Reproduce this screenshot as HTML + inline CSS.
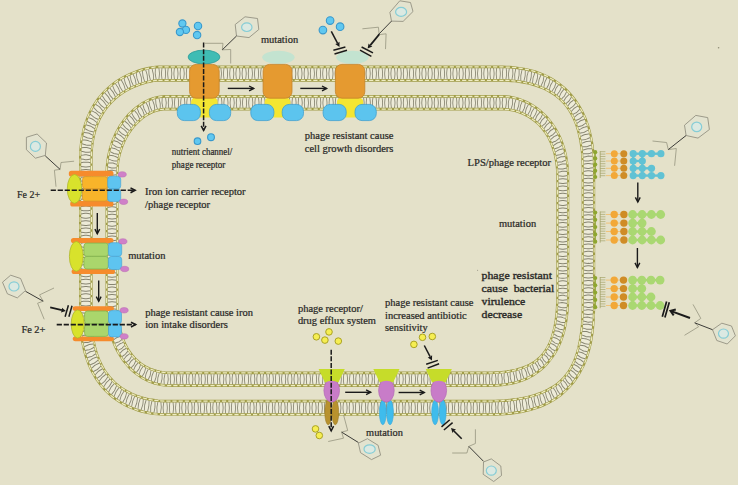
<!DOCTYPE html>
<html lang="en"><head><meta charset="utf-8"><title>Phage resistance mechanisms</title>
<style>
html,body{margin:0;padding:0;background:#e4e1c9;}
body{width:738px;height:485px;overflow:hidden;font-family:"Liberation Serif",serif;}
svg{display:block;}
</style></head><body>
<svg width="738" height="485" viewBox="0 0 738 485" font-family="'Liberation Serif', serif">
<rect width="738" height="485" fill="#e4e1c9"/>
<g transform="scale(1,1.18)" fill="none">
<path d="M158.9 62.4L162 62.4L165.1 62.4L168.2 62.4L171.3 62.4L174.4 62.4L177.5 62.4L180.6 62.4L183.7 62.4L186.8 62.4L189.9 62.4L193 62.4L196.1 62.4L199.2 62.4L202.3 62.4L205.4 62.4L208.5 62.4L211.6 62.4L214.7 62.4L217.8 62.4L220.9 62.4L224 62.4L227.1 62.4L230.2 62.4L233.3 62.4L236.4 62.4L239.5 62.4L242.6 62.4L245.7 62.4L248.8 62.4L251.9 62.4L255 62.4L258.1 62.4L261.2 62.4L264.3 62.4L267.4 62.4L270.5 62.4L273.6 62.4L276.7 62.4L279.8 62.4L282.9 62.4L286 62.4L289.1 62.4L292.2 62.4L295.3 62.4L298.4 62.4L301.5 62.4L304.6 62.4L307.7 62.4L310.8 62.4L313.9 62.4L317 62.4L320.1 62.4L323.2 62.4L326.3 62.4L329.4 62.4L332.5 62.4L335.6 62.4L338.7 62.4L341.8 62.4L344.9 62.4L348 62.4L351.1 62.4L354.2 62.4L357.3 62.4L360.4 62.4L363.5 62.4L366.6 62.4L369.7 62.4L372.8 62.4L375.9 62.4L379 62.4L382.1 62.4L385.2 62.4L388.3 62.4L391.4 62.4L394.5 62.4L397.6 62.4L400.7 62.4L403.8 62.4L406.9 62.4L410 62.4L413.1 62.4L416.2 62.4L419.3 62.4L422.4 62.4L425.5 62.4L428.6 62.4L431.7 62.4L434.8 62.4L437.9 62.4L441 62.4L444.1 62.4L447.2 62.4L450.3 62.4L453.4 62.4L456.5 62.4L459.6 62.4L462.7 62.4L465.8 62.4L468.8 62.4L471.9 62.4L475 62.4L478.1 62.4L481.2 62.4L484.3 62.4L487.4 62.4L490.5 62.4L493.6 62.4L496.7 62.4L499.8 62.4L502.9 62.4L506 62.5L509.1 62.6L512.2 62.8L515.3 63.1L518.4 63.4L521.5 63.8L524.5 64.2L527.6 64.8L530.6 65.4L533.6 66.1L536.6 66.9L539.6 67.8L542.5 68.8L545.4 69.9L548.3 71.1L551.1 72.4L553.8 73.9L556.5 75.4L559.1 77.1L561.6 78.9L564.1 80.8L566.4 82.9L568.6 85L570.7 87.3L572.7 89.7L574.6 92.2L576.3 94.7L577.9 97.4L579.4 100.1L580.8 102.9L582 105.7L583.1 108.6L584.1 111.6L584.9 114.6L585.7 117.6L586.3 120.6L586.9 123.6L587.3 126.7L587.7 129.8L588 132.9L588.2 136L588.3 139.1L588.4 142.2L588.4 145.3L588.4 148.4L588.4 151.5L588.4 154.6L588.4 157.7L588.4 160.8L588.4 163.9L588.4 167L588.4 170.1L588.4 173.2L588.4 176.3L588.4 179.4L588.4 182.5L588.4 185.6L588.4 188.7L588.4 191.8L588.4 194.9L588.4 198L588.4 201.1L588.4 204.2L588.4 207.3L588.4 210.4L588.4 213.5L588.4 216.6L588.4 219.7L588.4 222.7L588.4 225.8L588.4 228.9L588.4 232L588.4 235.1L588.4 238.2L588.4 241.3L588.4 244.4L588.4 247.5L588.4 250.6L588.4 253.7L588.4 256.8L588.4 259.9L588.3 263L588.2 266.1L588.1 269.2L587.9 272.3L587.6 275.4L587.3 278.5L586.8 281.6L586.3 284.6L585.7 287.7L585.1 290.7L584.3 293.7L583.4 296.7L582.4 299.6L581.3 302.5L580 305.3L578.7 308.1L577.2 310.8L575.5 313.4L573.7 316L571.8 318.4L569.8 320.8L567.6 323L565.4 325.1L563 327.1L560.5 328.9L557.9 330.6L555.3 332.2L552.5 333.7L549.8 335.1L546.9 336.4L544.1 337.5L541.1 338.6L538.2 339.5L535.2 340.4L532.2 341.2L529.2 341.9L526.2 342.5L523.1 343L520 343.5L517 344L513.9 344.3L510.8 344.6L507.7 344.9L504.6 345.1L501.5 345.3L498.4 345.4L495.3 345.5L492.2 345.6L489.1 345.6L486 345.6L483 345.6L479.9 345.6L476.8 345.6L473.7 345.6L470.6 345.6L467.5 345.6L464.4 345.6L461.3 345.6L458.2 345.6L455.1 345.6L452 345.6L448.9 345.6L445.8 345.6L442.7 345.6L439.6 345.6L436.5 345.6L433.4 345.6L430.3 345.6L427.2 345.6L424.1 345.6L421 345.6L417.9 345.6L414.8 345.6L411.7 345.6L408.6 345.6L405.5 345.6L402.4 345.6L399.3 345.6L396.2 345.6L393.1 345.6L390 345.6L386.9 345.6L383.8 345.6L380.7 345.6L377.6 345.6L374.5 345.6L371.4 345.6L368.3 345.6L365.2 345.6L362.1 345.6L359 345.6L355.9 345.6L352.8 345.6L349.7 345.6L346.6 345.6L343.5 345.6L340.4 345.6L337.3 345.6L334.2 345.6L331.1 345.6L328 345.6L324.9 345.6L321.8 345.6L318.7 345.6L315.6 345.6L312.5 345.6L309.4 345.6L306.3 345.6L303.2 345.6L300.1 345.6L297 345.6L293.9 345.6L290.8 345.6L287.7 345.6L284.6 345.6L281.5 345.6L278.4 345.6L275.3 345.6L272.2 345.6L269.1 345.6L266 345.6L262.9 345.6L259.8 345.6L256.7 345.6L253.6 345.6L250.5 345.6L247.4 345.6L244.3 345.6L241.2 345.6L238.1 345.6L235 345.6L231.9 345.6L228.8 345.6L225.7 345.6L222.6 345.6L219.5 345.6L216.4 345.6L213.3 345.6L210.2 345.6L207.1 345.6L204 345.6L200.9 345.6L197.8 345.6L194.7 345.6L191.6 345.6L188.5 345.6L185.4 345.6L182.3 345.6L179.2 345.6L176.1 345.6L173 345.6L169.9 345.6L166.8 345.6L163.7 345.6L160.6 345.4L157.5 345.2L154.4 344.9L151.4 344.6L148.3 344.1L145.2 343.5L142.2 342.9L139.2 342.1L136.2 341.3L133.3 340.3L130.4 339.3L127.5 338.1L124.7 336.8L121.9 335.4L119.2 333.9L116.6 332.3L114 330.5L111.5 328.7L109.1 326.7L106.8 324.6L104.7 322.4L102.6 320.1L100.6 317.7L98.8 315.2L97.1 312.6L95.5 309.9L94.1 307.2L92.8 304.4L91.6 301.5L90.5 298.6L89.6 295.6L88.8 292.7L88.1 289.6L87.4 286.6L86.9 283.5L86.5 280.5L86.2 277.4L86 274.3L85.9 271.2L85.8 268.1L85.8 265L85.8 261.9L85.8 258.8L85.8 255.7L85.8 252.6L85.8 249.5L85.8 246.4L85.8 243.3L85.8 240.2L85.8 237.1L85.8 234L85.8 230.9L85.8 227.8L85.8 224.7L85.8 221.6L85.8 218.5L85.8 215.4L85.8 212.3L85.8 209.2L85.8 206.1L85.8 203L85.8 199.9L85.8 196.8L85.8 193.7L85.8 190.6L85.8 187.5L85.8 184.4L85.8 181.3L85.8 178.2L85.8 175.1L85.8 172L85.8 168.9L85.8 165.8L85.8 162.7L85.8 159.6L85.8 156.5L85.8 153.4L85.8 150.3L85.8 147.2L85.8 144.1L85.8 141L85.8 137.9L85.8 134.8L85.8 131.7L86 128.6L86.3 125.5L86.6 122.5L87.1 119.4L87.7 116.4L88.5 113.4L89.4 110.4L90.4 107.4L91.5 104.6L92.8 101.7L94.2 99L95.8 96.3L97.5 93.7L99.3 91.2L101.3 88.8L103.3 86.5L105.5 84.3L107.8 82.2L110.2 80.2L112.6 78.3L115.2 76.6L117.8 74.9L120.5 73.4L123.2 71.9L126 70.6L128.9 69.3L131.7 68.2L134.7 67.2L137.6 66.2L140.6 65.4L143.6 64.6L146.6 63.9L149.7 63.4L152.7 62.9L155.8 62.5Z" stroke="#edebd8" stroke-width="9.9"/>
<path d="M158.9 67.2l.3-2.4l.2-1.8l0-1.2l-.2-1.8l-.3-2.4M162 67.2l-.3-2.4l-.2-1.8l0-1.2l.2-1.8l.3-2.4M165.1 67.2l.3-2.4l.2-1.8l0-1.2l-.2-1.8l-.3-2.4M168.2 67.2l-.3-2.4l-.2-1.8l0-1.2l.2-1.8l.3-2.4M171.3 67.2l.3-2.4l.2-1.8l0-1.2l-.2-1.8l-.3-2.4M174.4 67.2l-.3-2.4l-.2-1.8l0-1.2l.2-1.8l.3-2.4M177.5 67.2l.3-2.4l.2-1.8l0-1.2l-.2-1.8l-.3-2.4M180.6 67.2l-.3-2.4l-.2-1.8l0-1.2l.2-1.8l.3-2.4M183.7 67.2l.3-2.4l.2-1.8l0-1.2l-.2-1.8l-.3-2.4M186.8 67.2l-.3-2.4l-.2-1.8l0-1.2l.2-1.8l.3-2.4M189.9 67.2l.3-2.4l.2-1.8l0-1.2l-.2-1.8l-.3-2.4M193 67.2l-.3-2.4l-.2-1.8l0-1.2l.2-1.8l.3-2.4M196.1 67.2l.3-2.4l.2-1.8l0-1.2l-.2-1.8l-.3-2.4M199.2 67.2l-.3-2.4l-.2-1.8l0-1.2l.2-1.8l.3-2.4M202.3 67.2l.3-2.4l.2-1.8l0-1.2l-.2-1.8l-.3-2.4M205.4 67.2l-.3-2.4l-.2-1.8l0-1.2l.2-1.8l.3-2.4M208.5 67.2l.3-2.4l.2-1.8l0-1.2l-.2-1.8l-.3-2.4M211.6 67.2l-.3-2.4l-.2-1.8l0-1.2l.2-1.8l.3-2.4M214.7 67.2l.3-2.4l.2-1.8l0-1.2l-.2-1.8l-.3-2.4M217.8 67.2l-.3-2.4l-.2-1.8l0-1.2l.2-1.8l.3-2.4M220.9 67.2l.3-2.4l.2-1.8l0-1.2l-.2-1.8l-.3-2.4M224 67.2l-.3-2.4l-.2-1.8l0-1.2l.2-1.8l.3-2.4M227.1 67.2l.3-2.4l.2-1.8l0-1.2l-.2-1.8l-.3-2.4M230.2 67.2l-.3-2.4l-.2-1.8l0-1.2l.2-1.8l.3-2.4M233.3 67.2l.3-2.4l.2-1.8l0-1.2l-.2-1.8l-.3-2.4M236.4 67.2l-.3-2.4l-.2-1.8l0-1.2l.2-1.8l.3-2.4M239.5 67.2l.3-2.4l.2-1.8l0-1.2l-.2-1.8l-.3-2.4M242.6 67.2l-.3-2.4l-.2-1.8l0-1.2l.2-1.8l.3-2.4M245.7 67.2l.3-2.4l.2-1.8l0-1.2l-.2-1.8l-.3-2.4M248.8 67.2l-.3-2.4l-.2-1.8l0-1.2l.2-1.8l.3-2.4M251.9 67.2l.3-2.4l.2-1.8l0-1.2l-.2-1.8l-.3-2.4M255 67.2l-.3-2.4l-.2-1.8l0-1.2l.2-1.8l.3-2.4M258.1 67.2l.3-2.4l.2-1.8l0-1.2l-.2-1.8l-.3-2.4M261.2 67.2l-.3-2.4l-.2-1.8l0-1.2l.2-1.8l.3-2.4M264.3 67.2l.3-2.4l.2-1.8l0-1.2l-.2-1.8l-.3-2.4M267.4 67.2l-.3-2.4l-.2-1.8l0-1.2l.2-1.8l.3-2.4M270.5 67.2l.3-2.4l.2-1.8l0-1.2l-.2-1.8l-.3-2.4M273.6 67.2l-.3-2.4l-.2-1.8l0-1.2l.2-1.8l.3-2.4M276.7 67.2l.3-2.4l.2-1.8l0-1.2l-.2-1.8l-.3-2.4M279.8 67.2l-.3-2.4l-.2-1.8l0-1.2l.2-1.8l.3-2.4M282.9 67.2l.3-2.4l.2-1.8l0-1.2l-.2-1.8l-.3-2.4M286 67.2l-.3-2.4l-.2-1.8l0-1.2l.2-1.8l.3-2.4M289.1 67.2l.3-2.4l.2-1.8l0-1.2l-.2-1.8l-.3-2.4M292.2 67.2l-.3-2.4l-.2-1.8l0-1.2l.2-1.8l.3-2.4M295.3 67.2l.3-2.4l.2-1.8l0-1.2l-.2-1.8l-.3-2.4M298.4 67.2l-.3-2.4l-.2-1.8l0-1.2l.2-1.8l.3-2.4M301.5 67.2l.3-2.4l.2-1.8l0-1.2l-.2-1.8l-.3-2.4M304.6 67.2l-.3-2.4l-.2-1.8l0-1.2l.2-1.8l.3-2.4M307.7 67.2l.3-2.4l.2-1.8l0-1.2l-.2-1.8l-.3-2.4M310.8 67.2l-.3-2.4l-.2-1.8l0-1.2l.2-1.8l.3-2.4M313.9 67.2l.3-2.4l.2-1.8l0-1.2l-.2-1.8l-.3-2.4M317 67.2l-.3-2.4l-.2-1.8l0-1.2l.2-1.8l.3-2.4M320.1 67.2l.3-2.4l.2-1.8l0-1.2l-.2-1.8l-.3-2.4M323.2 67.2l-.3-2.4l-.2-1.8l0-1.2l.2-1.8l.3-2.4M326.3 67.2l.3-2.4l.2-1.8l0-1.2l-.2-1.8l-.3-2.4M329.4 67.2l-.3-2.4l-.2-1.8l0-1.2l.2-1.8l.3-2.4M332.5 67.2l.3-2.4l.2-1.8l0-1.2l-.2-1.8l-.3-2.4M335.6 67.2l-.3-2.4l-.2-1.8l0-1.2l.2-1.8l.3-2.4M338.7 67.2l.3-2.4l.2-1.8l0-1.2l-.2-1.8l-.3-2.4M341.8 67.2l-.3-2.4l-.2-1.8l0-1.2l.2-1.8l.3-2.4M344.9 67.2l.3-2.4l.2-1.8l0-1.2l-.2-1.8l-.3-2.4M348 67.2l-.3-2.4l-.2-1.8l0-1.2l.2-1.8l.3-2.4M351.1 67.2l.3-2.4l.2-1.8l0-1.2l-.2-1.8l-.3-2.4M354.2 67.2l-.3-2.4l-.2-1.8l0-1.2l.2-1.8l.3-2.4M357.3 67.2l.3-2.4l.2-1.8l0-1.2l-.2-1.8l-.3-2.4M360.4 67.2l-.3-2.4l-.2-1.8l0-1.2l.2-1.8l.3-2.4M363.5 67.2l.3-2.4l.2-1.8l0-1.2l-.2-1.8l-.3-2.4M366.6 67.2l-.3-2.4l-.2-1.8l0-1.2l.2-1.8l.3-2.4M369.7 67.2l.3-2.4l.2-1.8l0-1.2l-.2-1.8l-.3-2.4M372.8 67.2l-.3-2.4l-.2-1.8l0-1.2l.2-1.8l.3-2.4M375.9 67.2l.3-2.4l.2-1.8l0-1.2l-.2-1.8l-.3-2.4M379 67.2l-.3-2.4l-.2-1.8l0-1.2l.2-1.8l.3-2.4M382.1 67.2l.3-2.4l.2-1.8l0-1.2l-.2-1.8l-.3-2.4M385.2 67.2l-.3-2.4l-.2-1.8l0-1.2l.2-1.8l.3-2.4M388.3 67.2l.3-2.4l.2-1.8l0-1.2l-.2-1.8l-.3-2.4M391.4 67.2l-.3-2.4l-.2-1.8l0-1.2l.2-1.8l.3-2.4M394.5 67.2l.3-2.4l.2-1.8l0-1.2l-.2-1.8l-.3-2.4M397.6 67.2l-.3-2.4l-.2-1.8l0-1.2l.2-1.8l.3-2.4M400.7 67.2l.3-2.4l.2-1.8l0-1.2l-.2-1.8l-.3-2.4M403.8 67.2l-.3-2.4l-.2-1.8l0-1.2l.2-1.8l.3-2.4M406.9 67.2l.3-2.4l.2-1.8l0-1.2l-.2-1.8l-.3-2.4M410 67.2l-.3-2.4l-.2-1.8l0-1.2l.2-1.8l.3-2.4M413.1 67.2l.3-2.4l.2-1.8l0-1.2l-.2-1.8l-.3-2.4M416.2 67.2l-.3-2.4l-.2-1.8l0-1.2l.2-1.8l.3-2.4M419.3 67.2l.3-2.4l.2-1.8l0-1.2l-.2-1.8l-.3-2.4M422.4 67.2l-.3-2.4l-.2-1.8l0-1.2l.2-1.8l.3-2.4M425.5 67.2l.3-2.4l.2-1.8l0-1.2l-.2-1.8l-.3-2.4M428.6 67.2l-.3-2.4l-.2-1.8l0-1.2l.2-1.8l.3-2.4M431.7 67.2l.3-2.4l.2-1.8l0-1.2l-.2-1.8l-.3-2.4M434.8 67.2l-.3-2.4l-.2-1.8l0-1.2l.2-1.8l.3-2.4M437.9 67.2l.3-2.4l.2-1.8l0-1.2l-.2-1.8l-.3-2.4M441 67.2l-.3-2.4l-.2-1.8l0-1.2l.2-1.8l.3-2.4M444.1 67.2l.3-2.4l.2-1.8l0-1.2l-.2-1.8l-.3-2.4M447.2 67.2l-.3-2.4l-.2-1.8l0-1.2l.2-1.8l.3-2.4M450.3 67.2l.3-2.4l.2-1.8l0-1.2l-.2-1.8l-.3-2.4M453.4 67.2l-.3-2.4l-.2-1.8l0-1.2l.2-1.8l.3-2.4M456.5 67.2l.3-2.4l.2-1.8l0-1.2l-.2-1.8l-.3-2.4M459.6 67.2l-.3-2.4l-.2-1.8l0-1.2l.2-1.8l.3-2.4M462.7 67.2l.3-2.4l.2-1.8l0-1.2l-.2-1.8l-.3-2.4M465.8 67.2l-.3-2.4l-.2-1.8l0-1.2l.2-1.8l.3-2.4M468.8 67.2l.3-2.4l.2-1.8l0-1.2l-.2-1.8l-.3-2.4M471.9 67.2l-.3-2.4l-.2-1.8l0-1.2l.2-1.8l.3-2.4M475 67.2l.3-2.4l.2-1.8l0-1.2l-.2-1.8l-.3-2.4M478.1 67.2l-.3-2.4l-.2-1.8l0-1.2l.2-1.8l.3-2.4M481.2 67.2l.3-2.4l.2-1.8l0-1.2l-.2-1.8l-.3-2.4M484.3 67.2l-.3-2.4l-.2-1.8l0-1.2l.2-1.8l.3-2.4M487.4 67.2l.3-2.4l.2-1.8l0-1.2l-.2-1.8l-.3-2.4M490.5 67.2l-.3-2.4l-.2-1.8l0-1.2l.2-1.8l.3-2.4M493.6 67.2l.3-2.4l.2-1.8l0-1.2l-.2-1.8l-.3-2.4M496.7 67.2l-.3-2.4l-.2-1.8l0-1.2l.2-1.8l.3-2.4M499.8 67.2l.3-2.4l.2-1.8l0-1.2l-.2-1.8l-.3-2.4M502.9 67.2l-.3-2.4l-.2-1.8l0-1.2l.3-1.8l.3-2.4M505.9 67.3l.4-2.4l.3-1.8l0-1.2l-.2-1.8l-.2-2.4M508.9 67.4l-.2-2.4l-.2-1.8l.1-1.1l.3-1.8l.4-2.4M511.9 67.6l.5-2.4l.4-1.8l.1-1.1l-.1-1.8l-.1-2.4M514.9 67.8l-.1-2.4l-.1-1.8l.1-1.1l.4-1.8l.5-2.3M517.9 68.1l.6-2.3l.5-1.8l.1-1.1l0-1.8l0-2.4M520.8 68.5l0-2.4l0-1.8l.2-1.1l.5-1.8l.6-2.3M523.8 68.9l.7-2.3l.5-1.7l.2-1.1l0-1.8l.1-2.4M526.7 69.4l.1-2.4l.1-1.8l.2-1.1l.6-1.7l.7-2.3M529.6 70l.8-2.2l.6-1.7l.2-1.1l.1-1.8l.2-2.3M532.5 70.6l.3-2.3l.2-1.8l.3-1.1l.7-1.6l.9-2.2M535.4 71.3l.9-2.1l.7-1.6l.3-1.1l.2-1.7l.3-2.3M538.2 72.1l.4-2.3l.3-1.7l.3-1l.8-1.6l1-2.1M541 73l1-2l.8-1.5l.4-1l.3-1.7l.5-2.2M543.8 74l.5-2.2l.4-1.7l.4-1l.9-1.5l1.1-1.9M546.5 75.1l1.2-1.9l.9-1.4l.4-1l.5-1.6l.6-2.1M549.2 76.3l.7-2.1l.5-1.6l.5-.9l1-1.4l1.2-1.8M551.8 77.6l1.3-1.7l1-1.3l.5-.9l.6-1.5l.8-2M554.3 79l.8-2l.6-1.5l.5-.9l1-1.2l1.4-1.6M556.8 80.6l1.4-1.6l1.1-1.2l.6-.8l.7-1.4l.9-1.9M559.2 82.2l1-1.8l.7-1.4l.6-.8l1.1-1.1l1.5-1.5M561.5 84l1.5-1.4l1.2-1l.6-.8l.8-1.4l1.1-1.8M563.6 85.9l1.2-1.7l.9-1.3l.7-.7l1.2-1l1.6-1.3M565.7 87.9l1.7-1.2l1.3-.9l.7-.7l.9-1.3l1.2-1.6M567.7 90l1.3-1.6l1-1.2l.7-.6l1.3-.8l1.7-1.1M569.5 92.2l1.8-1l1.4-.8l.8-.6l1.1-1.2l1.4-1.5M571.2 94.6l1.5-1.4l1.1-1.1l.8-.6l1.4-.7l1.9-1M572.8 97l1.9-.9l1.5-.6l.8-.5l1.2-1.1l1.6-1.4M574.2 99.5l1.7-1.3l1.3-1l.9-.5l1.5-.6l2-.8M575.6 102.1l2.1-.7l1.6-.5l.9-.5l1.3-1l1.8-1.3M576.8 104.7l1.9-1.2l1.4-.9l1-.4l1.6-.5l2.1-.6M577.9 107.4l2.2-.5l1.7-.4l1-.4l1.5-.9l1.9-1.1M578.8 110.2l2-1l1.5-.8l1-.4l1.7-.3l2.2-.5M579.7 112.9l2.3-.4l1.7-.3l1-.3l1.6-.8l2.1-1M580.5 115.8l2.1-.9l1.6-.7l1.1-.3l1.8-.2l2.3-.3M581.2 118.6l2.3-.2l1.8-.2l1.1-.3l1.7-.6l2.2-.8M581.7 121.5l2.2-.8l1.7-.6l1.1-.2l1.8-.1l2.4-.2M582.2 124.4l2.4-.1l1.8 0l1.1-.2l1.7-.5l2.3-.7M582.6 127.3l2.3-.6l1.8-.5l1.1-.2l1.8 0l2.4 0M583 130.3l2.4 0l1.8 .1l1.1-.1l1.8-.4l2.3-.6M583.2 133.3l2.4-.5l1.8-.4l1.1-.1l1.8 .1l2.4 .1M583.4 136.2l2.4 .2l1.8 .1l1.1-.1l1.8-.3l2.4-.4M583.5 139.2l2.4-.4l1.8-.3l1.2 0l1.8 .2l2.4 .2M583.6 142.2l2.4 .3l1.8 .2l1.2 0l1.8-.3l2.4-.3M583.6 145.3l2.4-.3l1.8-.2l1.2 0l1.8 .2l2.4 .3M583.6 148.4l2.4 .3l1.8 .2l1.2 0l1.8-.2l2.4-.3M583.6 151.5l2.4-.3l1.8-.2l1.2 0l1.8 .2l2.4 .3M583.6 154.6l2.4 .3l1.8 .2l1.2 0l1.8-.2l2.4-.3M583.6 157.7l2.4-.3l1.8-.2l1.2 0l1.8 .2l2.4 .3M583.6 160.8l2.4 .3l1.8 .2l1.2 0l1.8-.2l2.4-.3M583.6 163.9l2.4-.3l1.8-.2l1.2 0l1.8 .2l2.4 .3M583.6 167l2.4 .3l1.8 .2l1.2 0l1.8-.2l2.4-.3M583.6 170.1l2.4-.3l1.8-.2l1.2 0l1.8 .2l2.4 .3M583.6 173.2l2.4 .3l1.8 .2l1.2 0l1.8-.2l2.4-.3M583.6 176.3l2.4-.3l1.8-.2l1.2 0l1.8 .2l2.4 .3M583.6 179.4l2.4 .3l1.8 .2l1.2 0l1.8-.2l2.4-.3M583.6 182.5l2.4-.3l1.8-.2l1.2 0l1.8 .2l2.4 .3M583.6 185.6l2.4 .3l1.8 .2l1.2 0l1.8-.2l2.4-.3M583.6 188.7l2.4-.3l1.8-.2l1.2 0l1.8 .2l2.4 .3M583.6 191.8l2.4 .3l1.8 .2l1.2 0l1.8-.2l2.4-.3M583.6 194.9l2.4-.3l1.8-.2l1.2 0l1.8 .2l2.4 .3M583.6 198l2.4 .3l1.8 .2l1.2 0l1.8-.2l2.4-.3M583.6 201.1l2.4-.3l1.8-.2l1.2 0l1.8 .2l2.4 .3M583.6 204.2l2.4 .3l1.8 .2l1.2 0l1.8-.2l2.4-.3M583.6 207.3l2.4-.3l1.8-.2l1.2 0l1.8 .2l2.4 .3M583.6 210.4l2.4 .3l1.8 .2l1.2 0l1.8-.2l2.4-.3M583.6 213.5l2.4-.3l1.8-.2l1.2 0l1.8 .2l2.4 .3M583.6 216.6l2.4 .3l1.8 .2l1.2 0l1.8-.2l2.4-.3M583.6 219.7l2.4-.3l1.8-.2l1.2 0l1.8 .2l2.4 .3M583.6 222.7l2.4 .3l1.8 .2l1.2 0l1.8-.2l2.4-.3M583.6 225.8l2.4-.3l1.8-.2l1.2 0l1.8 .2l2.4 .3M583.6 228.9l2.4 .3l1.8 .2l1.2 0l1.8-.2l2.4-.3M583.6 232l2.4-.3l1.8-.2l1.2 0l1.8 .2l2.4 .3M583.6 235.1l2.4 .3l1.8 .2l1.2 0l1.8-.2l2.4-.3M583.6 238.2l2.4-.3l1.8-.2l1.2 0l1.8 .2l2.4 .3M583.6 241.3l2.4 .3l1.8 .2l1.2 0l1.8-.2l2.4-.3M583.6 244.4l2.4-.3l1.8-.2l1.2 0l1.8 .2l2.4 .3M583.6 247.5l2.4 .3l1.8 .2l1.2 0l1.8-.2l2.4-.3M583.6 250.6l2.4-.3l1.8-.2l1.2 0l1.8 .2l2.4 .3M583.6 253.7l2.4 .3l1.8 .2l1.2 0l1.8-.2l2.4-.3M583.6 256.8l2.4-.3l1.8-.2l1.2 0l1.8 .2l2.4 .3M583.6 259.9l2.4 .3l1.8 .3l1.2 0l1.8-.2l2.4-.3M583.5 262.9l2.4-.2l1.8-.2l1.2 0l1.8 .3l2.4 .4M583.5 265.9l2.4 .4l1.8 .3l1.1 0l1.8-.2l2.4-.2M583.3 269l2.4-.2l1.8-.1l1.1 .1l1.8 .4l2.4 .4M583.1 272l2.4 .5l1.8 .4l1.1 .1l1.8-.1l2.4-.1M582.9 274.9l2.4-.1l1.8-.1l1.1 .1l1.8 .4l2.3 .5M582.6 277.9l2.3 .6l1.8 .5l1.1 .1l1.8 0l2.4 0M582.2 280.9l2.4 .1l1.8 0l1.1 .2l1.7 .5l2.3 .6M581.7 283.8l2.3 .7l1.7 .6l1.1 .2l1.8 .1l2.4 .1M581.2 286.7l2.3 .2l1.8 .1l1.1 .2l1.7 .6l2.2 .8M580.6 289.6l2.2 .8l1.6 .7l1.1 .3l1.8 .2l2.3 .2M579.9 292.5l2.3 .3l1.7 .2l1 .3l1.6 .7l2.1 .9M579.1 295.3l2 1l1.5 .8l1 .3l1.7 .3l2.2 .4M578.3 298.1l2.2 .5l1.7 .3l1 .4l1.5 .8l2 1M577.3 300.8l1.9 1.1l1.4 .9l1 .4l1.6 .4l2.1 .5M576.2 303.5l2 .6l1.6 .5l.9 .4l1.4 .9l1.8 1.2M575 306.2l1.7 1.2l1.3 1l.9 .5l1.5 .5l2 .7M573.7 308.7l1.9 .8l1.5 .6l.8 .5l1.2 1l1.6 1.3M572.2 311.2l1.5 1.3l1.1 1l.8 .5l1.4 .6l1.8 .8M570.6 313.7l1.8 .9l1.3 .7l.8 .6l1.1 1.1l1.4 1.4M568.9 316l1.3 1.5l1 1.1l.7 .6l1.3 .7l1.7 1M567 318.2l1.6 1.1l1.2 .8l.7 .6l.9 1.2l1.2 1.5M565 320.2l1.1 1.6l.8 1.2l.6 .7l1.2 .9l1.6 1.2M562.8 322.2l1.5 1.2l1.1 .9l.6 .7l.8 1.3l1 1.6M560.6 324l1 1.7l.7 1.3l.6 .7l1.1 1l1.4 1.3M558.2 325.7l1.4 1.4l1.1 1.1l.5 .8l.7 1.4l.9 1.8M555.8 327.3l.8 1.8l.6 1.4l.5 .8l1 1.1l1.3 1.5M553.2 328.7l1.3 1.6l1 1.2l.5 .8l.6 1.5l.8 1.9M550.6 330l.7 2l.5 1.5l.5 .9l.9 1.3l1.2 1.7M548 331.3l1.2 1.8l.9 1.4l.4 .9l.5 1.6l.6 2M545.3 332.4l.6 2.1l.4 1.6l.4 1l.9 1.4l1.1 1.9M542.5 333.4l1.1 1.9l.8 1.5l.4 1l.4 1.6l.5 2.2M539.7 334.4l.4 2.2l.3 1.7l.3 1l.8 1.5l1 2M536.9 335.2l.9 2.1l.7 1.6l.3 1l.3 1.7l.4 2.2M534 336l.3 2.3l.2 1.7l.3 1.1l.7 1.6l.9 2.1M531.1 336.7l.8 2.2l.7 1.6l.3 1.1l.2 1.8l.3 2.3M528.2 337.3l.2 2.3l.1 1.8l.2 1.1l.6 1.7l.8 2.2M525.3 337.9l.7 2.2l.6 1.7l.2 1.1l.1 1.8l.1 2.3M522.3 338.4l.1 2.4l.1 1.8l.2 1.1l.5 1.7l.7 2.3M519.4 338.9l.6 2.3l.5 1.7l.2 1.1l0 1.8l0 2.4M516.4 339.3l0 2.4l0 1.8l.1 1.1l.5 1.8l.6 2.3M513.4 339.6l.6 2.3l.4 1.8l.1 1.1l0 1.8l0 2.4M510.4 339.9l-.1 2.4l-.1 1.8l.1 1.1l.4 1.8l.5 2.3M507.4 340.1l.5 2.4l.4 1.8l.1 1.1l-.1 1.8l-.1 2.4M504.3 340.4l-.2 2.4l-.1 1.8l.1 1.1l.4 1.8l.5 2.4M501.3 340.5l.4 2.4l.3 1.8l.1 1.1l-.2 1.8l-.2 2.4M498.3 340.6l-.2 2.4l-.2 1.8l0 1.2l.3 1.8l.4 2.4M495.2 340.7l.4 2.4l.3 1.8l0 1.2l-.2 1.8l-.2 2.4M492.2 340.8l-.3 2.4l-.2 1.8l0 1.2l.3 1.8l.3 2.4M489.1 340.8l.3 2.4l.2 1.8l0 1.2l-.2 1.8l-.3 2.4M486 340.8l-.3 2.4l-.2 1.8l0 1.2l.2 1.8l.3 2.4M483 340.8l.3 2.4l.2 1.8l0 1.2l-.2 1.8l-.3 2.4M479.9 340.8l-.3 2.4l-.2 1.8l0 1.2l.2 1.8l.3 2.4M476.8 340.8l.3 2.4l.2 1.8l0 1.2l-.2 1.8l-.3 2.4M473.7 340.8l-.3 2.4l-.2 1.8l0 1.2l.2 1.8l.3 2.4M470.6 340.8l.3 2.4l.2 1.8l0 1.2l-.2 1.8l-.3 2.4M467.5 340.8l-.3 2.4l-.2 1.8l0 1.2l.2 1.8l.3 2.4M464.4 340.8l.3 2.4l.2 1.8l0 1.2l-.2 1.8l-.3 2.4M461.3 340.8l-.3 2.4l-.2 1.8l0 1.2l.2 1.8l.3 2.4M458.2 340.8l.3 2.4l.2 1.8l0 1.2l-.2 1.8l-.3 2.4M455.1 340.8l-.3 2.4l-.2 1.8l0 1.2l.2 1.8l.3 2.4M452 340.8l.3 2.4l.2 1.8l0 1.2l-.2 1.8l-.3 2.4M448.9 340.8l-.3 2.4l-.2 1.8l0 1.2l.2 1.8l.3 2.4M445.8 340.8l.3 2.4l.2 1.8l0 1.2l-.2 1.8l-.3 2.4M442.7 340.8l-.3 2.4l-.2 1.8l0 1.2l.2 1.8l.3 2.4M439.6 340.8l.3 2.4l.2 1.8l0 1.2l-.2 1.8l-.3 2.4M436.5 340.8l-.3 2.4l-.2 1.8l0 1.2l.2 1.8l.3 2.4M433.4 340.8l.3 2.4l.2 1.8l0 1.2l-.2 1.8l-.3 2.4M430.3 340.8l-.3 2.4l-.2 1.8l0 1.2l.2 1.8l.3 2.4M427.2 340.8l.3 2.4l.2 1.8l0 1.2l-.2 1.8l-.3 2.4M424.1 340.8l-.3 2.4l-.2 1.8l0 1.2l.2 1.8l.3 2.4M421 340.8l.3 2.4l.2 1.8l0 1.2l-.2 1.8l-.3 2.4M417.9 340.8l-.3 2.4l-.2 1.8l0 1.2l.2 1.8l.3 2.4M414.8 340.8l.3 2.4l.2 1.8l0 1.2l-.2 1.8l-.3 2.4M411.7 340.8l-.3 2.4l-.2 1.8l0 1.2l.2 1.8l.3 2.4M408.6 340.8l.3 2.4l.2 1.8l0 1.2l-.2 1.8l-.3 2.4M405.5 340.8l-.3 2.4l-.2 1.8l0 1.2l.2 1.8l.3 2.4M402.4 340.8l.3 2.4l.2 1.8l0 1.2l-.2 1.8l-.3 2.4M399.3 340.8l-.3 2.4l-.2 1.8l0 1.2l.2 1.8l.3 2.4M396.2 340.8l.3 2.4l.2 1.8l0 1.2l-.2 1.8l-.3 2.4M393.1 340.8l-.3 2.4l-.2 1.8l0 1.2l.2 1.8l.3 2.4M390 340.8l.3 2.4l.2 1.8l0 1.2l-.2 1.8l-.3 2.4M386.9 340.8l-.3 2.4l-.2 1.8l0 1.2l.2 1.8l.3 2.4M383.8 340.8l.3 2.4l.2 1.8l0 1.2l-.2 1.8l-.3 2.4M380.7 340.8l-.3 2.4l-.2 1.8l0 1.2l.2 1.8l.3 2.4M377.6 340.8l.3 2.4l.2 1.8l0 1.2l-.2 1.8l-.3 2.4M374.5 340.8l-.3 2.4l-.2 1.8l0 1.2l.2 1.8l.3 2.4M371.4 340.8l.3 2.4l.2 1.8l0 1.2l-.2 1.8l-.3 2.4M368.3 340.8l-.3 2.4l-.2 1.8l0 1.2l.2 1.8l.3 2.4M365.2 340.8l.3 2.4l.2 1.8l0 1.2l-.2 1.8l-.3 2.4M362.1 340.8l-.3 2.4l-.2 1.8l0 1.2l.2 1.8l.3 2.4M359 340.8l.3 2.4l.2 1.8l0 1.2l-.2 1.8l-.3 2.4M355.9 340.8l-.3 2.4l-.2 1.8l0 1.2l.2 1.8l.3 2.4M352.8 340.8l.3 2.4l.2 1.8l0 1.2l-.2 1.8l-.3 2.4M349.7 340.8l-.3 2.4l-.2 1.8l0 1.2l.2 1.8l.3 2.4M346.6 340.8l.3 2.4l.2 1.8l0 1.2l-.2 1.8l-.3 2.4M343.5 340.8l-.3 2.4l-.2 1.8l0 1.2l.2 1.8l.3 2.4M340.4 340.8l.3 2.4l.2 1.8l0 1.2l-.2 1.8l-.3 2.4M337.3 340.8l-.3 2.4l-.2 1.8l0 1.2l.2 1.8l.3 2.4M334.2 340.8l.3 2.4l.2 1.8l0 1.2l-.2 1.8l-.3 2.4M331.1 340.8l-.3 2.4l-.2 1.8l0 1.2l.2 1.8l.3 2.4M328 340.8l.3 2.4l.2 1.8l0 1.2l-.2 1.8l-.3 2.4M324.9 340.8l-.3 2.4l-.2 1.8l0 1.2l.2 1.8l.3 2.4M321.8 340.8l.3 2.4l.2 1.8l0 1.2l-.2 1.8l-.3 2.4M318.7 340.8l-.3 2.4l-.2 1.8l0 1.2l.2 1.8l.3 2.4M315.6 340.8l.3 2.4l.2 1.8l0 1.2l-.2 1.8l-.3 2.4M312.5 340.8l-.3 2.4l-.2 1.8l0 1.2l.2 1.8l.3 2.4M309.4 340.8l.3 2.4l.2 1.8l0 1.2l-.2 1.8l-.3 2.4M306.3 340.8l-.3 2.4l-.2 1.8l0 1.2l.2 1.8l.3 2.4M303.2 340.8l.3 2.4l.2 1.8l0 1.2l-.2 1.8l-.3 2.4M300.1 340.8l-.3 2.4l-.2 1.8l0 1.2l.2 1.8l.3 2.4M297 340.8l.3 2.4l.2 1.8l0 1.2l-.2 1.8l-.3 2.4M293.9 340.8l-.3 2.4l-.2 1.8l0 1.2l.2 1.8l.3 2.4M290.8 340.8l.3 2.4l.2 1.8l0 1.2l-.2 1.8l-.3 2.4M287.7 340.8l-.3 2.4l-.2 1.8l0 1.2l.2 1.8l.3 2.4M284.6 340.8l.3 2.4l.2 1.8l0 1.2l-.2 1.8l-.3 2.4M281.5 340.8l-.3 2.4l-.2 1.8l0 1.2l.2 1.8l.3 2.4M278.4 340.8l.3 2.4l.2 1.8l0 1.2l-.2 1.8l-.3 2.4M275.3 340.8l-.3 2.4l-.2 1.8l0 1.2l.2 1.8l.3 2.4M272.2 340.8l.3 2.4l.2 1.8l0 1.2l-.2 1.8l-.3 2.4M269.1 340.8l-.3 2.4l-.2 1.8l0 1.2l.2 1.8l.3 2.4M266 340.8l.3 2.4l.2 1.8l0 1.2l-.2 1.8l-.3 2.4M262.9 340.8l-.3 2.4l-.2 1.8l0 1.2l.2 1.8l.3 2.4M259.8 340.8l.3 2.4l.2 1.8l0 1.2l-.2 1.8l-.3 2.4M256.7 340.8l-.3 2.4l-.2 1.8l0 1.2l.2 1.8l.3 2.4M253.6 340.8l.3 2.4l.2 1.8l0 1.2l-.2 1.8l-.3 2.4M250.5 340.8l-.3 2.4l-.2 1.8l0 1.2l.2 1.8l.3 2.4M247.4 340.8l.3 2.4l.2 1.8l0 1.2l-.2 1.8l-.3 2.4M244.3 340.8l-.3 2.4l-.2 1.8l0 1.2l.2 1.8l.3 2.4M241.2 340.8l.3 2.4l.2 1.8l0 1.2l-.2 1.8l-.3 2.4M238.1 340.8l-.3 2.4l-.2 1.8l0 1.2l.2 1.8l.3 2.4M235 340.8l.3 2.4l.2 1.8l0 1.2l-.2 1.8l-.3 2.4M231.9 340.8l-.3 2.4l-.2 1.8l0 1.2l.2 1.8l.3 2.4M228.8 340.8l.3 2.4l.2 1.8l0 1.2l-.2 1.8l-.3 2.4M225.7 340.8l-.3 2.4l-.2 1.8l0 1.2l.2 1.8l.3 2.4M222.6 340.8l.3 2.4l.2 1.8l0 1.2l-.2 1.8l-.3 2.4M219.5 340.8l-.3 2.4l-.2 1.8l0 1.2l.2 1.8l.3 2.4M216.4 340.8l.3 2.4l.2 1.8l0 1.2l-.2 1.8l-.3 2.4M213.3 340.8l-.3 2.4l-.2 1.8l0 1.2l.2 1.8l.3 2.4M210.2 340.8l.3 2.4l.2 1.8l0 1.2l-.2 1.8l-.3 2.4M207.1 340.8l-.3 2.4l-.2 1.8l0 1.2l.2 1.8l.3 2.4M204 340.8l.3 2.4l.2 1.8l0 1.2l-.2 1.8l-.3 2.4M200.9 340.8l-.3 2.4l-.2 1.8l0 1.2l.2 1.8l.3 2.4M197.8 340.8l.3 2.4l.2 1.8l0 1.2l-.2 1.8l-.3 2.4M194.7 340.8l-.3 2.4l-.2 1.8l0 1.2l.2 1.8l.3 2.4M191.6 340.8l.3 2.4l.2 1.8l0 1.2l-.2 1.8l-.3 2.4M188.5 340.8l-.3 2.4l-.2 1.8l0 1.2l.2 1.8l.3 2.4M185.4 340.8l.3 2.4l.2 1.8l0 1.2l-.2 1.8l-.3 2.4M182.3 340.8l-.3 2.4l-.2 1.8l0 1.2l.2 1.8l.3 2.4M179.2 340.8l.3 2.4l.2 1.8l0 1.2l-.2 1.8l-.3 2.4M176.1 340.8l-.3 2.4l-.2 1.8l0 1.2l.2 1.8l.3 2.4M173 340.8l.3 2.4l.2 1.8l0 1.2l-.2 1.8l-.3 2.4M169.9 340.8l-.3 2.4l-.2 1.8l0 1.2l.2 1.8l.3 2.4M166.8 340.8l.3 2.4l.2 1.8l0 1.2l-.2 1.8l-.3 2.4M163.8 340.8l-.4 2.4l-.3 1.8l0 1.2l.2 1.8l.2 2.4M160.9 340.7l.2 2.4l.2 1.8l-.1 1.1l-.3 1.8l-.4 2.4M157.9 340.5l-.5 2.4l-.4 1.8l-.1 1.1l.1 1.8l.1 2.4M155 340.2l0 2.4l0 1.8l-.1 1.1l-.4 1.8l-.6 2.3M152 339.8l-.6 2.3l-.5 1.8l-.2 1.1l0 1.8l0 2.4M149.1 339.4l-.1 2.4l-.1 1.8l-.2 1.1l-.5 1.8l-.7 2.3M146.2 338.8l-.8 2.3l-.6 1.7l-.2 1.1l-.1 1.8l-.2 2.4M143.3 338.2l-.2 2.4l-.2 1.8l-.3 1.1l-.7 1.7l-.8 2.3M140.4 337.5l-.9 2.2l-.7 1.7l-.3 1.1l-.2 1.8l-.3 2.4M137.6 336.7l-.4 2.4l-.3 1.8l-.3 1.1l-.8 1.7l-1 2.2M134.8 335.8l-1.1 2.1l-.8 1.6l-.4 1.1l-.4 1.8l-.5 2.3M132.1 334.8l-.6 2.3l-.4 1.8l-.4 1.1l-.9 1.6l-1.1 2.1M129.4 333.8l-1.2 2l-.9 1.5l-.4 1l-.5 1.7l-.7 2.3M126.7 332.6l-.7 2.2l-.5 1.7l-.5 1l-1 1.5l-1.3 2M124.1 331.3l-1.4 1.9l-1.1 1.5l-.5 1l-.6 1.7l-.8 2.2M121.6 329.9l-.9 2.2l-.7 1.7l-.6 1l-1.1 1.4l-1.4 1.9M119.1 328.4l-1.5 1.8l-1.2 1.4l-.6 .9l-.8 1.6l-1 2.1M116.7 326.8l-1.1 2.1l-.8 1.6l-.6 .9l-1.2 1.3l-1.6 1.7M114.4 325l-1.7 1.6l-1.3 1.2l-.7 .9l-.9 1.5l-1.2 2M112.2 323.2l-1.3 1.9l-1 1.5l-.7 .8l-1.3 1.2l-1.7 1.6M110 321.3l-1.8 1.5l-1.4 1.1l-.8 .8l-1 1.4l-1.4 1.9M108 319.2l-1.5 1.8l-1.1 1.4l-.8 .8l-1.5 1l-1.9 1.4M106.1 317.1l-2 1.3l-1.5 1l-.8 .7l-1.2 1.3l-1.6 1.7M104.3 314.9l-1.7 1.7l-1.2 1.3l-.9 .7l-1.6 .9l-2 1.2M102.6 312.5l-2.1 1.1l-1.6 .8l-.9 .6l-1.3 1.2l-1.7 1.6M101.1 310.1l-1.8 1.5l-1.4 1.1l-1 .6l-1.6 .7l-2.1 1M99.6 307.6l-2.2 .9l-1.7 .7l-1 .5l-1.4 1.1l-1.9 1.4M98.3 305.1l-2 1.3l-1.5 1l-1 .5l-1.7 .6l-2.2 .8M97.1 302.5l-2.3 .7l-1.7 .5l-1 .5l-1.5 1l-2 1.2M96 299.8l-2.1 1.1l-1.6 .9l-1.1 .4l-1.8 .4l-2.3 .6M95 297.1l-2.3 .5l-1.8 .3l-1.1 .4l-1.6 .8l-2.1 1.1M94.1 294.3l-2.2 1l-1.7 .8l-1.1 .3l-1.8 .3l-2.4 .4M93.4 291.5l-2.4 .3l-1.8 .2l-1.1 .3l-1.7 .7l-2.2 .9M92.7 288.6l-2.3 .8l-1.7 .6l-1.1 .2l-1.8 .1l-2.4 .2M92.1 285.7l-2.4 .1l-1.8 .1l-1.1 .2l-1.7 .6l-2.3 .7M91.7 282.8l-2.3 .7l-1.8 .5l-1.1 .2l-1.8 0l-2.4 .1M91.3 279.9l-2.4 0l-1.8 0l-1.1 .1l-1.8 .5l-2.3 .6M91 277l-2.4 .5l-1.8 .4l-1.1 .1l-1.8-.1l-2.4-.1M90.8 274l-2.4-.2l-1.8-.1l-1.1 .1l-1.8 .4l-2.4 .4M90.7 271l-2.4 .4l-1.8 .3l-1.2 0l-1.8-.2l-2.4-.2M90.6 268.1l-2.4-.3l-1.8-.2l-1.2 0l-1.8 .3l-2.4 .3M90.6 265l-2.4 .3l-1.8 .2l-1.2 0l-1.8-.2l-2.4-.3M90.6 261.9l-2.4-.3l-1.8-.2l-1.2 0l-1.8 .2l-2.4 .3M90.6 258.8l-2.4 .3l-1.8 .2l-1.2 0l-1.8-.2l-2.4-.3M90.6 255.7l-2.4-.3l-1.8-.2l-1.2 0l-1.8 .2l-2.4 .3M90.6 252.6l-2.4 .3l-1.8 .2l-1.2 0l-1.8-.2l-2.4-.3M90.6 249.5l-2.4-.3l-1.8-.2l-1.2 0l-1.8 .2l-2.4 .3M90.6 246.4l-2.4 .3l-1.8 .2l-1.2 0l-1.8-.2l-2.4-.3M90.6 243.3l-2.4-.3l-1.8-.2l-1.2 0l-1.8 .2l-2.4 .3M90.6 240.2l-2.4 .3l-1.8 .2l-1.2 0l-1.8-.2l-2.4-.3M90.6 237.1l-2.4-.3l-1.8-.2l-1.2 0l-1.8 .2l-2.4 .3M90.6 234l-2.4 .3l-1.8 .2l-1.2 0l-1.8-.2l-2.4-.3M90.6 230.9l-2.4-.3l-1.8-.2l-1.2 0l-1.8 .2l-2.4 .3M90.6 227.8l-2.4 .3l-1.8 .2l-1.2 0l-1.8-.2l-2.4-.3M90.6 224.7l-2.4-.3l-1.8-.2l-1.2 0l-1.8 .2l-2.4 .3M90.6 221.6l-2.4 .3l-1.8 .2l-1.2 0l-1.8-.2l-2.4-.3M90.6 218.5l-2.4-.3l-1.8-.2l-1.2 0l-1.8 .2l-2.4 .3M90.6 215.4l-2.4 .3l-1.8 .2l-1.2 0l-1.8-.2l-2.4-.3M90.6 212.3l-2.4-.3l-1.8-.2l-1.2 0l-1.8 .2l-2.4 .3M90.6 209.2l-2.4 .3l-1.8 .2l-1.2 0l-1.8-.2l-2.4-.3M90.6 206.1l-2.4-.3l-1.8-.2l-1.2 0l-1.8 .2l-2.4 .3M90.6 203l-2.4 .3l-1.8 .2l-1.2 0l-1.8-.2l-2.4-.3M90.6 199.9l-2.4-.3l-1.8-.2l-1.2 0l-1.8 .2l-2.4 .3M90.6 196.8l-2.4 .3l-1.8 .2l-1.2 0l-1.8-.2l-2.4-.3M90.6 193.7l-2.4-.3l-1.8-.2l-1.2 0l-1.8 .2l-2.4 .3M90.6 190.6l-2.4 .3l-1.8 .2l-1.2 0l-1.8-.2l-2.4-.3M90.6 187.5l-2.4-.3l-1.8-.2l-1.2 0l-1.8 .2l-2.4 .3M90.6 184.4l-2.4 .3l-1.8 .2l-1.2 0l-1.8-.2l-2.4-.3M90.6 181.3l-2.4-.3l-1.8-.2l-1.2 0l-1.8 .2l-2.4 .3M90.6 178.2l-2.4 .3l-1.8 .2l-1.2 0l-1.8-.2l-2.4-.3M90.6 175.1l-2.4-.3l-1.8-.2l-1.2 0l-1.8 .2l-2.4 .3M90.6 172l-2.4 .3l-1.8 .2l-1.2 0l-1.8-.2l-2.4-.3M90.6 168.9l-2.4-.3l-1.8-.2l-1.2 0l-1.8 .2l-2.4 .3M90.6 165.8l-2.4 .3l-1.8 .2l-1.2 0l-1.8-.2l-2.4-.3M90.6 162.7l-2.4-.3l-1.8-.2l-1.2 0l-1.8 .2l-2.4 .3M90.6 159.6l-2.4 .3l-1.8 .2l-1.2 0l-1.8-.2l-2.4-.3M90.6 156.5l-2.4-.3l-1.8-.2l-1.2 0l-1.8 .2l-2.4 .3M90.6 153.4l-2.4 .3l-1.8 .2l-1.2 0l-1.8-.2l-2.4-.3M90.6 150.3l-2.4-.3l-1.8-.2l-1.2 0l-1.8 .2l-2.4 .3M90.6 147.2l-2.4 .3l-1.8 .2l-1.2 0l-1.8-.2l-2.4-.3M90.6 144.1l-2.4-.3l-1.8-.2l-1.2 0l-1.8 .2l-2.4 .3M90.6 141l-2.4 .3l-1.8 .2l-1.2 0l-1.8-.2l-2.4-.3M90.6 137.9l-2.4-.3l-1.8-.2l-1.2 0l-1.8 .2l-2.4 .3M90.6 134.8l-2.4 .3l-1.8 .2l-1.2 0l-1.8-.3l-2.4-.3M90.6 131.9l-2.4-.4l-1.8-.3l-1.2 0l-1.8 .2l-2.4 .2M90.8 128.9l-2.4 .1l-1.8 .1l-1.1-.1l-1.8-.4l-2.4-.5M91 126l-2.4-.5l-1.8-.4l-1.1-.1l-1.8 .1l-2.4 .1M91.4 123.1l-2.4 0l-1.8 0l-1.1-.2l-1.8-.5l-2.3-.6M91.8 120.3l-2.3-.7l-1.8-.6l-1.1-.2l-1.8-.1l-2.4-.1M92.4 117.4l-2.4-.2l-1.8-.2l-1.1-.3l-1.7-.6l-2.3-.8M93.1 114.6l-2.2-.9l-1.7-.7l-1.1-.3l-1.8-.2l-2.4-.3M93.9 111.8l-2.4-.4l-1.8-.3l-1.1-.4l-1.7-.8l-2.2-1M94.9 109.1l-2.1-1.1l-1.6-.9l-1.1-.4l-1.8-.4l-2.4-.5M95.9 106.4l-2.3-.7l-1.8-.5l-1.1-.5l-1.6-.9l-2.1-1.2M97.1 103.9l-2-1.3l-1.5-1l-1-.5l-1.7-.6l-2.3-.8M98.4 101.3l-2.2-.9l-1.7-.7l-1-.6l-1.5-1.1l-2-1.4M99.9 98.8l-1.9-1.5l-1.4-1.2l-1-.6l-1.7-.7l-2.2-1M101.4 96.5l-2.1-1.1l-1.6-.8l-.9-.7l-1.4-1.2l-1.8-1.6M103.1 94.1l-1.7-1.7l-1.3-1.3l-.9-.7l-1.6-.9l-2.1-1.2M104.9 91.9l-2-1.3l-1.5-1l-.9-.7l-1.2-1.4l-1.6-1.8M106.8 89.8l-1.5-1.9l-1.2-1.4l-.8-.8l-1.5-1.1l-2-1.4M108.8 87.8l-1.9-1.5l-1.4-1.1l-.8-.8l-1.1-1.5l-1.4-1.9M110.9 85.8l-1.4-2l-1-1.5l-.8-.9l-1.4-1.2l-1.8-1.6M113.2 84l-1.7-1.7l-1.3-1.3l-.7-.9l-.9-1.6l-1.3-2.1M115.5 82.2l-1.2-2.1l-.9-1.6l-.7-.9l-1.3-1.3l-1.7-1.8M117.8 80.6l-1.6-1.8l-1.2-1.4l-.6-1l-.8-1.7l-1.1-2.2M120.3 79l-1-2.2l-.7-1.7l-.6-1l-1.2-1.4l-1.5-1.9M122.8 77.6l-1.4-2l-1.1-1.5l-.6-1l-.7-1.7l-.9-2.2M125.4 76.2l-.8-2.3l-.6-1.7l-.5-1l-1-1.5l-1.3-2M128 74.9l-1.3-2.1l-1-1.6l-.5-1l-.5-1.8l-.7-2.3M130.7 73.8l-.6-2.3l-.5-1.8l-.4-1.1l-.9-1.6l-1.2-2.1M133.4 72.7l-1.1-2.1l-.9-1.6l-.4-1.1l-.4-1.8l-.6-2.4M136.2 71.7l-.5-2.4l-.4-1.8l-.4-1.1l-.8-1.6l-1.1-2.2M139 70.8l-1-2.2l-.8-1.7l-.3-1.1l-.3-1.8l-.4-2.4M141.8 70l-.3-2.4l-.2-1.8l-.3-1.1l-.7-1.7l-.9-2.2M144.7 69.3l-.8-2.3l-.7-1.7l-.3-1.1l-.2-1.8l-.3-2.4M147.6 68.6l-.2-2.4l-.1-1.8l-.2-1.1l-.6-1.7l-.8-2.3M150.5 68.1l-.7-2.3l-.6-1.8l-.2-1.1l-.1-1.8l-.1-2.4M153.4 67.7l0-2.4l0-1.8l-.2-1.1l-.5-1.8l-.6-2.3M156.2 67.3l-.5-2.4l-.4-1.8l-.1-1.1l.1-1.8l.1-2.4" stroke="#868470" stroke-width=".85"/>
<path d="M158.9 56.7L162 56.7L165.1 56.7L168.2 56.7L171.3 56.7L174.4 56.7L177.5 56.7L180.6 56.7L183.7 56.7L186.8 56.7L189.9 56.7L193 56.7L196.1 56.7L199.2 56.7L202.3 56.7L205.4 56.7L208.5 56.7L211.6 56.7L214.7 56.7L217.8 56.7L220.9 56.7L224 56.7L227.1 56.7L230.2 56.7L233.3 56.7L236.4 56.7L239.5 56.7L242.6 56.7L245.7 56.7L248.8 56.7L251.9 56.7L255 56.7L258.1 56.7L261.2 56.7L264.3 56.7L267.4 56.7L270.5 56.7L273.6 56.7L276.7 56.7L279.8 56.7L282.9 56.7L286 56.7L289.1 56.7L292.2 56.7L295.3 56.7L298.4 56.7L301.5 56.7L304.6 56.7L307.7 56.7L310.8 56.7L313.9 56.7L317 56.7L320.1 56.7L323.2 56.7L326.3 56.7L329.4 56.7L332.5 56.7L335.6 56.7L338.7 56.7L341.8 56.7L344.9 56.7L348 56.7L351.1 56.7L354.2 56.7L357.3 56.7L360.4 56.7L363.5 56.7L366.6 56.7L369.7 56.7L372.8 56.7L375.9 56.7L379 56.7L382.1 56.7L385.2 56.7L388.3 56.7L391.4 56.7L394.5 56.7L397.6 56.7L400.7 56.7L403.8 56.7L406.9 56.7L410 56.7L413.1 56.7L416.2 56.7L419.3 56.7L422.4 56.7L425.5 56.7L428.6 56.7L431.7 56.7L434.8 56.7L437.9 56.7L441 56.7L444.1 56.7L447.2 56.7L450.3 56.7L453.4 56.7L456.5 56.7L459.6 56.7L462.7 56.7L465.8 56.7L468.8 56.7L471.9 56.7L475 56.7L478.1 56.7L481.2 56.7L484.3 56.7L487.4 56.7L490.5 56.7L493.6 56.7L496.7 56.7L499.9 56.7L503 56.7L506.2 56.8L509.4 56.9L512.6 57.1L515.8 57.4L519 57.8L522.3 58.2L525.5 58.7L528.6 59.3L531.8 60L535 60.7L538.1 61.6L541.3 62.6L544.4 63.7L547.4 64.9L550.5 66.3L553.4 67.7L556.3 69.3L559.2 71.1L562 72.9L564.7 74.9L567.3 77L569.8 79.2L572.2 81.6L574.5 84L576.6 86.6L578.7 89.2L580.6 92L582.4 94.8L584.1 97.7L585.6 100.7L586.9 103.8L588.2 106.8L589.3 110L590.2 113.1L591.1 116.3L591.8 119.5L592.4 122.7L592.9 126L593.4 129.2L593.7 132.4L593.9 135.7L594 138.9L594.1 142.1L594.1 145.3L594.1 148.4L594.1 151.5L594.1 154.6L594.1 157.7L594.1 160.8L594.1 163.9L594.1 167L594.1 170.1L594.1 173.2L594.1 176.3L594.1 179.4L594.1 182.5L594.1 185.6L594.1 188.7L594.1 191.8L594.1 194.9L594.1 198L594.1 201.1L594.1 204.2L594.1 207.3L594.1 210.4L594.1 213.5L594.1 216.6L594.1 219.7L594.1 222.7L594.1 225.8L594.1 228.9L594.1 232L594.1 235.1L594.1 238.2L594.1 241.3L594.1 244.4L594.1 247.5L594.1 250.6L594.1 253.7L594.1 256.8L594.1 260L594 263.2L593.9 266.4L593.8 269.6L593.5 272.8L593.2 276L592.9 279.2L592.4 282.4L591.8 285.6L591.2 288.8L590.4 292L589.5 295.2L588.5 298.3L587.4 301.4L586.1 304.5L584.7 307.5L583.1 310.4L581.4 313.3L579.6 316.1L577.6 318.8L575.5 321.5L573.3 324L570.9 326.4L568.5 328.6L565.9 330.8L563.3 332.9L560.6 334.8L557.7 336.6L554.9 338.2L551.9 339.7L548.9 341.2L545.9 342.4L542.9 343.6L539.8 344.7L536.7 345.6L533.5 346.5L530.4 347.3L527.2 347.9L524.1 348.6L520.9 349.1L517.7 349.5L514.5 349.9L511.3 350.3L508.2 350.6L505 350.8L501.8 351L498.6 351.1L495.5 351.2L492.3 351.3L489.2 351.3L486 351.3L483 351.3L479.9 351.3L476.8 351.3L473.7 351.3L470.6 351.3L467.5 351.3L464.4 351.3L461.3 351.3L458.2 351.3L455.1 351.3L452 351.3L448.9 351.3L445.8 351.3L442.7 351.3L439.6 351.3L436.5 351.3L433.4 351.3L430.3 351.3L427.2 351.3L424.1 351.3L421 351.3L417.9 351.3L414.8 351.3L411.7 351.3L408.6 351.3L405.5 351.3L402.4 351.3L399.3 351.3L396.2 351.3L393.1 351.3L390 351.3L386.9 351.3L383.8 351.3L380.7 351.3L377.6 351.3L374.5 351.3L371.4 351.3L368.3 351.3L365.2 351.3L362.1 351.3L359 351.3L355.9 351.3L352.8 351.3L349.7 351.3L346.6 351.3L343.5 351.3L340.4 351.3L337.3 351.3L334.2 351.3L331.1 351.3L328 351.3L324.9 351.3L321.8 351.3L318.7 351.3L315.6 351.3L312.5 351.3L309.4 351.3L306.3 351.3L303.2 351.3L300.1 351.3L297 351.3L293.9 351.3L290.8 351.3L287.7 351.3L284.6 351.3L281.5 351.3L278.4 351.3L275.3 351.3L272.2 351.3L269.1 351.3L266 351.3L262.9 351.3L259.8 351.3L256.7 351.3L253.6 351.3L250.5 351.3L247.4 351.3L244.3 351.3L241.2 351.3L238.1 351.3L235 351.3L231.9 351.3L228.8 351.3L225.7 351.3L222.6 351.3L219.5 351.3L216.4 351.3L213.3 351.3L210.2 351.3L207.1 351.3L204 351.3L200.9 351.3L197.8 351.3L194.7 351.3L191.6 351.3L188.5 351.3L185.4 351.3L182.3 351.3L179.2 351.3L176.1 351.3L173 351.3L169.9 351.3L166.8 351.3L163.6 351.3L160.3 351.1L157.1 350.9L153.8 350.6L150.6 350.2L147.3 349.7L144.1 349.1L140.9 348.4L137.7 347.6L134.6 346.7L131.4 345.6L128.3 344.5L125.3 343.2L122.3 341.9L119.3 340.3L116.4 338.7L113.5 336.9L110.8 335.1L108.1 333L105.5 330.9L103 328.6L100.6 326.2L98.4 323.7L96.2 321.1L94.3 318.3L92.4 315.5L90.7 312.6L89.1 309.7L87.7 306.6L86.4 303.5L85.2 300.4L84.2 297.3L83.3 294.1L82.5 290.8L81.9 287.6L81.3 284.4L80.9 281.1L80.6 277.9L80.3 274.6L80.2 271.4L80.1 268.1L80.1 265L80.1 261.9L80.1 258.8L80.1 255.7L80.1 252.6L80.1 249.5L80.1 246.4L80.1 243.3L80.1 240.2L80.1 237.1L80.1 234L80.1 230.9L80.1 227.8L80.1 224.7L80.1 221.6L80.1 218.5L80.1 215.4L80.1 212.3L80.1 209.2L80.1 206.1L80.1 203L80.1 199.9L80.1 196.8L80.1 193.7L80.1 190.6L80.1 187.5L80.1 184.4L80.1 181.3L80.1 178.2L80.1 175.1L80.1 172L80.1 168.9L80.1 165.8L80.1 162.7L80.1 159.6L80.1 156.5L80.1 153.4L80.1 150.3L80.1 147.2L80.1 144.1L80.1 141L80.1 137.9L80.1 134.8L80.2 131.5L80.3 128.2L80.6 125L81 121.7L81.5 118.4L82.2 115.1L83 111.9L83.9 108.6L85 105.5L86.3 102.3L87.7 99.2L89.2 96.3L90.9 93.3L92.8 90.5L94.8 87.8L96.9 85.1L99.2 82.6L101.6 80.2L104 77.9L106.6 75.8L109.3 73.7L112 71.8L114.8 70L117.7 68.4L120.7 66.8L123.6 65.4L126.7 64.1L129.7 62.9L132.8 61.8L135.9 60.8L139.1 59.8L142.3 59L145.5 58.3L148.7 57.7L152 57.2L155.3 56.9Z" stroke="#a09c48" stroke-width="2.2"/>
<path d="M158.9 68.1L162 68.1L165.1 68.1L168.2 68.1L171.3 68.1L174.4 68.1L177.5 68.1L180.6 68.1L183.7 68.1L186.8 68.1L189.9 68.1L193 68.1L196.1 68.1L199.2 68.1L202.3 68.1L205.4 68.1L208.5 68.1L211.6 68.1L214.7 68.1L217.8 68.1L220.9 68.1L224 68.1L227.1 68.1L230.2 68.1L233.3 68.1L236.4 68.1L239.5 68.1L242.6 68.1L245.7 68.1L248.8 68.1L251.9 68.1L255 68.1L258.1 68.1L261.2 68.1L264.3 68.1L267.4 68.1L270.5 68.1L273.6 68.1L276.7 68.1L279.8 68.1L282.9 68.1L286 68.1L289.1 68.1L292.2 68.1L295.3 68.1L298.4 68.1L301.5 68.1L304.6 68.1L307.7 68.1L310.8 68.1L313.9 68.1L317 68.1L320.1 68.1L323.2 68.1L326.3 68.1L329.4 68.1L332.5 68.1L335.6 68.1L338.7 68.1L341.8 68.1L344.9 68.1L348 68.1L351.1 68.1L354.2 68.1L357.3 68.1L360.4 68.1L363.5 68.1L366.6 68.1L369.7 68.1L372.8 68.1L375.9 68.1L379 68.1L382.1 68.1L385.2 68.1L388.3 68.1L391.4 68.1L394.5 68.1L397.6 68.1L400.7 68.1L403.8 68.1L406.9 68.1L410 68.1L413.1 68.1L416.2 68.1L419.3 68.1L422.4 68.1L425.5 68.1L428.6 68.1L431.7 68.1L434.8 68.1L437.9 68.1L441 68.1L444.1 68.1L447.2 68.1L450.3 68.1L453.4 68.1L456.5 68.1L459.6 68.1L462.7 68.1L465.8 68.1L468.8 68.1L471.9 68.1L475 68.1L478.1 68.1L481.2 68.1L484.3 68.1L487.4 68.1L490.5 68.1L493.6 68.1L496.7 68.1L499.8 68.1L502.8 68.1L505.8 68.2L508.8 68.3L511.8 68.5L514.8 68.7L517.8 69L520.7 69.4L523.6 69.8L526.5 70.3L529.4 70.8L532.3 71.5L535.1 72.2L537.9 73L540.7 73.9L543.5 74.9L546.1 75.9L548.8 77.1L551.3 78.4L553.8 79.8L556.3 81.3L558.6 82.9L560.9 84.7L563 86.5L565.1 88.5L567 90.6L568.8 92.8L570.5 95.1L572 97.5L573.5 99.9L574.8 102.5L576 105.1L577 107.7L578 110.5L578.8 113.2L579.6 116L580.3 118.8L580.8 121.7L581.3 124.6L581.8 127.5L582.1 130.4L582.3 133.3L582.5 136.3L582.6 139.2L582.7 142.2L582.7 145.3L582.7 148.4L582.7 151.5L582.7 154.6L582.7 157.7L582.7 160.8L582.7 163.9L582.7 167L582.7 170.1L582.7 173.2L582.7 176.3L582.7 179.4L582.7 182.5L582.7 185.6L582.7 188.7L582.7 191.8L582.7 194.9L582.7 198L582.7 201.1L582.7 204.2L582.7 207.3L582.7 210.4L582.7 213.5L582.7 216.6L582.7 219.7L582.7 222.7L582.7 225.8L582.7 228.9L582.7 232L582.7 235.1L582.7 238.2L582.7 241.3L582.7 244.4L582.7 247.5L582.7 250.6L582.7 253.7L582.7 256.8L582.7 259.9L582.6 262.9L582.6 265.9L582.4 268.9L582.2 271.9L582 274.8L581.7 277.8L581.3 280.7L580.8 283.6L580.3 286.5L579.7 289.4L579 292.2L578.3 295L577.4 297.8L576.5 300.5L575.4 303.2L574.2 305.8L572.9 308.3L571.4 310.8L569.9 313.1L568.2 315.4L566.3 317.5L564.3 319.6L562.2 321.5L560 323.3L557.7 325L555.3 326.5L552.8 327.9L550.2 329.2L547.6 330.5L544.9 331.6L542.2 332.6L539.4 333.5L536.6 334.4L533.8 335.1L530.9 335.8L528 336.5L525.1 337L522.2 337.5L519.2 338L516.3 338.4L513.3 338.7L510.3 339L507.3 339.3L504.3 339.5L501.3 339.6L498.2 339.7L495.2 339.8L492.2 339.9L489.1 339.9L486 339.9L483 339.9L479.9 339.9L476.8 339.9L473.7 339.9L470.6 339.9L467.5 339.9L464.4 339.9L461.3 339.9L458.2 339.9L455.1 339.9L452 339.9L448.9 339.9L445.8 339.9L442.7 339.9L439.6 339.9L436.5 339.9L433.4 339.9L430.3 339.9L427.2 339.9L424.1 339.9L421 339.9L417.9 339.9L414.8 339.9L411.7 339.9L408.6 339.9L405.5 339.9L402.4 339.9L399.3 339.9L396.2 339.9L393.1 339.9L390 339.9L386.9 339.9L383.8 339.9L380.7 339.9L377.6 339.9L374.5 339.9L371.4 339.9L368.3 339.9L365.2 339.9L362.1 339.9L359 339.9L355.9 339.9L352.8 339.9L349.7 339.9L346.6 339.9L343.5 339.9L340.4 339.9L337.3 339.9L334.2 339.9L331.1 339.9L328 339.9L324.9 339.9L321.8 339.9L318.7 339.9L315.6 339.9L312.5 339.9L309.4 339.9L306.3 339.9L303.2 339.9L300.1 339.9L297 339.9L293.9 339.9L290.8 339.9L287.7 339.9L284.6 339.9L281.5 339.9L278.4 339.9L275.3 339.9L272.2 339.9L269.1 339.9L266 339.9L262.9 339.9L259.8 339.9L256.7 339.9L253.6 339.9L250.5 339.9L247.4 339.9L244.3 339.9L241.2 339.9L238.1 339.9L235 339.9L231.9 339.9L228.8 339.9L225.7 339.9L222.6 339.9L219.5 339.9L216.4 339.9L213.3 339.9L210.2 339.9L207.1 339.9L204 339.9L200.9 339.9L197.8 339.9L194.7 339.9L191.6 339.9L188.5 339.9L185.4 339.9L182.3 339.9L179.2 339.9L176.1 339.9L173 339.9L169.9 339.9L166.8 339.9L163.8 339.9L160.9 339.8L158 339.6L155.1 339.3L152.1 338.9L149.2 338.5L146.4 338L143.5 337.4L140.7 336.7L137.9 335.9L135.1 335L132.4 334L129.7 332.9L127.1 331.8L124.5 330.5L122 329.1L119.6 327.6L117.2 326L114.9 324.3L112.8 322.5L110.7 320.6L108.7 318.6L106.8 316.5L105 314.3L103.4 312L101.9 309.7L100.4 307.2L99.1 304.7L97.9 302.1L96.8 299.5L95.9 296.8L95 294L94.3 291.3L93.6 288.4L93 285.6L92.6 282.7L92.2 279.8L91.9 276.9L91.7 274L91.6 271L91.5 268.1L91.5 265L91.5 261.9L91.5 258.8L91.5 255.7L91.5 252.6L91.5 249.5L91.5 246.4L91.5 243.3L91.5 240.2L91.5 237.1L91.5 234L91.5 230.9L91.5 227.8L91.5 224.7L91.5 221.6L91.5 218.5L91.5 215.4L91.5 212.3L91.5 209.2L91.5 206.1L91.5 203L91.5 199.9L91.5 196.8L91.5 193.7L91.5 190.6L91.5 187.5L91.5 184.4L91.5 181.3L91.5 178.2L91.5 175.1L91.5 172L91.5 168.9L91.5 165.8L91.5 162.7L91.5 159.6L91.5 156.5L91.5 153.4L91.5 150.3L91.5 147.2L91.5 144.1L91.5 141L91.5 137.9L91.5 134.8L91.5 131.9L91.7 129L91.9 126.1L92.3 123.3L92.7 120.4L93.3 117.6L94 114.8L94.8 112.1L95.7 109.4L96.8 106.8L97.9 104.3L99.2 101.7L100.6 99.3L102.2 97L103.8 94.7L105.6 92.5L107.5 90.4L109.5 88.4L111.5 86.5L113.7 84.7L116 82.9L118.3 81.3L120.7 79.8L123.2 78.3L125.8 77L128.4 75.8L131 74.6L133.7 73.5L136.5 72.6L139.3 71.7L142.1 70.9L144.9 70.1L147.7 69.5L150.6 69L153.5 68.5L156.3 68.2Z" stroke="#a09c48" stroke-width="2.2"/>
<path d="M158.3 56.7l4.2 0M158.4 68.1l4.2 0M164.5 56.7l4.2 0M164.5 68.1l4.2 0M170.7 56.7l4.2 0M170.7 68.1l4.2 0M176.9 56.7l4.2 0M176.9 68.1l4.2 0M183.1 56.7l4.2 0M183.1 68.1l4.2 0M189.3 56.7l4.2 0M189.3 68.1l4.2 0M195.5 56.7l4.2 0M195.5 68.1l4.2 0M201.7 56.7l4.2 0M201.7 68.1l4.2 0M207.9 56.7l4.2 0M207.9 68.1l4.2 0M214.1 56.7l4.2 0M214.1 68.1l4.2 0M220.3 56.7l4.2 0M220.3 68.1l4.2 0M226.5 56.7l4.2 0M226.5 68.1l4.2 0M232.7 56.7l4.2 0M232.7 68.1l4.2 0M238.9 56.7l4.2 0M238.9 68.1l4.2 0M245.1 56.7l4.2 0M245.1 68.1l4.2 0M251.3 56.7l4.2 0M251.3 68.1l4.2 0M257.5 56.7l4.2 0M257.5 68.1l4.2 0M263.7 56.7l4.2 0M263.7 68.1l4.2 0M269.9 56.7l4.2 0M269.9 68.1l4.2 0M276.1 56.7l4.2 0M276.1 68.1l4.2 0M282.3 56.7l4.2 0M282.3 68.1l4.2 0M288.5 56.7l4.2 0M288.5 68.1l4.2 0M294.7 56.7l4.2 0M294.7 68.1l4.2 0M300.9 56.7l4.2 0M300.9 68.1l4.2 0M307.1 56.7l4.2 0M307.1 68.1l4.2 0M313.3 56.7l4.2 0M313.3 68.1l4.2 0M319.5 56.7l4.2 0M319.5 68.1l4.2 0M325.7 56.7l4.2 0M325.7 68.1l4.2 0M331.9 56.7l4.2 0M331.9 68.1l4.2 0M338.1 56.7l4.2 0M338.1 68.1l4.2 0M344.3 56.7l4.2 0M344.3 68.1l4.2 0M350.5 56.7l4.2 0M350.5 68.1l4.2 0M356.7 56.7l4.2 0M356.7 68.1l4.2 0M362.9 56.7l4.2 0M362.9 68.1l4.2 0M369.1 56.7l4.2 0M369.1 68.1l4.2 0M375.3 56.7l4.2 0M375.3 68.1l4.2 0M381.5 56.7l4.2 0M381.5 68.1l4.2 0M387.7 56.7l4.2 0M387.7 68.1l4.2 0M393.9 56.7l4.2 0M393.9 68.1l4.2 0M400.1 56.7l4.2 0M400.1 68.1l4.2 0M406.3 56.7l4.2 0M406.3 68.1l4.2 0M412.5 56.7l4.2 0M412.5 68.1l4.2 0M418.7 56.7l4.2 0M418.7 68.1l4.2 0M424.9 56.7l4.2 0M424.9 68.1l4.2 0M431.1 56.7l4.2 0M431.1 68.1l4.2 0M437.3 56.7l4.2 0M437.3 68.1l4.2 0M443.5 56.7l4.2 0M443.5 68.1l4.2 0M449.7 56.7l4.2 0M449.7 68.1l4.2 0M455.9 56.7l4.2 0M455.9 68.1l4.2 0M462.1 56.7l4.2 0M462.1 68.1l4.2 0M468.3 56.7l4.2 0M468.3 68.1l4.2 0M474.5 56.7l4.2 0M474.5 68.1l4.2 0M480.7 56.7l4.2 0M480.7 68.1l4.2 0M486.9 56.7l4.2 0M486.9 68.1l4.2 0M493.1 56.7l4.2 0M493.1 68.1l4.2 0M499.3 56.7l4.2 0M499.3 68.1l4.2 0M505.7 56.8l4.2 .1M505.3 68.2l4.2 .1M512.1 57.1l4.2 .3M511.3 68.4l4.2 .3M518.5 57.7l4.2 .5M517.2 68.9l4.2 .5M524.9 58.6l4.1 .7M523.1 69.7l4.1 .7M531.3 59.8l4.1 .9M528.9 70.7l4.1 .9M537.6 61.5l4 1.2M534.6 72l4 1.2M543.9 63.5l4 1.4M540.2 73.7l4 1.4M550 66.1l3.8 1.7M545.6 75.7l3.8 1.7M555.9 69.1l3.7 2M550.9 78.1l3.7 2M561.5 72.6l3.5 2.4M555.8 81l3.5 2.4M566.8 76.7l3.2 2.7M560.5 84.3l3.2 2.7M571.8 81.2l2.9 3M564.7 88.1l2.9 3M576.3 86.1l2.6 3.3M568.5 92.4l2.6 3.3M580.3 91.5l2.3 3.5M571.7 97l2.3 3.5M583.8 97.2l1.9 3.7M574.5 102l1.9 3.7M586.7 103.2l1.6 3.9M576.8 107.2l1.6 3.9M589.1 109.4l1.2 4M578.7 112.7l1.2 4M591 115.8l1 4.1M580.2 118.3l1 4.1M592.3 122.2l.7 4.1M581.2 124l.7 4.1M593.3 128.6l.4 4.2M582 129.8l.4 4.2M593.9 135.1l.2 4.2M582.5 135.7l.2 4.2M594.1 141.6l0 4.2M582.7 141.7l0 4.2M594.1 147.8l0 4.2M582.7 147.8l0 4.2M594.1 154l0 4.2M582.7 154l0 4.2M594.1 160.2l0 4.2M582.7 160.2l0 4.2M594.1 166.4l0 4.2M582.7 166.4l0 4.2M594.1 172.6l0 4.2M582.7 172.6l0 4.2M594.1 178.8l0 4.2M582.7 178.8l0 4.2M594.1 185l0 4.2M582.7 185l0 4.2M594.1 191.2l0 4.2M582.7 191.2l0 4.2M594.1 197.4l0 4.2M582.7 197.4l0 4.2M594.1 203.6l0 4.2M582.7 203.6l0 4.2M594.1 209.8l0 4.2M582.7 209.8l0 4.2M594.1 216l0 4.2M582.7 216l0 4.2M594.1 222.2l0 4.2M582.7 222.2l0 4.2M594.1 228.4l0 4.2M582.7 228.4l0 4.2M594.1 234.6l0 4.2M582.7 234.6l0 4.2M594.1 240.8l0 4.2M582.7 240.8l0 4.2M594.1 247l0 4.2M582.7 247l0 4.2M594.1 253.2l0 4.2M582.7 253.2l0 4.2M594.1 259.4l0 4.2M582.7 259.3l0 4.2M594 265.8l-.2 4.2M582.6 265.4l-.2 4.2M593.6 272.2l-.3 4.2M582.3 271.3l-.3 4.2M592.9 278.6l-.5 4.2M581.7 277.3l-.5 4.2M591.9 285.1l-.7 4.1M580.9 283.1l-.7 4.1M590.5 291.5l-1 4.1M579.9 288.9l-1 4.1M588.7 297.8l-1.3 4M578.4 294.5l-1.3 4M586.3 304l-1.6 3.9M576.7 300l-1.6 3.9M583.4 310l-2 3.7M574.5 305.3l-2 3.7M579.9 315.7l-2.3 3.5M571.7 310.3l-2.3 3.5M575.9 321l-2.7 3.2M568.5 315l-2.7 3.2M571.3 326l-3 2.9M564.7 319.2l-3 2.9M566.4 330.5l-3.3 2.6M560.4 323l-3.3 2.6M561 334.5l-3.5 2.3M555.7 326.2l-3.5 2.3M555.4 338l-3.7 1.9M550.7 329l-3.7 1.9M549.5 340.9l-3.9 1.6M545.4 331.3l-3.9 1.6M543.4 343.4l-4 1.4M539.9 333.3l-4 1.4M537.2 345.5l-4.1 1.1M534.3 335l-4.1 1.1M530.9 347.1l-4.1 .9M528.5 336.3l-4.1 .9M524.6 348.5l-4.1 .7M522.7 337.4l-4.1 .7M518.2 349.5l-4.2 .5M516.8 338.3l-4.2 .5M511.9 350.2l-4.2 .4M510.8 339l-4.2 .4M505.5 350.8l-4.2 .3M504.8 339.4l-4.2 .3M499.2 351.1l-4.2 .1M498.8 339.7l-4.2 .1M492.9 351.3l-4.2 0M492.7 339.9l-4.2 0M486.6 351.3l-4.2 0M486.6 339.9l-4.2 0M480.4 351.3l-4.2 0M480.4 339.9l-4.2 0M474.2 351.3l-4.2 0M474.2 339.9l-4.2 0M468 351.3l-4.2 0M468 339.9l-4.2 0M461.8 351.3l-4.2 0M461.8 339.9l-4.2 0M455.6 351.3l-4.2 0M455.6 339.9l-4.2 0M449.4 351.3l-4.2 0M449.4 339.9l-4.2 0M443.2 351.3l-4.2 0M443.2 339.9l-4.2 0M437 351.3l-4.2 0M437 339.9l-4.2 0M430.8 351.3l-4.2 0M430.8 339.9l-4.2 0M424.6 351.3l-4.2 0M424.6 339.9l-4.2 0M418.4 351.3l-4.2 0M418.4 339.9l-4.2 0M412.2 351.3l-4.2 0M412.2 339.9l-4.2 0M406 351.3l-4.2 0M406 339.9l-4.2 0M399.8 351.3l-4.2 0M399.8 339.9l-4.2 0M393.6 351.3l-4.2 0M393.6 339.9l-4.2 0M387.4 351.3l-4.2 0M387.4 339.9l-4.2 0M381.2 351.3l-4.2 0M381.2 339.9l-4.2 0M375 351.3l-4.2 0M375 339.9l-4.2 0M368.8 351.3l-4.2 0M368.8 339.9l-4.2 0M362.6 351.3l-4.2 0M362.6 339.9l-4.2 0M356.4 351.3l-4.2 0M356.4 339.9l-4.2 0M350.2 351.3l-4.2 0M350.2 339.9l-4.2 0M344 351.3l-4.2 0M344 339.9l-4.2 0M337.8 351.3l-4.2 0M337.8 339.9l-4.2 0M331.6 351.3l-4.2 0M331.6 339.9l-4.2 0M325.4 351.3l-4.2 0M325.4 339.9l-4.2 0M319.2 351.3l-4.2 0M319.2 339.9l-4.2 0M313 351.3l-4.2 0M313 339.9l-4.2 0M306.8 351.3l-4.2 0M306.8 339.9l-4.2 0M300.6 351.3l-4.2 0M300.6 339.9l-4.2 0M294.4 351.3l-4.2 0M294.4 339.9l-4.2 0M288.2 351.3l-4.2 0M288.2 339.9l-4.2 0M282 351.3l-4.2 0M282 339.9l-4.2 0M275.8 351.3l-4.2 0M275.8 339.9l-4.2 0M269.6 351.3l-4.2 0M269.6 339.9l-4.2 0M263.4 351.3l-4.2 0M263.4 339.9l-4.2 0M257.2 351.3l-4.2 0M257.2 339.9l-4.2 0M251 351.3l-4.2 0M251 339.9l-4.2 0M244.8 351.3l-4.2 0M244.8 339.9l-4.2 0M238.6 351.3l-4.2 0M238.6 339.9l-4.2 0M232.4 351.3l-4.2 0M232.4 339.9l-4.2 0M226.2 351.3l-4.2 0M226.2 339.9l-4.2 0M220 351.3l-4.2 0M220 339.9l-4.2 0M213.8 351.3l-4.2 0M213.8 339.9l-4.2 0M207.6 351.3l-4.2 0M207.6 339.9l-4.2 0M201.4 351.3l-4.2 0M201.4 339.9l-4.2 0M195.2 351.3l-4.2 0M195.2 339.9l-4.2 0M189 351.3l-4.2 0M189 339.9l-4.2 0M182.8 351.3l-4.2 0M182.8 339.9l-4.2 0M176.6 351.3l-4.2 0M176.6 339.9l-4.2 0M170.5 351.3l-4.2 0M170.5 339.9l-4.2 0M164.1 351.3l-4.2-.1M164.4 339.9l-4.2-.1M157.6 351l-4.2-.3M158.5 339.6l-4.2-.3M151.1 350.3l-4.2-.6M152.7 339l-4.2-.6M144.7 349.2l-4.1-.8M146.9 338.1l-4.1-.8M138.3 347.7l-4.1-1.1M141.2 336.8l-4.1-1.1M132 345.8l-4-1.4M135.6 335.2l-4-1.4M125.8 343.5l-3.9-1.7M130.2 333.1l-3.9-1.7M119.8 340.6l-3.7-2M125 330.7l-3.7-2M114 337.2l-3.5-2.3M120 327.9l-3.5-2.3M108.5 333.4l-3.3-2.6M115.4 324.7l-3.3-2.6M103.4 329l-3-2.9M111.1 321l-3-2.9M98.7 324.1l-2.7-3.2M107.2 316.9l-2.7-3.2M94.6 318.8l-2.4-3.5M103.7 312.5l-2.4-3.5M90.9 313.1l-2-3.7M100.7 307.7l-2-3.7M87.9 307.1l-1.7-3.8M98.1 302.6l-1.7-3.8M85.4 300.9l-1.4-4M96.1 297.3l-1.4-4M83.4 294.6l-1-4.1M94.4 291.8l-1-4.1M82 288.2l-.8-4.1M93.1 286.1l-.8-4.1M80.9 281.7l-.5-4.2M92.3 280.4l-.5-4.2M80.3 275.2l-.2-4.2M91.7 274.5l-.2-4.2M80.1 268.7l0-4.2M91.5 268.6l0-4.2M80.1 262.4l0-4.2M91.5 262.4l0-4.2M80.1 256.2l0-4.2M91.5 256.2l0-4.2M80.1 250l0-4.2M91.5 250l0-4.2M80.1 243.9l0-4.2M91.5 243.9l0-4.2M80.1 237.7l0-4.2M91.5 237.7l0-4.2M80.1 231.5l0-4.2M91.5 231.5l0-4.2M80.1 225.3l0-4.2M91.5 225.3l0-4.2M80.1 219.1l0-4.2M91.5 219.1l0-4.2M80.1 212.9l0-4.2M91.5 212.9l0-4.2M80.1 206.7l0-4.2M91.5 206.7l0-4.2M80.1 200.5l0-4.2M91.5 200.5l0-4.2M80.1 194.3l0-4.2M91.5 194.3l0-4.2M80.1 188.1l0-4.2M91.5 188.1l0-4.2M80.1 181.9l0-4.2M91.5 181.9l0-4.2M80.1 175.7l0-4.2M91.5 175.7l0-4.2M80.1 169.5l0-4.2M91.5 169.5l0-4.2M80.1 163.3l0-4.2M91.5 163.3l0-4.2M80.1 157.1l0-4.2M91.5 157.1l0-4.2M80.1 150.9l0-4.2M91.5 150.9l0-4.2M80.1 144.7l0-4.2M91.5 144.7l0-4.2M80.1 138.5l0-4.2M91.5 138.5l0-4.2M80.1 132.1l.1-4.2M91.5 132.5l.1-4.2M80.5 125.5l.4-4.2M91.9 126.7l.4-4.2M81.4 118.9l.7-4.1M92.6 121l.7-4.1M82.8 112.4l1.1-4.1M93.8 115.4l1.1-4.1M84.8 106l1.5-3.9M95.5 109.9l1.5-3.9M87.4 99.7l1.8-3.8M97.7 104.7l1.8-3.8M90.6 93.8l2.2-3.6M100.3 99.8l2.2-3.6M94.4 88.2l2.6-3.3M103.5 95.1l2.6-3.3M98.8 83l2.9-3.1M107.1 90.8l2.9-3.1M103.6 78.3l3.2-2.8M111.1 86.9l3.2-2.8M108.8 74.1l3.4-2.5M115.5 83.3l3.4-2.5M114.4 70.3l3.6-2.2M120.3 80.1l3.6-2.2M120.2 67.1l3.8-1.9M125.3 77.3l3.8-1.9M126.2 64.3l3.9-1.6M130.5 74.8l3.9-1.6M132.3 61.9l4-1.3M136 72.7l4-1.3M138.6 60l4.1-1.1M141.5 71l4.1-1.1M144.9 58.5l4.1-.8M147.2 69.6l4.1-.8M151.4 57.3l4.2-.6M152.9 68.6l4.2-.6" stroke="#efedc2" stroke-width="1.05"/>
</g>
<g transform="scale(1,1.18)" fill="none">
<path d="M165.7 87.1L168.8 87.1L171.9 87.1L175 87.1L178.1 87.1L181.2 87.1L184.3 87.1L187.3 87.1L190.4 87.1L193.5 87.1L196.6 87.1L199.7 87.1L202.8 87.1L205.9 87.1L209 87.1L212.1 87.1L215.2 87.1L218.3 87.1L221.4 87.1L224.4 87.1L227.5 87.1L230.6 87.1L233.7 87.1L236.8 87.1L239.9 87.1L243 87.1L246.1 87.1L249.2 87.1L252.3 87.1L255.4 87.1L258.5 87.1L261.6 87.1L264.6 87.1L267.7 87.1L270.8 87.1L273.9 87.1L277 87.1L280.1 87.1L283.2 87.1L286.3 87.1L289.4 87.1L292.5 87.1L295.6 87.1L298.7 87.1L301.7 87.1L304.8 87.1L307.9 87.1L311 87.1L314.1 87.1L317.2 87.1L320.3 87.1L323.4 87.1L326.5 87.1L329.6 87.1L332.7 87.1L335.8 87.1L338.9 87.1L341.9 87.1L345 87.1L348.1 87.1L351.2 87.1L354.3 87.1L357.4 87.1L360.5 87.1L363.6 87.1L366.7 87.1L369.8 87.1L372.9 87.1L376 87.1L379.1 87.1L382.1 87.1L385.2 87.1L388.3 87.1L391.4 87.1L394.5 87.1L397.6 87.1L400.7 87.1L403.8 87.1L406.9 87.1L410 87.1L413.1 87.1L416.2 87.1L419.2 87.1L422.3 87.1L425.4 87.1L428.5 87.1L431.6 87.1L434.7 87.1L437.8 87.1L440.9 87.1L444 87.1L447.1 87.1L450.2 87.1L453.3 87.1L456.4 87.1L459.4 87.1L462.5 87.1L465.6 87.1L468.7 87.1L471.8 87.1L474.9 87.1L478 87.1L481.1 87.1L484.2 87.1L487.3 87.1L490.4 87.1L493.5 87.1L496.5 87.1L499.6 87.1L502.7 87.1L505.8 87.2L508.9 87.5L512 87.9L515 88.5L518 89.2L521 90.1L523.9 91.1L526.8 92.3L529.6 93.6L532.3 95L535 96.6L537.5 98.3L540 100.1L542.4 102.1L544.7 104.2L546.9 106.4L548.9 108.7L550.8 111.1L552.6 113.7L554.2 116.3L555.7 119L557 121.8L558.2 124.7L559.2 127.6L560.1 130.5L560.9 133.5L561.5 136.6L562 139.6L562.4 142.7L562.6 145.8L562.8 148.9L562.8 151.9L562.8 155L562.8 158.1L562.8 161.2L562.8 164.3L562.8 167.4L562.8 170.5L562.8 173.6L562.8 176.7L562.8 179.8L562.8 182.9L562.8 186L562.8 189L562.8 192.1L562.8 195.2L562.8 198.3L562.8 201.4L562.8 204.5L562.8 207.6L562.8 210.7L562.8 213.8L562.8 216.9L562.8 220L562.8 223.1L562.8 226.2L562.8 229.2L562.8 232.3L562.8 235.4L562.8 238.5L562.8 241.6L562.8 244.7L562.8 247.8L562.8 250.9L562.7 254L562.6 257.1L562.4 260.2L562.1 263.2L561.8 266.3L561.3 269.4L560.8 272.4L560.2 275.4L559.4 278.4L558.6 281.4L557.6 284.3L556.4 287.2L555.2 290L553.7 292.8L552.1 295.4L550.4 298L548.5 300.4L546.4 302.7L544.2 304.9L541.9 306.9L539.4 308.8L536.9 310.5L534.2 312.1L531.5 313.5L528.6 314.8L525.8 315.9L522.8 316.9L519.9 317.8L516.9 318.5L513.9 319.2L510.8 319.7L507.8 320.2L504.7 320.6L501.6 320.9L498.5 321.1L495.4 321.2L492.3 321.3L489.2 321.4L486.2 321.4L483.1 321.4L480 321.4L476.9 321.4L473.8 321.4L470.7 321.4L467.6 321.4L464.5 321.4L461.4 321.4L458.3 321.4L455.2 321.4L452.1 321.4L449.1 321.4L446 321.4L442.9 321.4L439.8 321.4L436.7 321.4L433.6 321.4L430.5 321.4L427.4 321.4L424.3 321.4L421.2 321.4L418.1 321.4L415 321.4L411.9 321.4L408.9 321.4L405.8 321.4L402.7 321.4L399.6 321.4L396.5 321.4L393.4 321.4L390.3 321.4L387.2 321.4L384.1 321.4L381 321.4L377.9 321.4L374.8 321.4L371.8 321.4L368.7 321.4L365.6 321.4L362.5 321.4L359.4 321.4L356.3 321.4L353.2 321.4L350.1 321.4L347 321.4L343.9 321.4L340.8 321.4L337.7 321.4L334.6 321.4L331.6 321.4L328.5 321.4L325.4 321.4L322.3 321.4L319.2 321.4L316.1 321.4L313 321.4L309.9 321.4L306.8 321.4L303.7 321.4L300.6 321.4L297.5 321.4L294.5 321.4L291.4 321.4L288.3 321.4L285.2 321.4L282.1 321.4L279 321.4L275.9 321.4L272.8 321.4L269.7 321.4L266.6 321.4L263.5 321.4L260.4 321.4L257.3 321.4L254.3 321.4L251.2 321.4L248.1 321.4L245 321.4L241.9 321.4L238.8 321.4L235.7 321.4L232.6 321.4L229.5 321.4L226.4 321.4L223.3 321.4L220.2 321.4L217.2 321.4L214.1 321.4L211 321.4L207.9 321.4L204.8 321.4L201.7 321.4L198.6 321.4L195.5 321.4L192.4 321.4L189.3 321.4L186.2 321.4L183.1 321.4L180 321.4L177 321.4L173.9 321.4L170.8 321.4L167.7 321.3L164.6 321.1L161.5 320.8L158.5 320.3L155.4 319.6L152.5 318.8L149.5 317.8L146.7 316.7L143.9 315.4L141.1 314L138.5 312.4L135.9 310.6L133.5 308.7L131.1 306.7L128.9 304.5L126.9 302.2L124.9 299.8L123.1 297.3L121.4 294.7L119.9 292L118.5 289.3L117.3 286.4L116.2 283.5L115.2 280.6L114.4 277.6L113.7 274.6L113.2 271.6L112.7 268.5L112.4 265.4L112.2 262.4L112 259.3L112 256.2L112 253.1L112 250L112 246.9L112 243.8L112 240.7L112 237.6L112 234.5L112 231.4L112 228.3L112 225.3L112 222.2L112 219.1L112 216L112 212.9L112 209.8L112 206.7L112 203.6L112 200.5L112 197.4L112 194.3L112 191.2L112 188.2L112 185.1L112 182L112 178.9L112 175.8L112 172.7L112 169.6L112 166.5L112 163.4L112 160.3L112 157.2L112 154.1L112 151L112 148L112 144.9L112.2 141.8L112.5 138.7L113 135.6L113.7 132.6L114.4 129.6L115.4 126.7L116.5 123.8L117.7 121L119.1 118.2L120.6 115.5L122.2 112.9L124 110.3L125.9 107.9L127.9 105.5L130 103.3L132.2 101.1L134.6 99.1L137 97.2L139.6 95.5L142.2 93.8L144.9 92.4L147.7 91L150.6 89.9L153.5 88.9L156.5 88.2L159.5 87.6L162.6 87.2Z" stroke="#edebd8" stroke-width="9.3"/>
<path d="M165.7 91.6l.3-2.3l.2-1.7l0-1.1l-.3-1.7l-.3-2.2M168.8 91.6l-.3-2.2l-.2-1.7l0-1.1l.2-1.7l.3-2.2M171.9 91.6l.3-2.2l.2-1.7l0-1.1l-.2-1.7l-.3-2.2M175 91.6l-.3-2.2l-.2-1.7l0-1.1l.2-1.7l.3-2.2M178.1 91.6l.3-2.2l.2-1.7l0-1.1l-.2-1.7l-.3-2.2M181.2 91.6l-.3-2.2l-.2-1.7l0-1.1l.2-1.7l.3-2.2M184.3 91.6l.3-2.2l.2-1.7l0-1.1l-.2-1.7l-.3-2.2M187.3 91.6l-.3-2.2l-.2-1.7l0-1.1l.2-1.7l.3-2.2M190.4 91.6l.3-2.2l.2-1.7l0-1.1l-.2-1.7l-.3-2.2M193.5 91.6l-.3-2.2l-.2-1.7l0-1.1l.2-1.7l.3-2.2M196.6 91.6l.3-2.2l.2-1.7l0-1.1l-.2-1.7l-.3-2.2M199.7 91.6l-.3-2.2l-.2-1.7l0-1.1l.2-1.7l.3-2.2M202.8 91.6l.3-2.2l.2-1.7l0-1.1l-.2-1.7l-.3-2.2M205.9 91.6l-.3-2.2l-.2-1.7l0-1.1l.2-1.7l.3-2.2M209 91.6l.3-2.2l.2-1.7l0-1.1l-.2-1.7l-.3-2.2M212.1 91.6l-.3-2.2l-.2-1.7l0-1.1l.2-1.7l.3-2.2M215.2 91.6l.3-2.2l.2-1.7l0-1.1l-.2-1.7l-.3-2.2M218.3 91.6l-.3-2.2l-.2-1.7l0-1.1l.2-1.7l.3-2.2M221.4 91.6l.3-2.2l.2-1.7l0-1.1l-.2-1.7l-.3-2.2M224.4 91.6l-.3-2.2l-.2-1.7l0-1.1l.2-1.7l.3-2.2M227.5 91.6l.3-2.2l.2-1.7l0-1.1l-.2-1.7l-.3-2.2M230.6 91.6l-.3-2.2l-.2-1.7l0-1.1l.2-1.7l.3-2.2M233.7 91.6l.3-2.2l.2-1.7l0-1.1l-.2-1.7l-.3-2.2M236.8 91.6l-.3-2.2l-.2-1.7l0-1.1l.2-1.7l.3-2.2M239.9 91.6l.3-2.2l.2-1.7l0-1.1l-.2-1.7l-.3-2.2M243 91.6l-.3-2.2l-.2-1.7l0-1.1l.2-1.7l.3-2.2M246.1 91.6l.3-2.2l.2-1.7l0-1.1l-.2-1.7l-.3-2.2M249.2 91.6l-.3-2.2l-.2-1.7l0-1.1l.2-1.7l.3-2.2M252.3 91.6l.3-2.2l.2-1.7l0-1.1l-.2-1.7l-.3-2.2M255.4 91.6l-.3-2.2l-.2-1.7l0-1.1l.2-1.7l.3-2.2M258.5 91.6l.3-2.2l.2-1.7l0-1.1l-.2-1.7l-.3-2.2M261.6 91.6l-.3-2.2l-.2-1.7l0-1.1l.2-1.7l.3-2.2M264.6 91.6l.3-2.2l.2-1.7l0-1.1l-.2-1.7l-.3-2.2M267.7 91.6l-.3-2.2l-.2-1.7l0-1.1l.2-1.7l.3-2.2M270.8 91.6l.3-2.2l.2-1.7l0-1.1l-.2-1.7l-.3-2.2M273.9 91.6l-.3-2.2l-.2-1.7l0-1.1l.2-1.7l.3-2.2M277 91.6l.3-2.2l.2-1.7l0-1.1l-.2-1.7l-.3-2.2M280.1 91.6l-.3-2.2l-.2-1.7l0-1.1l.2-1.7l.3-2.2M283.2 91.6l.3-2.2l.2-1.7l0-1.1l-.2-1.7l-.3-2.2M286.3 91.6l-.3-2.2l-.2-1.7l0-1.1l.2-1.7l.3-2.2M289.4 91.6l.3-2.2l.2-1.7l0-1.1l-.2-1.7l-.3-2.2M292.5 91.6l-.3-2.2l-.2-1.7l0-1.1l.2-1.7l.3-2.2M295.6 91.6l.3-2.2l.2-1.7l0-1.1l-.2-1.7l-.3-2.2M298.7 91.6l-.3-2.2l-.2-1.7l0-1.1l.2-1.7l.3-2.2M301.7 91.6l.3-2.2l.2-1.7l0-1.1l-.2-1.7l-.3-2.2M304.8 91.6l-.3-2.2l-.2-1.7l0-1.1l.2-1.7l.3-2.2M307.9 91.6l.3-2.2l.2-1.7l0-1.1l-.2-1.7l-.3-2.2M311 91.6l-.3-2.2l-.2-1.7l0-1.1l.2-1.7l.3-2.2M314.1 91.6l.3-2.2l.2-1.7l0-1.1l-.2-1.7l-.3-2.2M317.2 91.6l-.3-2.2l-.2-1.7l0-1.1l.2-1.7l.3-2.2M320.3 91.6l.3-2.2l.2-1.7l0-1.1l-.2-1.7l-.3-2.2M323.4 91.6l-.3-2.2l-.2-1.7l0-1.1l.2-1.7l.3-2.2M326.5 91.6l.3-2.2l.2-1.7l0-1.1l-.2-1.7l-.3-2.2M329.6 91.6l-.3-2.2l-.2-1.7l0-1.1l.2-1.7l.3-2.2M332.7 91.6l.3-2.2l.2-1.7l0-1.1l-.2-1.7l-.3-2.2M335.8 91.6l-.3-2.2l-.2-1.7l0-1.1l.2-1.7l.3-2.2M338.9 91.6l.3-2.2l.2-1.7l0-1.1l-.2-1.7l-.3-2.2M341.9 91.6l-.3-2.2l-.2-1.7l0-1.1l.2-1.7l.3-2.2M345 91.6l.3-2.2l.2-1.7l0-1.1l-.2-1.7l-.3-2.2M348.1 91.6l-.3-2.2l-.2-1.7l0-1.1l.2-1.7l.3-2.2M351.2 91.6l.3-2.2l.2-1.7l0-1.1l-.2-1.7l-.3-2.2M354.3 91.6l-.3-2.2l-.2-1.7l0-1.1l.2-1.7l.3-2.2M357.4 91.6l.3-2.2l.2-1.7l0-1.1l-.2-1.7l-.3-2.2M360.5 91.6l-.3-2.2l-.2-1.7l0-1.1l.2-1.7l.3-2.2M363.6 91.6l.3-2.2l.2-1.7l0-1.1l-.2-1.7l-.3-2.2M366.7 91.6l-.3-2.2l-.2-1.7l0-1.1l.2-1.7l.3-2.2M369.8 91.6l.3-2.2l.2-1.7l0-1.1l-.2-1.7l-.3-2.2M372.9 91.6l-.3-2.2l-.2-1.7l0-1.1l.2-1.7l.3-2.2M376 91.6l.3-2.2l.2-1.7l0-1.1l-.2-1.7l-.3-2.2M379.1 91.6l-.3-2.2l-.2-1.7l0-1.1l.2-1.7l.3-2.2M382.1 91.6l.3-2.2l.2-1.7l0-1.1l-.2-1.7l-.3-2.2M385.2 91.6l-.3-2.2l-.2-1.7l0-1.1l.2-1.7l.3-2.2M388.3 91.6l.3-2.2l.2-1.7l0-1.1l-.2-1.7l-.3-2.2M391.4 91.6l-.3-2.2l-.2-1.7l0-1.1l.2-1.7l.3-2.2M394.5 91.6l.3-2.2l.2-1.7l0-1.1l-.2-1.7l-.3-2.2M397.6 91.6l-.3-2.2l-.2-1.7l0-1.1l.2-1.7l.3-2.2M400.7 91.6l.3-2.2l.2-1.7l0-1.1l-.2-1.7l-.3-2.2M403.8 91.6l-.3-2.2l-.2-1.7l0-1.1l.2-1.7l.3-2.2M406.9 91.6l.3-2.2l.2-1.7l0-1.1l-.2-1.7l-.3-2.2M410 91.6l-.3-2.2l-.2-1.7l0-1.1l.2-1.7l.3-2.2M413.1 91.6l.3-2.2l.2-1.7l0-1.1l-.2-1.7l-.3-2.2M416.2 91.6l-.3-2.2l-.2-1.7l0-1.1l.2-1.7l.3-2.2M419.2 91.6l.3-2.2l.2-1.7l0-1.1l-.2-1.7l-.3-2.2M422.3 91.6l-.3-2.2l-.2-1.7l0-1.1l.2-1.7l.3-2.2M425.4 91.6l.3-2.2l.2-1.7l0-1.1l-.2-1.7l-.3-2.2M428.5 91.6l-.3-2.2l-.2-1.7l0-1.1l.2-1.7l.3-2.2M431.6 91.6l.3-2.2l.2-1.7l0-1.1l-.2-1.7l-.3-2.2M434.7 91.6l-.3-2.2l-.2-1.7l0-1.1l.2-1.7l.3-2.2M437.8 91.6l.3-2.2l.2-1.7l0-1.1l-.2-1.7l-.3-2.2M440.9 91.6l-.3-2.2l-.2-1.7l0-1.1l.2-1.7l.3-2.2M444 91.6l.3-2.2l.2-1.7l0-1.1l-.2-1.7l-.3-2.2M447.1 91.6l-.3-2.2l-.2-1.7l0-1.1l.2-1.7l.3-2.2M450.2 91.6l.3-2.2l.2-1.7l0-1.1l-.2-1.7l-.3-2.2M453.3 91.6l-.3-2.2l-.2-1.7l0-1.1l.2-1.7l.3-2.2M456.4 91.6l.3-2.2l.2-1.7l0-1.1l-.2-1.7l-.3-2.2M459.4 91.6l-.3-2.2l-.2-1.7l0-1.1l.2-1.7l.3-2.2M462.5 91.6l.3-2.2l.2-1.7l0-1.1l-.2-1.7l-.3-2.2M465.6 91.6l-.3-2.2l-.2-1.7l0-1.1l.2-1.7l.3-2.2M468.7 91.6l.3-2.2l.2-1.7l0-1.1l-.2-1.7l-.3-2.2M471.8 91.6l-.3-2.2l-.2-1.7l0-1.1l.2-1.7l.3-2.2M474.9 91.6l.3-2.2l.2-1.7l0-1.1l-.2-1.7l-.3-2.2M478 91.6l-.3-2.2l-.2-1.7l0-1.1l.2-1.7l.3-2.2M481.1 91.6l.3-2.2l.2-1.7l0-1.1l-.2-1.7l-.3-2.2M484.2 91.6l-.3-2.2l-.2-1.7l0-1.1l.2-1.7l.3-2.2M487.3 91.6l.3-2.2l.2-1.7l0-1.1l-.2-1.7l-.3-2.2M490.4 91.6l-.3-2.2l-.2-1.7l0-1.1l.2-1.7l.3-2.2M493.5 91.6l.3-2.2l.2-1.7l0-1.1l-.2-1.7l-.3-2.2M496.5 91.6l-.3-2.2l-.2-1.7l0-1.1l.2-1.7l.3-2.2M499.6 91.6l.3-2.2l.2-1.7l0-1.1l-.2-1.7l-.3-2.2M502.7 91.6l-.3-2.3l-.2-1.7l0-1.1l.3-1.7l.3-2.2M505.6 91.7l.4-2.2l.3-1.7l.1-1.1l-.1-1.7l-.2-2.3M508.4 91.9l0-2.3l-.1-1.7l.1-1.1l.4-1.7l.6-2.2M511.2 92.3l.7-2.1l.5-1.6l.2-1.1l0-1.7l.1-2.2M514.1 92.8l.2-2.2l.1-1.7l.2-1l.6-1.6l.8-2.1M516.9 93.5l.9-2l.7-1.5l.3-1l.2-1.7l.3-2.2M519.6 94.2l.4-2.2l.3-1.7l.3-1l.7-1.5l1-2M522.4 95.2l1-1.9l.8-1.4l.4-1l.3-1.6l.5-2.1M525.1 96.2l.6-2.1l.4-1.6l.4-.9l.9-1.4l1.1-1.8M527.7 97.4l1.2-1.8l.9-1.3l.4-.9l.5-1.6l.7-2M530.3 98.7l.8-2l.6-1.5l.5-.9l1-1.3l1.3-1.7M532.8 100.1l1.4-1.6l1-1.2l.5-.8l.6-1.5l.8-1.9M535.2 101.7l.9-1.9l.7-1.4l.6-.8l1.1-1.1l1.4-1.5M537.5 103.3l1.5-1.4l1.2-1.1l.6-.8l.8-1.4l1-1.8M539.7 105.2l1.1-1.7l.8-1.3l.6-.7l1.2-1l1.6-1.3M541.9 107.1l1.6-1.2l1.3-.9l.7-.7l.9-1.3l1.2-1.7M543.9 109.1l1.3-1.6l1-1.2l.7-.7l1.3-.9l1.7-1.2M545.7 111.3l1.8-1.1l1.4-.8l.8-.6l1-1.2l1.4-1.5M547.5 113.6l1.5-1.5l1.1-1.1l.8-.6l1.4-.7l1.8-1M549.1 116l1.9-.9l1.4-.7l.8-.5l1.2-1.1l1.6-1.4M550.6 118.4l1.7-1.3l1.2-1l.9-.5l1.5-.6l2-.8M551.9 120.9l2-.7l1.5-.5l.9-.5l1.3-.9l1.7-1.2M553.1 123.6l1.8-1.1l1.4-.9l.9-.4l1.6-.4l2.1-.6M554.2 126.2l2.1-.5l1.6-.4l1-.4l1.4-.8l1.9-1.1M555.1 128.9l2-1l1.5-.8l1-.3l1.6-.3l2.2-.4M555.9 131.7l2.2-.3l1.7-.2l1-.3l1.5-.7l2-.9M556.6 134.5l2.1-.8l1.6-.6l1-.2l1.7-.1l2.2-.2M557.2 137.4l2.2-.1l1.7-.1l1-.2l1.6-.5l2.1-.7M557.6 140.2l2.2-.6l1.6-.5l1.1-.1l1.7 0l2.3 0M557.9 143.1l2.3 .1l1.7 .1l1.1-.1l1.7-.4l2.2-.5M558.2 146l2.2-.4l1.7-.4l1.1-.1l1.7 .1l2.3 .2M558.3 149l2.3 .2l1.7 .2l1.1 0l1.7-.3l2.2-.4M558.3 151.9l2.2-.3l1.7-.2l1.1 0l1.7 .2l2.2 .3M558.3 155l2.2 .3l1.7 .2l1.1 0l1.7-.2l2.2-.3M558.3 158.1l2.2-.3l1.7-.2l1.1 0l1.7 .2l2.2 .3M558.3 161.2l2.2 .3l1.7 .2l1.1 0l1.7-.2l2.2-.3M558.3 164.3l2.2-.3l1.7-.2l1.1 0l1.7 .2l2.2 .3M558.3 167.4l2.2 .3l1.7 .2l1.1 0l1.7-.2l2.2-.3M558.3 170.5l2.2-.3l1.7-.2l1.1 0l1.7 .2l2.2 .3M558.3 173.6l2.2 .3l1.7 .2l1.1 0l1.7-.2l2.2-.3M558.3 176.7l2.2-.3l1.7-.2l1.1 0l1.7 .2l2.2 .3M558.3 179.8l2.2 .3l1.7 .2l1.1 0l1.7-.2l2.2-.3M558.3 182.9l2.2-.3l1.7-.2l1.1 0l1.7 .2l2.2 .3M558.3 186l2.2 .3l1.7 .2l1.1 0l1.7-.2l2.2-.3M558.3 189l2.2-.3l1.7-.2l1.1 0l1.7 .2l2.2 .3M558.3 192.1l2.2 .3l1.7 .2l1.1 0l1.7-.2l2.2-.3M558.3 195.2l2.2-.3l1.7-.2l1.1 0l1.7 .2l2.2 .3M558.3 198.3l2.2 .3l1.7 .2l1.1 0l1.7-.2l2.2-.3M558.3 201.4l2.2-.3l1.7-.2l1.1 0l1.7 .2l2.2 .3M558.3 204.5l2.2 .3l1.7 .2l1.1 0l1.7-.2l2.2-.3M558.3 207.6l2.2-.3l1.7-.2l1.1 0l1.7 .2l2.2 .3M558.3 210.7l2.2 .3l1.7 .2l1.1 0l1.7-.2l2.2-.3M558.3 213.8l2.2-.3l1.7-.2l1.1 0l1.7 .2l2.2 .3M558.3 216.9l2.2 .3l1.7 .2l1.1 0l1.7-.2l2.2-.3M558.3 220l2.2-.3l1.7-.2l1.1 0l1.7 .2l2.2 .3M558.3 223.1l2.2 .3l1.7 .2l1.1 0l1.7-.2l2.2-.3M558.3 226.2l2.2-.3l1.7-.2l1.1 0l1.7 .2l2.2 .3M558.3 229.2l2.2 .3l1.7 .2l1.1 0l1.7-.2l2.2-.3M558.3 232.3l2.2-.3l1.7-.2l1.1 0l1.7 .2l2.2 .3M558.3 235.4l2.2 .3l1.7 .2l1.1 0l1.7-.2l2.2-.3M558.3 238.5l2.2-.3l1.7-.2l1.1 0l1.7 .2l2.2 .3M558.3 241.6l2.2 .3l1.7 .2l1.1 0l1.7-.2l2.2-.3M558.3 244.7l2.2-.3l1.7-.2l1.1 0l1.7 .2l2.2 .3M558.3 247.8l2.2 .3l1.7 .2l1.1 0l1.7-.2l2.2-.3M558.3 250.8l2.3-.3l1.7-.2l1.1 0l1.7 .3l2.2 .3M558.2 253.8l2.2 .4l1.7 .3l1.1 0l1.7-.2l2.3-.2M558.1 256.8l2.3-.2l1.7-.2l1.1 .1l1.7 .3l2.2 .4M557.9 259.8l2.2 .5l1.7 .4l1.1 .1l1.7-.1l2.3-.1M557.7 262.8l2.2-.1l1.7-.1l1.1 .1l1.7 .4l2.2 .5M557.4 265.7l2.2 .6l1.6 .5l1.1 .1l1.7 0l2.2 0M557 268.7l2.2 0l1.7 0l1 .2l1.6 .5l2.1 .6M556.5 271.6l2.1 .7l1.6 .6l1 .2l1.7 .1l2.2 .1M556 274.5l2.2 .2l1.6 .1l1 .2l1.5 .6l2 .8M555.4 277.3l2 .8l1.5 .7l1 .3l1.6 .2l2.1 .3M554.6 280.2l2.1 .3l1.6 .2l.9 .3l1.4 .7l1.9 .9M553.8 282.9l1.8 1l1.4 .8l.9 .3l1.5 .3l2 .4M552.8 285.7l1.9 .5l1.5 .4l.9 .4l1.3 .8l1.7 1M551.7 288.4l1.6 1.1l1.2 .9l.8 .4l1.4 .4l1.9 .6M550.5 291l1.8 .6l1.4 .5l.8 .4l1.1 .9l1.5 1.2M549.1 293.5l1.4 1.2l1 .9l.7 .5l1.3 .5l1.7 .7M547.6 295.9l1.6 .8l1.2 .6l.7 .5l.9 1l1.2 1.3M545.8 298.2l1.1 1.3l.9 1l.6 .5l1.2 .6l1.5 .9M544 300.4l1.4 1l1.1 .7l.6 .6l.8 1.1l1 1.4M541.9 302.4l.9 1.5l.7 1.1l.6 .6l1.1 .8l1.4 1.1M539.7 304.2l1.3 1.2l1 .9l.5 .6l.6 1.2l.9 1.5M537.4 305.9l.8 1.6l.6 1.2l.5 .7l1 1l1.3 1.3M534.9 307.4l1.2 1.4l.9 1l.5 .7l.5 1.3l.7 1.7M532.4 308.8l.6 1.8l.5 1.4l.4 .8l.9 1.1l1.2 1.5M529.8 310l1.1 1.6l.9 1.2l.4 .8l.4 1.4l.6 1.9M527.1 311.1l.5 1.9l.4 1.5l.4 .9l.8 1.3l1 1.7M524.4 312.1l1 1.8l.8 1.4l.3 .9l.3 1.5l.4 2M521.6 312.9l.3 2.1l.2 1.6l.3 .9l.7 1.4l.9 1.9M518.8 313.7l.8 2l.7 1.5l.3 1l.2 1.6l.3 2.1M515.9 314.4l.2 2.2l.1 1.6l.2 1l.6 1.5l.8 2M513 314.9l.7 2.1l.6 1.6l.2 1l.1 1.7l.1 2.2M510.1 315.4l.1 2.2l0 1.7l.2 1l.5 1.6l.7 2.1M507.2 315.8l.6 2.2l.5 1.6l.1 1.1l0 1.7l0 2.2M504.2 316.1l-.1 2.2l-.1 1.7l.1 1.1l.4 1.7l.5 2.2M501.2 316.4l.5 2.2l.4 1.7l.1 1.1l-.1 1.7l-.1 2.3M498.3 316.6l-.2 2.3l-.1 1.7l.1 1.1l.3 1.7l.4 2.2M495.3 316.7l.4 2.2l.3 1.7l0 1.1l-.2 1.7l-.2 2.3M492.3 316.8l-.3 2.3l-.2 1.7l0 1.1l.3 1.7l.3 2.2M489.2 316.9l.3 2.2l.3 1.7l0 1.1l-.2 1.7l-.3 2.3M486.2 316.9l-.3 2.2l-.2 1.7l0 1.1l.2 1.7l.3 2.2M483.1 316.9l.3 2.2l.2 1.7l0 1.1l-.2 1.7l-.3 2.2M480 316.9l-.3 2.2l-.2 1.7l0 1.1l.2 1.7l.3 2.2M476.9 316.9l.3 2.2l.2 1.7l0 1.1l-.2 1.7l-.3 2.2M473.8 316.9l-.3 2.2l-.2 1.7l0 1.1l.2 1.7l.3 2.2M470.7 316.9l.3 2.2l.2 1.7l0 1.1l-.2 1.7l-.3 2.2M467.6 316.9l-.3 2.2l-.2 1.7l0 1.1l.2 1.7l.3 2.2M464.5 316.9l.3 2.2l.2 1.7l0 1.1l-.2 1.7l-.3 2.2M461.4 316.9l-.3 2.2l-.2 1.7l0 1.1l.2 1.7l.3 2.2M458.3 316.9l.3 2.2l.2 1.7l0 1.1l-.2 1.7l-.3 2.2M455.2 316.9l-.3 2.2l-.2 1.7l0 1.1l.2 1.7l.3 2.2M452.1 316.9l.3 2.2l.2 1.7l0 1.1l-.2 1.7l-.3 2.2M449.1 316.9l-.3 2.2l-.2 1.7l0 1.1l.2 1.7l.3 2.2M446 316.9l.3 2.2l.2 1.7l0 1.1l-.2 1.7l-.3 2.2M442.9 316.9l-.3 2.2l-.2 1.7l0 1.1l.2 1.7l.3 2.2M439.8 316.9l.3 2.2l.2 1.7l0 1.1l-.2 1.7l-.3 2.2M436.7 316.9l-.3 2.2l-.2 1.7l0 1.1l.2 1.7l.3 2.2M433.6 316.9l.3 2.2l.2 1.7l0 1.1l-.2 1.7l-.3 2.2M430.5 316.9l-.3 2.2l-.2 1.7l0 1.1l.2 1.7l.3 2.2M427.4 316.9l.3 2.2l.2 1.7l0 1.1l-.2 1.7l-.3 2.2M424.3 316.9l-.3 2.2l-.2 1.7l0 1.1l.2 1.7l.3 2.2M421.2 316.9l.3 2.2l.2 1.7l0 1.1l-.2 1.7l-.3 2.2M418.1 316.9l-.3 2.2l-.2 1.7l0 1.1l.2 1.7l.3 2.2M415 316.9l.3 2.2l.2 1.7l0 1.1l-.2 1.7l-.3 2.2M411.9 316.9l-.3 2.2l-.2 1.7l0 1.1l.2 1.7l.3 2.2M408.9 316.9l.3 2.2l.2 1.7l0 1.1l-.2 1.7l-.3 2.2M405.8 316.9l-.3 2.2l-.2 1.7l0 1.1l.2 1.7l.3 2.2M402.7 316.9l.3 2.2l.2 1.7l0 1.1l-.2 1.7l-.3 2.2M399.6 316.9l-.3 2.2l-.2 1.7l0 1.1l.2 1.7l.3 2.2M396.5 316.9l.3 2.2l.2 1.7l0 1.1l-.2 1.7l-.3 2.2M393.4 316.9l-.3 2.2l-.2 1.7l0 1.1l.2 1.7l.3 2.2M390.3 316.9l.3 2.2l.2 1.7l0 1.1l-.2 1.7l-.3 2.2M387.2 316.9l-.3 2.2l-.2 1.7l0 1.1l.2 1.7l.3 2.2M384.1 316.9l.3 2.2l.2 1.7l0 1.1l-.2 1.7l-.3 2.2M381 316.9l-.3 2.2l-.2 1.7l0 1.1l.2 1.7l.3 2.2M377.9 316.9l.3 2.2l.2 1.7l0 1.1l-.2 1.7l-.3 2.2M374.8 316.9l-.3 2.2l-.2 1.7l0 1.1l.2 1.7l.3 2.2M371.8 316.9l.3 2.2l.2 1.7l0 1.1l-.2 1.7l-.3 2.2M368.7 316.9l-.3 2.2l-.2 1.7l0 1.1l.2 1.7l.3 2.2M365.6 316.9l.3 2.2l.2 1.7l0 1.1l-.2 1.7l-.3 2.2M362.5 316.9l-.3 2.2l-.2 1.7l0 1.1l.2 1.7l.3 2.2M359.4 316.9l.3 2.2l.2 1.7l0 1.1l-.2 1.7l-.3 2.2M356.3 316.9l-.3 2.2l-.2 1.7l0 1.1l.2 1.7l.3 2.2M353.2 316.9l.3 2.2l.2 1.7l0 1.1l-.2 1.7l-.3 2.2M350.1 316.9l-.3 2.2l-.2 1.7l0 1.1l.2 1.7l.3 2.2M347 316.9l.3 2.2l.2 1.7l0 1.1l-.2 1.7l-.3 2.2M343.9 316.9l-.3 2.2l-.2 1.7l0 1.1l.2 1.7l.3 2.2M340.8 316.9l.3 2.2l.2 1.7l0 1.1l-.2 1.7l-.3 2.2M337.7 316.9l-.3 2.2l-.2 1.7l0 1.1l.2 1.7l.3 2.2M334.6 316.9l.3 2.2l.2 1.7l0 1.1l-.2 1.7l-.3 2.2M331.6 316.9l-.3 2.2l-.2 1.7l0 1.1l.2 1.7l.3 2.2M328.5 316.9l.3 2.2l.2 1.7l0 1.1l-.2 1.7l-.3 2.2M325.4 316.9l-.3 2.2l-.2 1.7l0 1.1l.2 1.7l.3 2.2M322.3 316.9l.3 2.2l.2 1.7l0 1.1l-.2 1.7l-.3 2.2M319.2 316.9l-.3 2.2l-.2 1.7l0 1.1l.2 1.7l.3 2.2M316.1 316.9l.3 2.2l.2 1.7l0 1.1l-.2 1.7l-.3 2.2M313 316.9l-.3 2.2l-.2 1.7l0 1.1l.2 1.7l.3 2.2M309.9 316.9l.3 2.2l.2 1.7l0 1.1l-.2 1.7l-.3 2.2M306.8 316.9l-.3 2.2l-.2 1.7l0 1.1l.2 1.7l.3 2.2M303.7 316.9l.3 2.2l.2 1.7l0 1.1l-.2 1.7l-.3 2.2M300.6 316.9l-.3 2.2l-.2 1.7l0 1.1l.2 1.7l.3 2.2M297.5 316.9l.3 2.2l.2 1.7l0 1.1l-.2 1.7l-.3 2.2M294.5 316.9l-.3 2.2l-.2 1.7l0 1.1l.2 1.7l.3 2.2M291.4 316.9l.3 2.2l.2 1.7l0 1.1l-.2 1.7l-.3 2.2M288.3 316.9l-.3 2.2l-.2 1.7l0 1.1l.2 1.7l.3 2.2M285.2 316.9l.3 2.2l.2 1.7l0 1.1l-.2 1.7l-.3 2.2M282.1 316.9l-.3 2.2l-.2 1.7l0 1.1l.2 1.7l.3 2.2M279 316.9l.3 2.2l.2 1.7l0 1.1l-.2 1.7l-.3 2.2M275.9 316.9l-.3 2.2l-.2 1.7l0 1.1l.2 1.7l.3 2.2M272.8 316.9l.3 2.2l.2 1.7l0 1.1l-.2 1.7l-.3 2.2M269.7 316.9l-.3 2.2l-.2 1.7l0 1.1l.2 1.7l.3 2.2M266.6 316.9l.3 2.2l.2 1.7l0 1.1l-.2 1.7l-.3 2.2M263.5 316.9l-.3 2.2l-.2 1.7l0 1.1l.2 1.7l.3 2.2M260.4 316.9l.3 2.2l.2 1.7l0 1.1l-.2 1.7l-.3 2.2M257.3 316.9l-.3 2.2l-.2 1.7l0 1.1l.2 1.7l.3 2.2M254.3 316.9l.3 2.2l.2 1.7l0 1.1l-.2 1.7l-.3 2.2M251.2 316.9l-.3 2.2l-.2 1.7l0 1.1l.2 1.7l.3 2.2M248.1 316.9l.3 2.2l.2 1.7l0 1.1l-.2 1.7l-.3 2.2M245 316.9l-.3 2.2l-.2 1.7l0 1.1l.2 1.7l.3 2.2M241.9 316.9l.3 2.2l.2 1.7l0 1.1l-.2 1.7l-.3 2.2M238.8 316.9l-.3 2.2l-.2 1.7l0 1.1l.2 1.7l.3 2.2M235.7 316.9l.3 2.2l.2 1.7l0 1.1l-.2 1.7l-.3 2.2M232.6 316.9l-.3 2.2l-.2 1.7l0 1.1l.2 1.7l.3 2.2M229.5 316.9l.3 2.2l.2 1.7l0 1.1l-.2 1.7l-.3 2.2M226.4 316.9l-.3 2.2l-.2 1.7l0 1.1l.2 1.7l.3 2.2M223.3 316.9l.3 2.2l.2 1.7l0 1.1l-.2 1.7l-.3 2.2M220.2 316.9l-.3 2.2l-.2 1.7l0 1.1l.2 1.7l.3 2.2M217.2 316.9l.3 2.2l.2 1.7l0 1.1l-.2 1.7l-.3 2.2M214.1 316.9l-.3 2.2l-.2 1.7l0 1.1l.2 1.7l.3 2.2M211 316.9l.3 2.2l.2 1.7l0 1.1l-.2 1.7l-.3 2.2M207.9 316.9l-.3 2.2l-.2 1.7l0 1.1l.2 1.7l.3 2.2M204.8 316.9l.3 2.2l.2 1.7l0 1.1l-.2 1.7l-.3 2.2M201.7 316.9l-.3 2.2l-.2 1.7l0 1.1l.2 1.7l.3 2.2M198.6 316.9l.3 2.2l.2 1.7l0 1.1l-.2 1.7l-.3 2.2M195.5 316.9l-.3 2.2l-.2 1.7l0 1.1l.2 1.7l.3 2.2M192.4 316.9l.3 2.2l.2 1.7l0 1.1l-.2 1.7l-.3 2.2M189.3 316.9l-.3 2.2l-.2 1.7l0 1.1l.2 1.7l.3 2.2M186.2 316.9l.3 2.2l.2 1.7l0 1.1l-.2 1.7l-.3 2.2M183.1 316.9l-.3 2.2l-.2 1.7l0 1.1l.2 1.7l.3 2.2M180 316.9l.3 2.2l.2 1.7l0 1.1l-.2 1.7l-.3 2.2M177 316.9l-.3 2.2l-.2 1.7l0 1.1l.2 1.7l.3 2.2M173.9 316.9l.3 2.2l.2 1.7l0 1.1l-.2 1.7l-.3 2.2M170.8 316.9l-.3 2.2l-.2 1.7l0 1.1l.2 1.7l.3 2.2M167.8 316.8l.2 2.3l.2 1.7l0 1.1l-.3 1.7l-.4 2.2M165 316.7l-.5 2.2l-.4 1.7l-.1 1.1l.1 1.7l.1 2.3M162.1 316.4l0 2.2l0 1.7l-.1 1.1l-.5 1.6l-.6 2.2M159.3 316l-.7 2.1l-.6 1.6l-.2 1l-.1 1.7l-.1 2.2M156.5 315.4l-.2 2.2l-.2 1.7l-.3 1l-.6 1.5l-.8 2M153.7 314.7l-.9 2l-.7 1.5l-.3 1l-.2 1.6l-.3 2.1M151 313.9l-.4 2.1l-.3 1.6l-.3 1l-.8 1.4l-1 1.9M148.3 312.9l-1.1 1.8l-.8 1.4l-.4 .9l-.4 1.6l-.5 2M145.7 311.7l-.6 2l-.5 1.5l-.4 .9l-.9 1.3l-1.2 1.7M143.1 310.5l-1.3 1.6l-1 1.2l-.5 .8l-.5 1.5l-.7 1.9M140.6 309l-.8 1.8l-.6 1.4l-.5 .8l-1 1.1l-1.3 1.5M138.2 307.4l-1.4 1.4l-1.1 1.1l-.6 .8l-.7 1.3l-.9 1.8M135.9 305.7l-1 1.7l-.7 1.3l-.6 .7l-1.1 1l-1.5 1.3M133.8 303.9l-1.5 1.2l-1.2 .9l-.6 .7l-.8 1.2l-1.1 1.6M131.7 301.9l-1.2 1.6l-.9 1.2l-.7 .6l-1.2 .8l-1.6 1.1M129.8 299.7l-1.7 1l-1.3 .8l-.7 .6l-1 1.1l-1.3 1.5M128 297.5l-1.4 1.4l-1 1.1l-.7 .6l-1.3 .7l-1.7 .9M126.4 295.1l-1.8 .9l-1.4 .6l-.8 .5l-1.1 1l-1.5 1.4M124.9 292.7l-1.6 1.3l-1.2 1l-.8 .5l-1.4 .6l-1.9 .8M123.5 290.1l-1.9 .7l-1.5 .5l-.9 .5l-1.2 .9l-1.6 1.2M122.3 287.5l-1.7 1.1l-1.3 .9l-.9 .4l-1.5 .4l-2 .6M121.2 284.9l-2.1 .5l-1.6 .4l-.9 .4l-1.4 .8l-1.8 1.1M120.2 282.1l-1.9 1l-1.4 .8l-1 .3l-1.6 .3l-2.1 .4M119.4 279.4l-2.1 .3l-1.6 .2l-1 .3l-1.5 .7l-2 .9M118.6 276.6l-2 .8l-1.5 .6l-1 .3l-1.7 .2l-2.2 .2M118 273.7l-2.2 .2l-1.7 .1l-1 .2l-1.6 .6l-2.1 .7M117.5 270.8l-2.1 .7l-1.6 .5l-1 .2l-1.7 0l-2.2 .1M117.1 268l-2.2 0l-1.7 0l-1.1 .1l-1.6 .5l-2.2 .6M116.8 265l-2.2 .5l-1.7 .4l-1.1 .1l-1.7-.1l-2.3-.1M116.6 262.1l-2.3-.2l-1.7-.1l-1.1 .1l-1.7 .3l-2.2 .4M116.5 259.2l-2.2 .4l-1.7 .3l-1.1 0l-1.7-.2l-2.3-.2M116.5 256.2l-2.2-.3l-1.7-.2l-1.1 0l-1.7 .2l-2.2 .3M116.5 253.1l-2.2 .3l-1.7 .2l-1.1 0l-1.7-.2l-2.2-.3M116.5 250l-2.2-.3l-1.7-.2l-1.1 0l-1.7 .2l-2.2 .3M116.5 246.9l-2.2 .3l-1.7 .2l-1.1 0l-1.7-.2l-2.2-.3M116.5 243.8l-2.2-.3l-1.7-.2l-1.1 0l-1.7 .2l-2.2 .3M116.5 240.7l-2.2 .3l-1.7 .2l-1.1 0l-1.7-.2l-2.2-.3M116.5 237.6l-2.2-.3l-1.7-.2l-1.1 0l-1.7 .2l-2.2 .3M116.5 234.5l-2.2 .3l-1.7 .2l-1.1 0l-1.7-.2l-2.2-.3M116.5 231.4l-2.2-.3l-1.7-.2l-1.1 0l-1.7 .2l-2.2 .3M116.5 228.3l-2.2 .3l-1.7 .2l-1.1 0l-1.7-.2l-2.2-.3M116.5 225.3l-2.2-.3l-1.7-.2l-1.1 0l-1.7 .2l-2.2 .3M116.5 222.2l-2.2 .3l-1.7 .2l-1.1 0l-1.7-.2l-2.2-.3M116.5 219.1l-2.2-.3l-1.7-.2l-1.1 0l-1.7 .2l-2.2 .3M116.5 216l-2.2 .3l-1.7 .2l-1.1 0l-1.7-.2l-2.2-.3M116.5 212.9l-2.2-.3l-1.7-.2l-1.1 0l-1.7 .2l-2.2 .3M116.5 209.8l-2.2 .3l-1.7 .2l-1.1 0l-1.7-.2l-2.2-.3M116.5 206.7l-2.2-.3l-1.7-.2l-1.1 0l-1.7 .2l-2.2 .3M116.5 203.6l-2.2 .3l-1.7 .2l-1.1 0l-1.7-.2l-2.2-.3M116.5 200.5l-2.2-.3l-1.7-.2l-1.1 0l-1.7 .2l-2.2 .3M116.5 197.4l-2.2 .3l-1.7 .2l-1.1 0l-1.7-.2l-2.2-.3M116.5 194.3l-2.2-.3l-1.7-.2l-1.1 0l-1.7 .2l-2.2 .3M116.5 191.2l-2.2 .3l-1.7 .2l-1.1 0l-1.7-.2l-2.2-.3M116.5 188.2l-2.2-.3l-1.7-.2l-1.1 0l-1.7 .2l-2.2 .3M116.5 185.1l-2.2 .3l-1.7 .2l-1.1 0l-1.7-.2l-2.2-.3M116.5 182l-2.2-.3l-1.7-.2l-1.1 0l-1.7 .2l-2.2 .3M116.5 178.9l-2.2 .3l-1.7 .2l-1.1 0l-1.7-.2l-2.2-.3M116.5 175.8l-2.2-.3l-1.7-.2l-1.1 0l-1.7 .2l-2.2 .3M116.5 172.7l-2.2 .3l-1.7 .2l-1.1 0l-1.7-.2l-2.2-.3M116.5 169.6l-2.2-.3l-1.7-.2l-1.1 0l-1.7 .2l-2.2 .3M116.5 166.5l-2.2 .3l-1.7 .2l-1.1 0l-1.7-.2l-2.2-.3M116.5 163.4l-2.2-.3l-1.7-.2l-1.1 0l-1.7 .2l-2.2 .3M116.5 160.3l-2.2 .3l-1.7 .2l-1.1 0l-1.7-.2l-2.2-.3M116.5 157.2l-2.2-.3l-1.7-.2l-1.1 0l-1.7 .2l-2.2 .3M116.5 154.1l-2.2 .3l-1.7 .2l-1.1 0l-1.7-.2l-2.2-.3M116.5 151l-2.2-.3l-1.7-.2l-1.1 0l-1.7 .2l-2.2 .3M116.5 148l-2.2 .3l-1.7 .2l-1.1 0l-1.7-.2l-2.2-.3M116.5 145l-2.2-.4l-1.7-.3l-1.1 0l-1.7 .2l-2.3 .2M116.7 142.2l-2.3 .1l-1.7 .1l-1.1-.1l-1.7-.4l-2.2-.5M117 139.3l-2.2-.6l-1.7-.5l-1.1-.1l-1.7 0l-2.3 0M117.4 136.5l-2.3-.1l-1.7-.1l-1.1-.2l-1.6-.6l-2.2-.7M118 133.7l-2.1-.8l-1.6-.6l-1.1-.3l-1.7-.2l-2.3-.2M118.8 130.9l-2.2-.3l-1.7-.2l-1-.3l-1.6-.7l-2.1-.9M119.6 128.2l-2-1l-1.5-.8l-1-.4l-1.7-.3l-2.2-.5M120.6 125.5l-2.2-.6l-1.7-.4l-1-.4l-1.5-.9l-2-1.1M121.8 122.8l-1.9-1.2l-1.4-.9l-1-.5l-1.7-.5l-2.2-.7M123.1 120.3l-2.1-.8l-1.6-.6l-1-.5l-1.4-1l-1.9-1.3M124.5 117.8l-1.8-1.4l-1.3-1.1l-.9-.5l-1.6-.7l-2.1-.9M126 115.3l-2-1l-1.6-.7l-.9-.6l-1.3-1.1l-1.7-1.5M127.6 113l-1.6-1.6l-1.2-1.2l-.9-.6l-1.5-.8l-2-1.1M129.4 110.7l-1.9-1.2l-1.5-.9l-.8-.7l-1.2-1.3l-1.6-1.7M131.2 108.5l-1.5-1.7l-1.1-1.3l-.8-.7l-1.4-1l-1.9-1.3M133.2 106.5l-1.8-1.4l-1.4-1l-.8-.8l-1-1.4l-1.4-1.8M135.3 104.5l-1.3-1.9l-1-1.4l-.7-.8l-1.3-1.1l-1.7-1.5M137.4 102.6l-1.7-1.5l-1.3-1.2l-.7-.8l-.9-1.5l-1.2-1.9M139.7 100.8l-1.1-2l-.8-1.5l-.6-.9l-1.2-1.2l-1.6-1.6M142 99.2l-1.5-1.7l-1.1-1.3l-.6-.9l-.7-1.6l-1-2M144.4 97.7l-.9-2.1l-.6-1.6l-.5-.9l-1.1-1.4l-1.4-1.8M146.9 96.4l-1.3-1.9l-1-1.4l-.5-1l-.6-1.6l-.7-2.1M149.5 95.2l-.6-2.2l-.5-1.7l-.4-1l-.9-1.5l-1.2-1.9M152.1 94.1l-1.1-2l-.8-1.5l-.4-1l-.4-1.7l-.5-2.2M154.8 93.2l-.3-2.2l-.2-1.7l-.3-1l-.7-1.6l-.9-2.1M157.5 92.5l-.8-2.1l-.6-1.6l-.2-1.1l-.1-1.7l-.2-2.3M160.2 92l0-2.3l0-1.7l-.2-1.1l-.5-1.7l-.6-2.2M163 91.7l-.5-2.2l-.4-1.7l-.1-1.1l.1-1.7l.1-2.3" stroke="#868470" stroke-width=".85"/>
<path d="M165.7 81.7L168.8 81.7L171.9 81.7L175 81.7L178.1 81.7L181.2 81.7L184.3 81.7L187.3 81.7L190.4 81.7L193.5 81.7L196.6 81.7L199.7 81.7L202.8 81.7L205.9 81.7L209 81.7L212.1 81.7L215.2 81.7L218.3 81.7L221.4 81.7L224.4 81.7L227.5 81.7L230.6 81.7L233.7 81.7L236.8 81.7L239.9 81.7L243 81.7L246.1 81.7L249.2 81.7L252.3 81.7L255.4 81.7L258.5 81.7L261.6 81.7L264.6 81.7L267.7 81.7L270.8 81.7L273.9 81.7L277 81.7L280.1 81.7L283.2 81.7L286.3 81.7L289.4 81.7L292.5 81.7L295.6 81.7L298.7 81.7L301.7 81.7L304.8 81.7L307.9 81.7L311 81.7L314.1 81.7L317.2 81.7L320.3 81.7L323.4 81.7L326.5 81.7L329.6 81.7L332.7 81.7L335.8 81.7L338.9 81.7L341.9 81.7L345 81.7L348.1 81.7L351.2 81.7L354.3 81.7L357.4 81.7L360.5 81.7L363.6 81.7L366.7 81.7L369.8 81.7L372.9 81.7L376 81.7L379.1 81.7L382.1 81.7L385.2 81.7L388.3 81.7L391.4 81.7L394.5 81.7L397.6 81.7L400.7 81.7L403.8 81.7L406.9 81.7L410 81.7L413.1 81.7L416.2 81.7L419.2 81.7L422.3 81.7L425.4 81.7L428.5 81.7L431.6 81.7L434.7 81.7L437.8 81.7L440.9 81.7L444 81.7L447.1 81.7L450.2 81.7L453.3 81.7L456.4 81.7L459.4 81.7L462.5 81.7L465.6 81.7L468.7 81.7L471.8 81.7L474.9 81.7L478 81.7L481.1 81.7L484.2 81.7L487.3 81.7L490.4 81.7L493.5 81.7L496.5 81.7L499.6 81.7L502.8 81.7L506.1 81.8L509.5 82.1L512.8 82.6L516.1 83.3L519.4 84.1L522.6 85.1L525.7 86.2L528.8 87.5L531.8 89L534.8 90.5L537.6 92.3L540.4 94.2L543.1 96.2L545.7 98.3L548.2 100.6L550.5 103L552.7 105.5L554.8 108.2L556.8 110.9L558.6 113.8L560.2 116.7L561.7 119.7L563 122.8L564.2 125.9L565.2 129.1L566.1 132.3L566.8 135.6L567.3 138.9L567.7 142.1L568 145.4L568.2 148.7L568.2 151.9L568.2 155L568.2 158.1L568.2 161.2L568.2 164.3L568.2 167.4L568.2 170.5L568.2 173.6L568.2 176.7L568.2 179.8L568.2 182.9L568.2 186L568.2 189L568.2 192.1L568.2 195.2L568.2 198.3L568.2 201.4L568.2 204.5L568.2 207.6L568.2 210.7L568.2 213.8L568.2 216.9L568.2 220L568.2 223.1L568.2 226.2L568.2 229.2L568.2 232.3L568.2 235.4L568.2 238.5L568.2 241.6L568.2 244.7L568.2 247.8L568.2 251L568.1 254.1L568 257.4L567.8 260.6L567.5 263.8L567.1 267L566.6 270.2L566 273.4L565.2 276.6L564.4 279.8L563.4 282.9L562.2 286L560.9 289.1L559.4 292.1L557.8 295L555.9 297.9L554 300.6L551.8 303.2L549.6 305.7L547.2 308.1L544.7 310.3L542 312.4L539.3 314.3L536.4 316.1L533.5 317.8L530.5 319.2L527.5 320.5L524.4 321.7L521.2 322.7L518.1 323.6L514.9 324.3L511.7 324.9L508.5 325.5L505.3 325.9L502.1 326.2L498.8 326.5L495.6 326.6L492.4 326.7L489.3 326.8L486.2 326.8L483.1 326.8L480 326.8L476.9 326.8L473.8 326.8L470.7 326.8L467.6 326.8L464.5 326.8L461.4 326.8L458.3 326.8L455.2 326.8L452.1 326.8L449.1 326.8L446 326.8L442.9 326.8L439.8 326.8L436.7 326.8L433.6 326.8L430.5 326.8L427.4 326.8L424.3 326.8L421.2 326.8L418.1 326.8L415 326.8L411.9 326.8L408.9 326.8L405.8 326.8L402.7 326.8L399.6 326.8L396.5 326.8L393.4 326.8L390.3 326.8L387.2 326.8L384.1 326.8L381 326.8L377.9 326.8L374.8 326.8L371.8 326.8L368.7 326.8L365.6 326.8L362.5 326.8L359.4 326.8L356.3 326.8L353.2 326.8L350.1 326.8L347 326.8L343.9 326.8L340.8 326.8L337.7 326.8L334.6 326.8L331.6 326.8L328.5 326.8L325.4 326.8L322.3 326.8L319.2 326.8L316.1 326.8L313 326.8L309.9 326.8L306.8 326.8L303.7 326.8L300.6 326.8L297.5 326.8L294.5 326.8L291.4 326.8L288.3 326.8L285.2 326.8L282.1 326.8L279 326.8L275.9 326.8L272.8 326.8L269.7 326.8L266.6 326.8L263.5 326.8L260.4 326.8L257.3 326.8L254.3 326.8L251.2 326.8L248.1 326.8L245 326.8L241.9 326.8L238.8 326.8L235.7 326.8L232.6 326.8L229.5 326.8L226.4 326.8L223.3 326.8L220.2 326.8L217.2 326.8L214.1 326.8L211 326.8L207.9 326.8L204.8 326.8L201.7 326.8L198.6 326.8L195.5 326.8L192.4 326.8L189.3 326.8L186.2 326.8L183.1 326.8L180 326.8L177 326.8L173.9 326.8L170.8 326.8L167.5 326.7L164.1 326.5L160.8 326.1L157.5 325.5L154.2 324.7L151 323.8L147.8 322.7L144.7 321.3L141.6 319.9L138.7 318.2L135.8 316.4L133.1 314.5L130.4 312.4L127.9 310.2L125.5 307.8L123.2 305.4L121.1 302.8L119.1 300.1L117.2 297.3L115.5 294.4L114 291.4L112.6 288.4L111.3 285.2L110.3 282.1L109.3 278.9L108.5 275.7L107.9 272.5L107.4 269.2L107 265.9L106.8 262.7L106.6 259.4L106.6 256.2L106.6 253.1L106.6 250L106.6 246.9L106.6 243.8L106.6 240.7L106.6 237.6L106.6 234.5L106.6 231.4L106.6 228.3L106.6 225.3L106.6 222.2L106.6 219.1L106.6 216L106.6 212.9L106.6 209.8L106.6 206.7L106.6 203.6L106.6 200.5L106.6 197.4L106.6 194.3L106.6 191.2L106.6 188.2L106.6 185.1L106.6 182L106.6 178.9L106.6 175.8L106.6 172.7L106.6 169.6L106.6 166.5L106.6 163.4L106.6 160.3L106.6 157.2L106.6 154.1L106.6 151L106.6 148L106.6 144.7L106.8 141.3L107.2 138L107.7 134.7L108.4 131.4L109.3 128.1L110.3 124.9L111.5 121.8L112.8 118.7L114.3 115.7L115.9 112.7L117.7 109.9L119.6 107.1L121.7 104.5L123.9 101.9L126.2 99.5L128.6 97.1L131.2 94.9L133.8 92.9L136.6 90.9L139.5 89.2L142.5 87.5L145.5 86.1L148.7 84.8L152 83.7L155.3 82.9L158.7 82.2L162.2 81.9Z" stroke="#a09c48" stroke-width="2.2"/>
<path d="M165.7 92.5L168.8 92.5L171.9 92.5L175 92.5L178.1 92.5L181.2 92.5L184.3 92.5L187.3 92.5L190.4 92.5L193.5 92.5L196.6 92.5L199.7 92.5L202.8 92.5L205.9 92.5L209 92.5L212.1 92.5L215.2 92.5L218.3 92.5L221.4 92.5L224.4 92.5L227.5 92.5L230.6 92.5L233.7 92.5L236.8 92.5L239.9 92.5L243 92.5L246.1 92.5L249.2 92.5L252.3 92.5L255.4 92.5L258.5 92.5L261.6 92.5L264.6 92.5L267.7 92.5L270.8 92.5L273.9 92.5L277 92.5L280.1 92.5L283.2 92.5L286.3 92.5L289.4 92.5L292.5 92.5L295.6 92.5L298.7 92.5L301.7 92.5L304.8 92.5L307.9 92.5L311 92.5L314.1 92.5L317.2 92.5L320.3 92.5L323.4 92.5L326.5 92.5L329.6 92.5L332.7 92.5L335.8 92.5L338.9 92.5L341.9 92.5L345 92.5L348.1 92.5L351.2 92.5L354.3 92.5L357.4 92.5L360.5 92.5L363.6 92.5L366.7 92.5L369.8 92.5L372.9 92.5L376 92.5L379.1 92.5L382.1 92.5L385.2 92.5L388.3 92.5L391.4 92.5L394.5 92.5L397.6 92.5L400.7 92.5L403.8 92.5L406.9 92.5L410 92.5L413.1 92.5L416.2 92.5L419.2 92.5L422.3 92.5L425.4 92.5L428.5 92.5L431.6 92.5L434.7 92.5L437.8 92.5L440.9 92.5L444 92.5L447.1 92.5L450.2 92.5L453.3 92.5L456.4 92.5L459.4 92.5L462.5 92.5L465.6 92.5L468.7 92.5L471.8 92.5L474.9 92.5L478 92.5L481.1 92.5L484.2 92.5L487.3 92.5L490.4 92.5L493.5 92.5L496.5 92.5L499.6 92.5L502.7 92.5L505.5 92.6L508.3 92.8L511.1 93.2L513.9 93.7L516.6 94.3L519.4 95.1L522.1 96L524.7 97L527.3 98.2L529.8 99.4L532.3 100.9L534.7 102.4L537 104L539.2 105.8L541.2 107.7L543.2 109.8L545.1 111.9L546.8 114.1L548.4 116.4L549.8 118.9L551.1 121.4L552.3 123.9L553.3 126.5L554.3 129.2L555 132L555.7 134.7L556.3 137.5L556.7 140.4L557 143.2L557.3 146.1L557.4 149L557.4 151.9L557.4 155L557.4 158.1L557.4 161.2L557.4 164.3L557.4 167.4L557.4 170.5L557.4 173.6L557.4 176.7L557.4 179.8L557.4 182.9L557.4 186L557.4 189L557.4 192.1L557.4 195.2L557.4 198.3L557.4 201.4L557.4 204.5L557.4 207.6L557.4 210.7L557.4 213.8L557.4 216.9L557.4 220L557.4 223.1L557.4 226.2L557.4 229.2L557.4 232.3L557.4 235.4L557.4 238.5L557.4 241.6L557.4 244.7L557.4 247.8L557.4 250.8L557.3 253.8L557.2 256.8L557 259.8L556.8 262.7L556.5 265.6L556.1 268.5L555.7 271.4L555.1 274.3L554.5 277.1L553.8 279.9L552.9 282.6L552 285.3L550.9 288L549.7 290.5L548.3 293L546.8 295.4L545.1 297.6L543.3 299.7L541.3 301.7L539.1 303.5L536.9 305.2L534.5 306.7L532 308L529.4 309.2L526.8 310.3L524.1 311.2L521.3 312.1L518.5 312.8L515.7 313.5L512.8 314L509.9 314.5L507 314.9L504.1 315.2L501.2 315.5L498.2 315.7L495.2 315.8L492.2 315.9L489.2 316L486.2 316L483.1 316L480 316L476.9 316L473.8 316L470.7 316L467.6 316L464.5 316L461.4 316L458.3 316L455.2 316L452.1 316L449.1 316L446 316L442.9 316L439.8 316L436.7 316L433.6 316L430.5 316L427.4 316L424.3 316L421.2 316L418.1 316L415 316L411.9 316L408.9 316L405.8 316L402.7 316L399.6 316L396.5 316L393.4 316L390.3 316L387.2 316L384.1 316L381 316L377.9 316L374.8 316L371.8 316L368.7 316L365.6 316L362.5 316L359.4 316L356.3 316L353.2 316L350.1 316L347 316L343.9 316L340.8 316L337.7 316L334.6 316L331.6 316L328.5 316L325.4 316L322.3 316L319.2 316L316.1 316L313 316L309.9 316L306.8 316L303.7 316L300.6 316L297.5 316L294.5 316L291.4 316L288.3 316L285.2 316L282.1 316L279 316L275.9 316L272.8 316L269.7 316L266.6 316L263.5 316L260.4 316L257.3 316L254.3 316L251.2 316L248.1 316L245 316L241.9 316L238.8 316L235.7 316L232.6 316L229.5 316L226.4 316L223.3 316L220.2 316L217.2 316L214.1 316L211 316L207.9 316L204.8 316L201.7 316L198.6 316L195.5 316L192.4 316L189.3 316L186.2 316L183.1 316L180 316L177 316L173.9 316L170.8 316L167.9 315.9L165 315.8L162.3 315.5L159.5 315.1L156.7 314.5L154 313.8L151.3 313L148.7 312L146.1 310.9L143.5 309.7L141.1 308.3L138.8 306.7L136.5 305L134.4 303.2L132.4 301.2L130.5 299.1L128.7 296.9L127.1 294.6L125.6 292.2L124.3 289.7L123.1 287.1L122 284.5L121.1 281.8L120.2 279.1L119.5 276.3L118.9 273.5L118.4 270.7L118 267.8L117.7 264.9L117.5 262L117.4 259.1L117.4 256.2L117.4 253.1L117.4 250L117.4 246.9L117.4 243.8L117.4 240.7L117.4 237.6L117.4 234.5L117.4 231.4L117.4 228.3L117.4 225.3L117.4 222.2L117.4 219.1L117.4 216L117.4 212.9L117.4 209.8L117.4 206.7L117.4 203.6L117.4 200.5L117.4 197.4L117.4 194.3L117.4 191.2L117.4 188.2L117.4 185.1L117.4 182L117.4 178.9L117.4 175.8L117.4 172.7L117.4 169.6L117.4 166.5L117.4 163.4L117.4 160.3L117.4 157.2L117.4 154.1L117.4 151L117.4 148L117.4 145L117.6 142.2L117.9 139.4L118.3 136.6L118.9 133.9L119.6 131.2L120.5 128.5L121.5 125.8L122.6 123.2L123.9 120.7L125.2 118.2L126.7 115.8L128.3 113.5L130.1 111.3L131.9 109.1L133.8 107.1L135.9 105.1L138 103.3L140.2 101.6L142.5 100L144.9 98.5L147.3 97.2L149.9 96L152.4 95L155 94.1L157.7 93.4L160.3 92.9L163 92.6Z" stroke="#a09c48" stroke-width="2.2"/>
<path d="M165.1 81.7l4.2 0M165.2 92.5l4.2 0M171.3 81.7l4.2 0M171.3 92.5l4.2 0M177.5 81.7l4.2 0M177.5 92.5l4.2 0M183.7 81.7l4.2 0M183.7 92.5l4.2 0M189.9 81.7l4.2 0M189.9 92.5l4.2 0M196.1 81.7l4.2 0M196.1 92.5l4.2 0M202.3 81.7l4.2 0M202.3 92.5l4.2 0M208.4 81.7l4.2 0M208.4 92.5l4.2 0M214.6 81.7l4.2 0M214.6 92.5l4.2 0M220.8 81.7l4.2 0M220.8 92.5l4.2 0M227 81.7l4.2 0M227 92.5l4.2 0M233.2 81.7l4.2 0M233.2 92.5l4.2 0M239.4 81.7l4.2 0M239.4 92.5l4.2 0M245.5 81.7l4.2 0M245.5 92.5l4.2 0M251.7 81.7l4.2 0M251.7 92.5l4.2 0M257.9 81.7l4.2 0M257.9 92.5l4.2 0M264.1 81.7l4.2 0M264.1 92.5l4.2 0M270.3 81.7l4.2 0M270.3 92.5l4.2 0M276.5 81.7l4.2 0M276.5 92.5l4.2 0M282.6 81.7l4.2 0M282.6 92.5l4.2 0M288.8 81.7l4.2 0M288.8 92.5l4.2 0M295 81.7l4.2 0M295 92.5l4.2 0M301.2 81.7l4.2 0M301.2 92.5l4.2 0M307.4 81.7l4.2 0M307.4 92.5l4.2 0M313.6 81.7l4.2 0M313.6 92.5l4.2 0M319.8 81.7l4.2 0M319.8 92.5l4.2 0M325.9 81.7l4.2 0M325.9 92.5l4.2 0M332.1 81.7l4.2 0M332.1 92.5l4.2 0M338.3 81.7l4.2 0M338.3 92.5l4.2 0M344.5 81.7l4.2 0M344.5 92.5l4.2 0M350.7 81.7l4.2 0M350.7 92.5l4.2 0M356.9 81.7l4.2 0M356.9 92.5l4.2 0M363 81.7l4.2 0M363 92.5l4.2 0M369.2 81.7l4.2 0M369.2 92.5l4.2 0M375.4 81.7l4.2 0M375.4 92.5l4.2 0M381.6 81.7l4.2 0M381.6 92.5l4.2 0M387.8 81.7l4.2 0M387.8 92.5l4.2 0M394 81.7l4.2 0M394 92.5l4.2 0M400.1 81.7l4.2 0M400.1 92.5l4.2 0M406.3 81.7l4.2 0M406.3 92.5l4.2 0M412.5 81.7l4.2 0M412.5 92.5l4.2 0M418.7 81.7l4.2 0M418.7 92.5l4.2 0M424.9 81.7l4.2 0M424.9 92.5l4.2 0M431.1 81.7l4.2 0M431.1 92.5l4.2 0M437.2 81.7l4.2 0M437.2 92.5l4.2 0M443.4 81.7l4.2 0M443.4 92.5l4.2 0M449.6 81.7l4.2 0M449.6 92.5l4.2 0M455.8 81.7l4.2 0M455.8 92.5l4.2 0M462 81.7l4.2 0M462 92.5l4.2 0M468.2 81.7l4.2 0M468.2 92.5l4.2 0M474.4 81.7l4.2 0M474.4 92.5l4.2 0M480.5 81.7l4.2 0M480.5 92.5l4.2 0M486.7 81.7l4.2 0M486.7 92.5l4.2 0M492.9 81.7l4.2 0M492.9 92.5l4.2 0M499.1 81.7l4.2 0M499.1 92.5l4.2 0M505.6 81.8l4.2 .3M504.9 92.6l4.2 .3M512.3 82.5l4.1 .7M510.5 93.1l4.1 .7M518.8 84l4.1 1.1M516.1 94.2l4.1 1.1M525.2 86l3.9 1.5M521.5 95.8l3.9 1.5M531.3 88.7l3.8 1.9M526.8 97.9l3.8 1.9M537.2 92l3.6 2.2M531.8 100.6l3.6 2.2M542.7 95.8l3.3 2.6M536.5 103.7l3.3 2.6M547.8 100.2l3 2.9M540.8 107.3l3 2.9M552.4 105.1l2.7 3.2M544.7 111.5l2.7 3.2M556.5 110.5l2.3 3.5M548 116l2.3 3.5M560 116.2l1.9 3.7M550.9 120.9l1.9 3.7M562.8 122.3l1.5 3.9M553.1 126l1.5 3.9M565.1 128.6l1.1 4M554.9 131.4l1.1 4M566.7 135.1l.8 4.1M556.2 137l.8 4.1M567.7 141.6l.4 4.2M557 142.7l.4 4.2M568.2 148.2l.1 4.2M557.4 148.4l.1 4.2M568.2 154.5l0 4.2M557.4 154.5l0 4.2M568.2 160.7l0 4.2M557.4 160.7l0 4.2M568.2 166.9l0 4.2M557.4 166.9l0 4.2M568.2 173l0 4.2M557.4 173l0 4.2M568.2 179.2l0 4.2M557.4 179.2l0 4.2M568.2 185.4l0 4.2M557.4 185.4l0 4.2M568.2 191.6l0 4.2M557.4 191.6l0 4.2M568.2 197.8l0 4.2M557.4 197.8l0 4.2M568.2 204l0 4.2M557.4 204l0 4.2M568.2 210.1l0 4.2M557.4 210.1l0 4.2M568.2 216.3l0 4.2M557.4 216.3l0 4.2M568.2 222.5l0 4.2M557.4 222.5l0 4.2M568.2 228.7l0 4.2M557.4 228.7l0 4.2M568.2 234.9l0 4.2M557.4 234.9l0 4.2M568.2 241.1l0 4.2M557.4 241.1l0 4.2M568.2 247.2l0 4.2M557.4 247.2l0 4.2M568.1 253.6l-.1 4.2M557.3 253.3l-.1 4.2M567.8 260l-.3 4.2M557.1 259.2l-.3 4.2M567.1 266.4l-.5 4.2M556.6 265.1l-.5 4.2M566.1 272.9l-.8 4.1M555.8 270.9l-.8 4.1M564.5 279.3l-1.1 4.1M554.6 276.6l-1.1 4.1M562.4 285.5l-1.4 3.9M553.1 282.1l-1.4 3.9M559.7 291.6l-1.8 3.8M551.1 287.5l-1.8 3.8M556.2 297.4l-2.3 3.5M548.6 292.5l-2.3 3.5M552.2 302.8l-2.7 3.2M545.5 297.2l-2.7 3.2M547.6 307.7l-3.1 2.9M541.7 301.3l-3.1 2.9M542.5 312.1l-3.4 2.4M537.3 304.9l-3.4 2.4M536.9 315.9l-3.7 2M532.5 307.8l-3.7 2M531 319l-3.9 1.6M527.3 310.1l-3.9 1.6M524.9 321.5l-4 1.3M521.8 311.9l-4 1.3M518.6 323.4l-4.1 1M516.2 313.3l-4.1 1M512.2 324.9l-4.1 .7M510.5 314.4l-4.1 .7M505.8 325.8l-4.2 .5M504.7 315.2l-4.2 .5M499.4 326.4l-4.2 .2M498.7 315.7l-4.2 .2M493 326.7l-4.2 .1M492.8 315.9l-4.2 .1M486.7 326.8l-4.2 0M486.7 316l-4.2 0M480.5 326.8l-4.2 0M480.5 316l-4.2 0M474.3 326.8l-4.2 0M474.3 316l-4.2 0M468.2 326.8l-4.2 0M468.2 316l-4.2 0M462 326.8l-4.2 0M462 316l-4.2 0M455.8 326.8l-4.2 0M455.8 316l-4.2 0M449.6 326.8l-4.2 0M449.6 316l-4.2 0M443.4 326.8l-4.2 0M443.4 316l-4.2 0M437.2 326.8l-4.2 0M437.2 316l-4.2 0M431.1 326.8l-4.2 0M431.1 316l-4.2 0M424.9 326.8l-4.2 0M424.9 316l-4.2 0M418.7 326.8l-4.2 0M418.7 316l-4.2 0M412.5 326.8l-4.2 0M412.5 316l-4.2 0M406.3 326.8l-4.2 0M406.3 316l-4.2 0M400.1 326.8l-4.2 0M400.1 316l-4.2 0M393.9 326.8l-4.2 0M393.9 316l-4.2 0M387.8 326.8l-4.2 0M387.8 316l-4.2 0M381.6 326.8l-4.2 0M381.6 316l-4.2 0M375.4 326.8l-4.2 0M375.4 316l-4.2 0M369.2 326.8l-4.2 0M369.2 316l-4.2 0M363 326.8l-4.2 0M363 316l-4.2 0M356.8 326.8l-4.2 0M356.8 316l-4.2 0M350.7 326.8l-4.2 0M350.7 316l-4.2 0M344.5 326.8l-4.2 0M344.5 316l-4.2 0M338.3 326.8l-4.2 0M338.3 316l-4.2 0M332.1 326.8l-4.2 0M332.1 316l-4.2 0M325.9 326.8l-4.2 0M325.9 316l-4.2 0M319.7 326.8l-4.2 0M319.7 316l-4.2 0M313.6 326.8l-4.2 0M313.6 316l-4.2 0M307.4 326.8l-4.2 0M307.4 316l-4.2 0M301.2 326.8l-4.2 0M301.2 316l-4.2 0M295 326.8l-4.2 0M295 316l-4.2 0M288.8 326.8l-4.2 0M288.8 316l-4.2 0M282.6 326.8l-4.2 0M282.6 316l-4.2 0M276.4 326.8l-4.2 0M276.4 316l-4.2 0M270.3 326.8l-4.2 0M270.3 316l-4.2 0M264.1 326.8l-4.2 0M264.1 316l-4.2 0M257.9 326.8l-4.2 0M257.9 316l-4.2 0M251.7 326.8l-4.2 0M251.7 316l-4.2 0M245.5 326.8l-4.2 0M245.5 316l-4.2 0M239.3 326.8l-4.2 0M239.3 316l-4.2 0M233.2 326.8l-4.2 0M233.2 316l-4.2 0M227 326.8l-4.2 0M227 316l-4.2 0M220.8 326.8l-4.2 0M220.8 316l-4.2 0M214.6 326.8l-4.2 0M214.6 316l-4.2 0M208.4 326.8l-4.2 0M208.4 316l-4.2 0M202.2 326.8l-4.2 0M202.2 316l-4.2 0M196.1 326.8l-4.2 0M196.1 316l-4.2 0M189.9 326.8l-4.2 0M189.9 316l-4.2 0M183.7 326.8l-4.2 0M183.7 316l-4.2 0M177.5 326.8l-4.2 0M177.5 316l-4.2 0M171.3 326.8l-4.2 0M171.3 316l-4.2 0M164.7 326.5l-4.2-.4M165.6 315.8l-4.2-.4M158 325.6l-4.1-.8M160 315.2l-4.1-.8M151.5 323.9l-4-1.2M154.5 314l-4-1.2M145.2 321.6l-3.9-1.7M149.2 312.3l-3.9-1.7M139.2 318.5l-3.7-2.1M144 309.9l-3.7-2.1M133.5 314.8l-3.4-2.5M139.2 307l-3.4-2.5M128.3 310.6l-3.1-2.8M134.8 303.6l-3.1-2.8M123.6 305.8l-2.7-3.2M130.8 299.6l-2.7-3.2M119.4 300.5l-2.4-3.5M127.4 295.1l-2.4-3.5M115.8 294.8l-2-3.7M124.5 290.2l-2-3.7M112.8 288.9l-1.6-3.9M122.2 285l-1.6-3.9M110.4 282.6l-1.2-4M120.4 279.6l-1.2-4M108.7 276.2l-.9-4.1M119 274.1l-.9-4.1M107.5 269.7l-.5-4.2M118.1 268.4l-.5-4.2M106.8 263.2l-.2-4.2M117.6 262.6l-.2-4.2M106.6 256.7l0-4.2M117.4 256.7l0-4.2M106.6 250.5l0-4.2M117.4 250.5l0-4.2M106.6 244.4l0-4.2M117.4 244.4l0-4.2M106.6 238.2l0-4.2M117.4 238.2l0-4.2M106.6 232l0-4.2M117.4 232l0-4.2M106.6 225.8l0-4.2M117.4 225.8l0-4.2M106.6 219.6l0-4.2M117.4 219.6l0-4.2M106.6 213.4l0-4.2M117.4 213.4l0-4.2M106.6 207.3l0-4.2M117.4 207.3l0-4.2M106.6 201.1l0-4.2M117.4 201.1l0-4.2M106.6 194.9l0-4.2M117.4 194.9l0-4.2M106.6 188.7l0-4.2M117.4 188.7l0-4.2M106.6 182.5l0-4.2M117.4 182.5l0-4.2M106.6 176.3l0-4.2M117.4 176.3l0-4.2M106.6 170.1l0-4.2M117.4 170.1l0-4.2M106.6 164l0-4.2M117.4 164l0-4.2M106.6 157.8l0-4.2M117.4 157.8l0-4.2M106.6 151.6l0-4.2M117.4 151.6l0-4.2M106.6 145.2l.1-4.2M117.4 145.6l.1-4.2M107.1 138.5l.6-4.2M117.8 140l.6-4.2M108.3 131.9l1-4.1M118.8 134.4l1-4.1M110.1 125.4l1.4-4M120.3 129l1.4-4M112.6 119.2l1.8-3.8M122.4 123.7l1.8-3.8M115.7 113.2l2.1-3.6M124.9 118.7l2.1-3.6M119.3 107.6l2.5-3.4M128 114l2.5-3.4M123.5 102.3l2.8-3.1M131.5 109.5l2.8-3.1M128.2 97.5l3.1-2.8M135.5 105.5l3.1-2.8M133.4 93.2l3.4-2.5M139.8 101.9l3.4-2.5M139 89.4l3.6-2.1M144.4 98.8l3.6-2.1M145 86.3l3.9-1.7M149.3 96.2l3.9-1.7M151.5 83.9l4-1.2M154.5 94.3l4-1.2M158.2 82.3l4.2-.6M159.8 93l4.2-.6" stroke="#efedc2" stroke-width="1.05"/>
</g>
<path d="M195.6 97.5Q190.6 97.5 191.1 104L198.4 117.5L210.4 117.5L217.7 104Q218.2 97.5 213.2 97.5Z" fill="#f4e632"/>
<rect x="177.3" y="104.4" width="23.1" height="16.2" rx="7" fill="#5cc4ee" stroke="#3f9fd0" stroke-width="0.8"/>
<rect x="209.4" y="104.4" width="21.3" height="16.2" rx="7" fill="#5cc4ee" stroke="#3f9fd0" stroke-width="0.8"/>
<ellipse cx="204" cy="57" rx="15.9" ry="6.9" fill="#3fbcb4" stroke="#2f9c98" stroke-width="0.8"/>
<rect x="189.6" y="64.4" width="29.6" height="33.8" rx="6.5" fill="#e59a30" stroke="#c4832a" stroke-width="0.8"/>
<path d="M269.1 97.5Q264.1 97.5 264.6 104L271.6 117.5L283.6 117.5L290.5 104Q291 97.5 286 97.5Z" fill="#f4e632"/>
<rect x="250.8" y="104.4" width="23.1" height="16.2" rx="7" fill="#5cc4ee" stroke="#3f9fd0" stroke-width="0.8"/>
<rect x="282.2" y="104.4" width="21.3" height="16.2" rx="7" fill="#5cc4ee" stroke="#3f9fd0" stroke-width="0.8"/>
<ellipse cx="278.4" cy="57.3" rx="16.2" ry="6.6" fill="#c3e3d0"/>
<rect x="263.1" y="64.4" width="28.9" height="33.8" rx="6.5" fill="#e59a30" stroke="#c4832a" stroke-width="0.8"/>
<path d="M341.4 97.5Q336.4 97.5 336.9 104L344.1 117.5L356.1 117.5L363.3 104Q363.8 97.5 358.8 97.5Z" fill="#f4e632"/>
<rect x="323.1" y="104.4" width="23.1" height="16.2" rx="7" fill="#5cc4ee" stroke="#3f9fd0" stroke-width="0.8"/>
<rect x="355" y="104.4" width="21.3" height="16.2" rx="7" fill="#5cc4ee" stroke="#3f9fd0" stroke-width="0.8"/>
<ellipse cx="352.4" cy="57.3" rx="16.2" ry="6.6" fill="#c3e3d0"/>
<rect x="335.4" y="64.4" width="29.4" height="33.8" rx="6.5" fill="#e59a30" stroke="#c4832a" stroke-width="0.8"/>
<circle cx="182.4" cy="23.5" r="3.6" fill="#60c8f0" stroke="#3898cc" stroke-width="1.1"/>
<circle cx="186" cy="29.9" r="3.6" fill="#60c8f0" stroke="#3898cc" stroke-width="1.1"/>
<circle cx="179.9" cy="32" r="3.6" fill="#60c8f0" stroke="#3898cc" stroke-width="1.1"/>
<circle cx="198" cy="26" r="3.7" fill="#60c8f0" stroke="#3898cc" stroke-width="1.1"/>
<circle cx="197.1" cy="35.1" r="3.7" fill="#60c8f0" stroke="#3898cc" stroke-width="1.1"/>
<circle cx="211" cy="137.2" r="3.4" fill="#60c8f0" stroke="#3898cc" stroke-width="1.1"/>
<circle cx="197.5" cy="141.2" r="3.3" fill="#60c8f0" stroke="#3898cc" stroke-width="1.1"/>
<circle cx="330.1" cy="20.6" r="3.8" fill="#60c8f0" stroke="#3898cc" stroke-width="1.1"/>
<circle cx="340.1" cy="26.7" r="3.8" fill="#60c8f0" stroke="#3898cc" stroke-width="1.1"/>
<circle cx="322.9" cy="30.1" r="3.8" fill="#60c8f0" stroke="#3898cc" stroke-width="1.1"/>
<path d="M203.6 42.6L203.6 130.4" stroke="#1a1a1a" stroke-width="1.5" fill="none" stroke-dasharray="5 1.6"/>
<path d="M201.2 125.8L203.6 130.4L206 125.8" stroke="#1a1a1a" stroke-width="1.5" fill="none" stroke-linejoin="miter"/>
<path d="M227.8 88.4L253.7 88.4" stroke="#1a1a1a" stroke-width="1.4" fill="none"/>
<path d="M249.1 90.8L253.7 88.4L249.1 86" stroke="#1a1a1a" stroke-width="1.4" fill="none" stroke-linejoin="miter"/>
<path d="M300.3 88.4L326.6 88.4" stroke="#1a1a1a" stroke-width="1.4" fill="none"/>
<path d="M322 90.8L326.6 88.4L322 86" stroke="#1a1a1a" stroke-width="1.4" fill="none" stroke-linejoin="miter"/>
<path d="M331.3 31.3L337.6 43.3" stroke="#1a1a1a" stroke-width="1.5" fill="none"/>
<path d="M339.5 47L335.2 44.1L337.6 43.3L339.5 41.8Z" fill="#1a1a1a"/>
<path d="M333.4 50.2L345.4 47M334.5 54L347 50.2" stroke="#1a1a1a" stroke-width="1.5" fill="none"/>
<path d="M361.6 47L373 52.9M360 50.2L371.4 56.4" stroke="#1a1a1a" stroke-width="1.5" fill="none"/>
<polygon points="236.5,36 235.2,24.5 245,16.8 257.5,18.5 258.8,29.5 249,37.6" fill="#e3e3cf" stroke="#8a8878" stroke-width=".8"/>
<ellipse cx="246.8" cy="27.2" rx="5.2" ry="4.3" fill="#dbe9e2" stroke="#86cdd6" stroke-width="1.2"/>
<polyline points="204,43.3 223,43.3 222.3,49.8" fill="none" stroke="#96947f" stroke-width=".8"/>
<polyline points="222.3,49.8 230.7,49.5 230.7,63.5" fill="none" stroke="#96947f" stroke-width=".8"/>
<path d="M236.5 36L222.3 49.8" stroke="#3c3c38" stroke-width="1" fill="none"/>
<polygon points="391.5,21.1 389.9,12.3 399.8,.8 410.5,2.5 413,11.5 403.1,21.4" fill="#e3e3cf" stroke="#8a8878" stroke-width=".8"/>
<ellipse cx="401.1" cy="11.9" rx="5.5" ry="4.5" fill="#dbe9e2" stroke="#86cdd6" stroke-width="1.2"/>
<polyline points="362.4,28.8 378.4,27.2 379.2,34.6" fill="none" stroke="#96947f" stroke-width=".8"/>
<polyline points="379.2,34.6 386.1,33.8 385.5,49.1" fill="none" stroke="#96947f" stroke-width=".8"/>
<path d="M391.5 21.1L378.4 34.6" stroke="#3c3c38" stroke-width="1" fill="none"/>
<path d="M379.3 34.2L370.2 45.4" stroke="#1a1a1a" stroke-width="1.8" fill="none"/>
<path d="M367.6 48.6L368.6 43.5L370.2 45.4L372.4 46.6Z" fill="#1a1a1a"/>
<rect x="68.8" y="170.8" width="44.7" height="5.8" rx="2.6" fill="#f68b2c"/>
<rect x="70.2" y="201.1" width="43.3" height="5.4" rx="2.6" fill="#f68b2c"/>
<rect x="82.5" y="176.6" width="25.2" height="12.3" rx="3" fill="#f8b42a" stroke="#d9982a" stroke-width="0.8"/>
<rect x="82.5" y="188.9" width="25.2" height="12.2" rx="3" fill="#f8b42a" stroke="#d9982a" stroke-width="0.8"/>
<rect x="107.7" y="176.2" width="13" height="12.7" rx="3.2" fill="#5ec4f0" stroke="#4aa6d6" stroke-width="0.7"/>
<rect x="107.7" y="188.9" width="13" height="12.7" rx="3.2" fill="#5ec4f0" stroke="#4aa6d6" stroke-width="0.7"/>
<ellipse cx="122.2" cy="174.4" rx="4.1" ry="2.7" fill="#cf80c8" stroke="#b868b0" stroke-width="0.5"/>
<ellipse cx="123.6" cy="201.8" rx="4.1" ry="2.7" fill="#cf80c8" stroke="#b868b0" stroke-width="0.5"/>
<ellipse cx="74.5" cy="188.9" rx="7.2" ry="14.4" fill="#d8e22c" stroke="#aeb82a" stroke-width="0.8"/>
<rect x="70.9" y="238" width="42.6" height="5.1" rx="2.6" fill="#f68b2c"/>
<rect x="71.6" y="269" width="43.4" height="5.1" rx="2.6" fill="#f68b2c"/>
<rect x="83.9" y="243.1" width="24.5" height="13.3" rx="3" fill="#aad66c" stroke="#84b24e" stroke-width="0.8"/>
<rect x="83.9" y="256.4" width="24.5" height="12.6" rx="3" fill="#aad66c" stroke="#84b24e" stroke-width="0.8"/>
<rect x="108.4" y="242.7" width="13.3" height="13.7" rx="3.2" fill="#5ec4f0" stroke="#4aa6d6" stroke-width="0.7"/>
<rect x="108.4" y="256.4" width="13.3" height="13.1" rx="3.2" fill="#5ec4f0" stroke="#4aa6d6" stroke-width="0.7"/>
<ellipse cx="122.9" cy="241.4" rx="4.1" ry="2.7" fill="#cf80c8" stroke="#b868b0" stroke-width="0.5"/>
<ellipse cx="124.7" cy="269" rx="4.1" ry="2.7" fill="#cf80c8" stroke="#b868b0" stroke-width="0.5"/>
<ellipse cx="76.3" cy="256.4" rx="6.9" ry="14.9" fill="#d8e22c" stroke="#aeb82a" stroke-width="0.8"/>
<rect x="72.7" y="306.2" width="41.2" height="4.8" rx="2.6" fill="#f68b2c"/>
<rect x="72.7" y="336.4" width="41.2" height="4.9" rx="2.6" fill="#f68b2c"/>
<rect x="84.6" y="311" width="23.9" height="13" rx="3" fill="#aad66c" stroke="#84b24e" stroke-width="0.8"/>
<rect x="84.6" y="324" width="23.9" height="12.4" rx="3" fill="#aad66c" stroke="#84b24e" stroke-width="0.8"/>
<rect x="108.5" y="310.6" width="13" height="13.4" rx="3.2" fill="#5ec4f0" stroke="#4aa6d6" stroke-width="0.7"/>
<rect x="108.5" y="324" width="13" height="12.9" rx="3.2" fill="#5ec4f0" stroke="#4aa6d6" stroke-width="0.7"/>
<ellipse cx="124.1" cy="310.3" rx="4.1" ry="2.7" fill="#cf80c8" stroke="#b868b0" stroke-width="0.5"/>
<ellipse cx="124.1" cy="336.4" rx="4.1" ry="2.7" fill="#cf80c8" stroke="#b868b0" stroke-width="0.5"/>
<ellipse cx="77.7" cy="324" rx="6.5" ry="14.1" fill="#d8e22c" stroke="#aeb82a" stroke-width="0.8"/>
<path d="M50.7 190.3L135.1 190.3" stroke="#1a1a1a" stroke-width="1.6" fill="none" stroke-dasharray="5.2 1.8"/>
<path d="M130.5 192.7L135.1 190.3L130.5 187.9" stroke="#1a1a1a" stroke-width="1.6" fill="none" stroke-linejoin="miter"/>
<path d="M56.7 324.6L135.6 324.6" stroke="#1a1a1a" stroke-width="1.6" fill="none" stroke-dasharray="5.2 1.8"/>
<path d="M131 327L135.6 324.6L131 322.2" stroke="#1a1a1a" stroke-width="1.6" fill="none" stroke-linejoin="miter"/>
<path d="M97.3 213L97.3 233.7" stroke="#1a1a1a" stroke-width="1.4" fill="none"/>
<path d="M94.9 229.1L97.3 233.7L99.7 229.1" stroke="#1a1a1a" stroke-width="1.4" fill="none" stroke-linejoin="miter"/>
<path d="M98.7 280.6L98.7 301.2" stroke="#1a1a1a" stroke-width="1.4" fill="none"/>
<path d="M96.3 296.6L98.7 301.2L101.1 296.6" stroke="#1a1a1a" stroke-width="1.4" fill="none" stroke-linejoin="miter"/>
<polygon points="26.4,137.3 37.1,134 46.5,143 45.3,155.4 35.4,158.2 26.4,149.7" fill="#e3e3cf" stroke="#8a8878" stroke-width=".8"/>
<ellipse cx="35.4" cy="146.4" rx="5" ry="5" fill="#dbe9e2" stroke="#86cdd6" stroke-width="1.2"/>
<polyline points="74.1,161.2 61,162.5 60.1,169.4" fill="none" stroke="#96947f" stroke-width=".8"/>
<polyline points="60.1,169.4 54.4,170.2 56,186.7" fill="none" stroke="#96947f" stroke-width=".8"/>
<path d="M45.3 155.9L60.1 169.4" stroke="#3c3c38" stroke-width="1" fill="none"/>
<polygon points="2.5,282.2 10.7,275.2 20.6,278.5 25.5,290.5 17.3,297.9 7.4,293.8" fill="#e3e3cf" stroke="#8a8878" stroke-width=".8"/>
<ellipse cx="14" cy="286.4" rx="5" ry="4.6" fill="#dbe9e2" stroke="#86cdd6" stroke-width="1.2"/>
<polyline points="54,288 39.5,294.9 43.2,301.2" fill="none" stroke="#96947f" stroke-width=".8"/>
<polyline points="43.2,301.2 37.6,303.2 44.2,319.3" fill="none" stroke="#96947f" stroke-width=".8"/>
<path d="M25.5 291.3L43.2 301.2" stroke="#3c3c38" stroke-width="1" fill="none"/>
<path d="M50.2 307.4L61.9 310.1" stroke="#1a1a1a" stroke-width="1.6" fill="none"/>
<path d="M65.9 311.1L60.9 312.4L61.9 310.1L62 307.7Z" fill="#1a1a1a"/>
<path d="M65.1 316.8L68.4 305.3M68.9 316.8L72 305.8" stroke="#1a1a1a" stroke-width="1.5" fill="none"/>
<ellipse cx="328.2" cy="412.4" rx="3.4" ry="12.3" fill="#b8922e" stroke="#9a7a26" stroke-width="0.6"/>
<ellipse cx="335.3" cy="412.4" rx="3.4" ry="12.3" fill="#b8922e" stroke="#9a7a26" stroke-width="0.6"/>
<ellipse cx="331.7" cy="390.5" rx="7.8" ry="11.6" fill="#c87cc8" stroke="#b268b4" stroke-width="0.7"/>
<path d="M318.6 369L344.8 369L338.4 382.4Q331.7 379 325 382.4Z" fill="#c6dc2a"/>
<ellipse cx="382.8" cy="412.4" rx="3.4" ry="12.3" fill="#3fbcec" stroke="#3aa6d8" stroke-width="0.6"/>
<ellipse cx="390" cy="412.4" rx="3.4" ry="12.3" fill="#3fbcec" stroke="#3aa6d8" stroke-width="0.6"/>
<ellipse cx="386.4" cy="390.5" rx="7.8" ry="11.6" fill="#c87cc8" stroke="#b268b4" stroke-width="0.7"/>
<path d="M373.3 369L399.5 369L393.1 382.4Q386.4 379 379.7 382.4Z" fill="#c6dc2a"/>
<ellipse cx="435.1" cy="412.4" rx="3.4" ry="12.3" fill="#3fbcec" stroke="#3aa6d8" stroke-width="0.6"/>
<ellipse cx="442.7" cy="412.4" rx="3.4" ry="12.3" fill="#3fbcec" stroke="#3aa6d8" stroke-width="0.6"/>
<ellipse cx="438.8" cy="390.5" rx="7.8" ry="11.6" fill="#c87cc8" stroke="#b268b4" stroke-width="0.7"/>
<path d="M425.7 369L451.9 369L445.5 382.4Q438.8 379 432.1 382.4Z" fill="#c6dc2a"/>
<circle cx="316.4" cy="336.8" r="3.3" fill="#f6ee52" stroke="#aaa224" stroke-width="1.0"/>
<circle cx="329" cy="331.9" r="3.3" fill="#f6ee52" stroke="#aaa224" stroke-width="1.0"/>
<circle cx="324.9" cy="340.1" r="3.3" fill="#f6ee52" stroke="#aaa224" stroke-width="1.0"/>
<circle cx="338.3" cy="341.1" r="3.3" fill="#f6ee52" stroke="#aaa224" stroke-width="1.0"/>
<circle cx="315.5" cy="428.9" r="3.3" fill="#f6ee52" stroke="#aaa224" stroke-width="1.0"/>
<circle cx="319.3" cy="435.5" r="3.3" fill="#f6ee52" stroke="#aaa224" stroke-width="1.0"/>
<circle cx="413.9" cy="344.4" r="3.3" fill="#f6ee52" stroke="#aaa224" stroke-width="1.0"/>
<circle cx="422.5" cy="337.3" r="3.3" fill="#f6ee52" stroke="#aaa224" stroke-width="1.0"/>
<circle cx="432.3" cy="336.5" r="3.3" fill="#f6ee52" stroke="#aaa224" stroke-width="1.0"/>
<path d="M331.2 349.7L331.2 430.8" stroke="#1a1a1a" stroke-width="1.5" fill="none" stroke-dasharray="5 1.6"/>
<path d="M328.8 426.2L331.2 430.8L333.6 426.2" stroke="#1a1a1a" stroke-width="1.5" fill="none" stroke-linejoin="miter"/>
<path d="M345.2 392.3L370.7 392.3" stroke="#1a1a1a" stroke-width="1.4" fill="none"/>
<path d="M366.1 394.7L370.7 392.3L366.1 389.9" stroke="#1a1a1a" stroke-width="1.4" fill="none" stroke-linejoin="miter"/>
<path d="M398.6 392.5L424.3 392.5" stroke="#1a1a1a" stroke-width="1.4" fill="none"/>
<path d="M419.7 394.9L424.3 392.5L419.7 390.1" stroke="#1a1a1a" stroke-width="1.4" fill="none" stroke-linejoin="miter"/>
<path d="M424.3 345.5L430.1 356.7" stroke="#1a1a1a" stroke-width="1.5" fill="none"/>
<path d="M432 360.4L427.7 357.4L430.1 356.7L432.1 355.2Z" fill="#1a1a1a"/>
<path d="M426.2 364.2L437.8 360.4M427.6 368.1L439.1 363.7" stroke="#1a1a1a" stroke-width="1.5" fill="none"/>
<polygon points="358.4,443.2 367.4,438.7 378.1,445.3 380.6,455.2 371.5,459.6 360.5,452.7" fill="#e3e3cf" stroke="#8a8878" stroke-width=".8"/>
<ellipse cx="369.6" cy="449.1" rx="5.6" ry="4.3" fill="#dbe9e2" stroke="#86cdd6" stroke-width="1.2"/>
<polyline points="343.5,414.8 347.7,430.5 341.6,432.1" fill="none" stroke="#96947f" stroke-width=".8"/>
<polyline points="341.6,432.1 343.5,438.2 328.2,441.5" fill="none" stroke="#96947f" stroke-width=".8"/>
<path d="M341.6 432.1L358.4 442.5" stroke="#3c3c38" stroke-width="1" fill="none"/>
<polygon points="483.5,462 491.3,458.9 500.8,466 501.5,475.5 493.7,481.5 483.2,474.3" fill="#e3e3cf" stroke="#8a8878" stroke-width=".8"/>
<ellipse cx="491.3" cy="470.6" rx="5" ry="4.6" fill="#dbe9e2" stroke="#86cdd6" stroke-width="1.2"/>
<polyline points="475.4,429.3 475.4,443.5 468.8,446.4" fill="none" stroke="#96947f" stroke-width=".8"/>
<polyline points="468.8,446.4 466.9,453 452.2,453" fill="none" stroke="#96947f" stroke-width=".8"/>
<path d="M468.8 446.4L483.5 461.3" stroke="#3c3c38" stroke-width="1" fill="none"/>
<path d="M461.7 438.8L453.9 431" stroke="#1a1a1a" stroke-width="1.6" fill="none"/>
<path d="M451 428.1L456 429.6L453.9 431L452.5 433.1Z" fill="#1a1a1a"/>
<path d="M441.5 426.9L449.8 419.8M443.9 430L452.6 422.6" stroke="#1a1a1a" stroke-width="1.5" fill="none"/>
<path d="M595.2 152.2V177" stroke="#8ea630" stroke-width="1.2"/>
<circle cx="595.2" cy="152.2" r="2.1" fill="#8ea630"/>
<circle cx="595.2" cy="158.4" r="2.1" fill="#8ea630"/>
<circle cx="595.2" cy="164.6" r="2.1" fill="#8ea630"/>
<circle cx="595.2" cy="170.8" r="2.1" fill="#8ea630"/>
<circle cx="595.2" cy="177" r="2.1" fill="#8ea630"/>
<path d="M600.2 151.2V178" stroke="#9a9a5a" stroke-width=".7" fill="none"/>
<path d="M600.2 151.7h5.2M600.2 154.1h5.2M600.2 156.5h5.2M600.2 158.9h5.2M600.2 161.3h5.2M600.2 163.7h5.2M600.2 166.1h5.2M600.2 168.5h5.2M600.2 170.9h5.2M600.2 173.3h5.2M600.2 175.7h5.2" stroke="#9a9a5a" stroke-width=".6" fill="none"/>
<path d="M606 153.7H623.8" stroke="#f0c070" stroke-width=".9"/>
<circle cx="614.3" cy="153.7" r="3.5" fill="#f2a838"/>
<circle cx="623.8" cy="153.7" r="3.5" fill="#cf8c26"/>
<path d="M633.2 153.7H660.9" stroke="#60c2d4" stroke-width="2.4"/>
<circle cx="633.2" cy="153.7" r="3.6" fill="#60c2d4"/>
<circle cx="642.3" cy="153.7" r="3.6" fill="#60c2d4"/>
<circle cx="651.5" cy="153.7" r="3.6" fill="#60c2d4"/>
<circle cx="660.9" cy="153.7" r="3.6" fill="#60c2d4"/>
<path d="M606 161H623.8" stroke="#f0c070" stroke-width=".9"/>
<circle cx="614.3" cy="161" r="3.5" fill="#f2a838"/>
<circle cx="623.8" cy="161" r="3.5" fill="#cf8c26"/>
<path d="M633.2 161H642.3" stroke="#60c2d4" stroke-width="2.4"/>
<circle cx="633.2" cy="161" r="3.6" fill="#60c2d4"/>
<circle cx="642.3" cy="161" r="3.6" fill="#60c2d4"/>
<path d="M606 168.3H623.8" stroke="#f0c070" stroke-width=".9"/>
<circle cx="614.3" cy="168.3" r="3.5" fill="#f2a838"/>
<circle cx="623.8" cy="168.3" r="3.5" fill="#cf8c26"/>
<path d="M633.2 168.3H651.5" stroke="#60c2d4" stroke-width="2.4"/>
<circle cx="633.2" cy="168.3" r="3.6" fill="#60c2d4"/>
<circle cx="642.3" cy="168.3" r="3.6" fill="#60c2d4"/>
<circle cx="651.5" cy="168.3" r="3.6" fill="#60c2d4"/>
<path d="M606 175.6H623.8" stroke="#f0c070" stroke-width=".9"/>
<circle cx="614.3" cy="175.6" r="3.5" fill="#f2a838"/>
<circle cx="623.8" cy="175.6" r="3.5" fill="#cf8c26"/>
<path d="M633.2 175.6H660.9" stroke="#60c2d4" stroke-width="2.4"/>
<circle cx="633.2" cy="175.6" r="3.6" fill="#60c2d4"/>
<circle cx="642.3" cy="175.6" r="3.6" fill="#60c2d4"/>
<circle cx="651.5" cy="175.6" r="3.6" fill="#60c2d4"/>
<circle cx="660.9" cy="175.6" r="3.6" fill="#60c2d4"/>
<path d="M633.2 153.7V175.6" stroke="#60c2d4" stroke-width="2.4"/>
<path d="M642.3 153.7V175.6" stroke="#60c2d4" stroke-width="2.4"/>
<path d="M595.2 212.5V241.7" stroke="#8ea630" stroke-width="1.2"/>
<circle cx="595.2" cy="212.5" r="2.1" fill="#8ea630"/>
<circle cx="595.2" cy="219.8" r="2.1" fill="#8ea630"/>
<circle cx="595.2" cy="227.1" r="2.1" fill="#8ea630"/>
<circle cx="595.2" cy="234.4" r="2.1" fill="#8ea630"/>
<circle cx="595.2" cy="241.7" r="2.1" fill="#8ea630"/>
<path d="M600.2 211.5V242.7" stroke="#9a9a5a" stroke-width=".7" fill="none"/>
<path d="M600.2 212h5.2M600.2 214.4h5.2M600.2 216.8h5.2M600.2 219.2h5.2M600.2 221.6h5.2M600.2 224h5.2M600.2 226.4h5.2M600.2 228.8h5.2M600.2 231.2h5.2M600.2 233.6h5.2M600.2 236h5.2M600.2 238.4h5.2M600.2 240.8h5.2" stroke="#9a9a5a" stroke-width=".6" fill="none"/>
<path d="M606 214.5H623.9" stroke="#f0c070" stroke-width=".9"/>
<circle cx="614.2" cy="214.5" r="3.7" fill="#f2a838"/>
<circle cx="623.9" cy="214.5" r="3.7" fill="#cf8c26"/>
<path d="M632.6 214.5H660.7" stroke="#aad872" stroke-width="2.4"/>
<circle cx="632.6" cy="214.5" r="4.4" fill="#aad872"/>
<circle cx="642.1" cy="214.5" r="4.4" fill="#aad872"/>
<circle cx="651.4" cy="214.5" r="4.4" fill="#aad872"/>
<circle cx="660.7" cy="214.5" r="4.4" fill="#aad872"/>
<path d="M606 223.1H623.9" stroke="#f0c070" stroke-width=".9"/>
<circle cx="614.2" cy="223.1" r="3.7" fill="#f2a838"/>
<circle cx="623.9" cy="223.1" r="3.7" fill="#cf8c26"/>
<path d="M632.6 223.1H642.1" stroke="#aad872" stroke-width="2.4"/>
<circle cx="632.6" cy="223.1" r="4.4" fill="#aad872"/>
<circle cx="642.1" cy="223.1" r="4.4" fill="#aad872"/>
<path d="M606 231.5H623.9" stroke="#f0c070" stroke-width=".9"/>
<circle cx="614.2" cy="231.5" r="3.7" fill="#f2a838"/>
<circle cx="623.9" cy="231.5" r="3.7" fill="#cf8c26"/>
<path d="M632.6 231.5H651.4" stroke="#aad872" stroke-width="2.4"/>
<circle cx="632.6" cy="231.5" r="4.4" fill="#aad872"/>
<circle cx="642.1" cy="231.5" r="4.4" fill="#aad872"/>
<circle cx="651.4" cy="231.5" r="4.4" fill="#aad872"/>
<path d="M606 240H623.9" stroke="#f0c070" stroke-width=".9"/>
<circle cx="614.2" cy="240" r="3.7" fill="#f2a838"/>
<circle cx="623.9" cy="240" r="3.7" fill="#cf8c26"/>
<path d="M632.6 240H660.7" stroke="#aad872" stroke-width="2.4"/>
<circle cx="632.6" cy="240" r="4.4" fill="#aad872"/>
<circle cx="642.1" cy="240" r="4.4" fill="#aad872"/>
<circle cx="651.4" cy="240" r="4.4" fill="#aad872"/>
<circle cx="660.7" cy="240" r="4.4" fill="#aad872"/>
<path d="M632.6 214.5V240" stroke="#aad872" stroke-width="2.4"/>
<path d="M642.1 214.5V240" stroke="#aad872" stroke-width="2.4"/>
<path d="M595.2 278V307.2" stroke="#8ea630" stroke-width="1.2"/>
<circle cx="595.2" cy="278" r="2.1" fill="#8ea630"/>
<circle cx="595.2" cy="285.3" r="2.1" fill="#8ea630"/>
<circle cx="595.2" cy="292.6" r="2.1" fill="#8ea630"/>
<circle cx="595.2" cy="299.9" r="2.1" fill="#8ea630"/>
<circle cx="595.2" cy="307.2" r="2.1" fill="#8ea630"/>
<path d="M600.2 277V308.2" stroke="#9a9a5a" stroke-width=".7" fill="none"/>
<path d="M600.2 277.5h5.2M600.2 279.9h5.2M600.2 282.3h5.2M600.2 284.7h5.2M600.2 287.1h5.2M600.2 289.5h5.2M600.2 291.9h5.2M600.2 294.3h5.2M600.2 296.7h5.2M600.2 299.1h5.2M600.2 301.5h5.2M600.2 303.9h5.2M600.2 306.3h5.2" stroke="#9a9a5a" stroke-width=".6" fill="none"/>
<path d="M606 280.1H623.5" stroke="#f0c070" stroke-width=".9"/>
<circle cx="614.2" cy="280.1" r="3.7" fill="#f2a838"/>
<circle cx="623.5" cy="280.1" r="3.7" fill="#cf8c26"/>
<path d="M632.6 280.1H660.1" stroke="#aad872" stroke-width="2.4"/>
<circle cx="632.6" cy="280.1" r="4.4" fill="#aad872"/>
<circle cx="641.8" cy="280.1" r="4.4" fill="#aad872"/>
<circle cx="651" cy="280.1" r="4.4" fill="#aad872"/>
<circle cx="660.1" cy="280.1" r="4.4" fill="#aad872"/>
<path d="M606 288.6H623.5" stroke="#f0c070" stroke-width=".9"/>
<circle cx="614.2" cy="288.6" r="3.7" fill="#f2a838"/>
<circle cx="623.5" cy="288.6" r="3.7" fill="#cf8c26"/>
<path d="M632.6 288.6H641.8" stroke="#aad872" stroke-width="2.4"/>
<circle cx="632.6" cy="288.6" r="4.4" fill="#aad872"/>
<circle cx="641.8" cy="288.6" r="4.4" fill="#aad872"/>
<path d="M606 297H623.5" stroke="#f0c070" stroke-width=".9"/>
<circle cx="614.2" cy="297" r="3.7" fill="#f2a838"/>
<circle cx="623.5" cy="297" r="3.7" fill="#cf8c26"/>
<path d="M632.6 297H651" stroke="#aad872" stroke-width="2.4"/>
<circle cx="632.6" cy="297" r="4.4" fill="#aad872"/>
<circle cx="641.8" cy="297" r="4.4" fill="#aad872"/>
<circle cx="651" cy="297" r="4.4" fill="#aad872"/>
<path d="M606 305.5H623.5" stroke="#f0c070" stroke-width=".9"/>
<circle cx="614.2" cy="305.5" r="3.7" fill="#f2a838"/>
<circle cx="623.5" cy="305.5" r="3.7" fill="#cf8c26"/>
<path d="M632.6 305.5H660.1" stroke="#aad872" stroke-width="2.4"/>
<circle cx="632.6" cy="305.5" r="4.4" fill="#aad872"/>
<circle cx="641.8" cy="305.5" r="4.4" fill="#aad872"/>
<circle cx="651" cy="305.5" r="4.4" fill="#aad872"/>
<circle cx="660.1" cy="305.5" r="4.4" fill="#aad872"/>
<path d="M632.6 280.1V305.5" stroke="#aad872" stroke-width="2.4"/>
<path d="M641.8 280.1V305.5" stroke="#aad872" stroke-width="2.4"/>
<path d="M637.8 182.5L637.8 202" stroke="#1a1a1a" stroke-width="1.4" fill="none"/>
<path d="M635.4 197.4L637.8 202L640.2 197.4" stroke="#1a1a1a" stroke-width="1.4" fill="none" stroke-linejoin="miter"/>
<path d="M637.4 248L637.4 267.5" stroke="#1a1a1a" stroke-width="1.4" fill="none"/>
<path d="M635 262.9L637.4 267.5L639.8 262.9" stroke="#1a1a1a" stroke-width="1.4" fill="none" stroke-linejoin="miter"/>
<polygon points="684.5,125.2 695.8,115.4 707.7,117.6 709.4,129.5 698,138.1 686.1,135.5" fill="#e3e3cf" stroke="#8a8878" stroke-width=".8"/>
<ellipse cx="696.7" cy="126.9" rx="5" ry="4.8" fill="#dbe9e2" stroke="#86cdd6" stroke-width="1.2"/>
<polyline points="652.5,141 666.6,142.5 668.3,149.6" fill="none" stroke="#96947f" stroke-width=".8"/>
<polyline points="668.3,149.6 676.3,148.5 674.6,165.8" fill="none" stroke="#96947f" stroke-width=".8"/>
<path d="M686.1 135.5L668.3 149.6" stroke="#3c3c38" stroke-width="1" fill="none"/>
<polygon points="712.5,329.7 721.8,323.2 731.5,326 735.4,335.8 727.2,344 716.8,340.5" fill="#e3e3cf" stroke="#8a8878" stroke-width=".8"/>
<ellipse cx="723.5" cy="333.6" rx="5" ry="4.6" fill="#dbe9e2" stroke="#86cdd6" stroke-width="1.2"/>
<polyline points="693,304.4 700.8,318.4 694.7,322.8" fill="none" stroke="#96947f" stroke-width=".8"/>
<polyline points="694.7,322.8 698.6,326.7 684.5,335.3" fill="none" stroke="#96947f" stroke-width=".8"/>
<path d="M694.7 322.8L712.5 329.7" stroke="#3c3c38" stroke-width="1" fill="none"/>
<path d="M690 318L670.5 310.9" stroke="#1a1a1a" stroke-width="2.0" fill="none"/>
<path d="M675.8 309.5L670.5 310.9L673.7 315.4" stroke="#1a1a1a" stroke-width="2.0" fill="none" stroke-linejoin="miter"/>
<path d="M662.3 316.7L666.6 301.6M664.9 317.4L669.3 302.2" stroke="#1a1a1a" stroke-width="1.7" fill="none"/>
<circle cx="718.6" cy="47.8" r=".8" fill="#8f8d76"/><circle cx="477.6" cy="270.2" r=".5" fill="#8a887a"/>
<text x="261" y="43.4" font-size="9.6" fill="#2a2a28" stroke="#2a2a28" stroke-width="0.22" textLength="37.1" lengthAdjust="spacingAndGlyphs">mutation</text>
<text x="171.8" y="155" font-size="9.6" fill="#2a2a28" stroke="#2a2a28" stroke-width="0.22" textLength="60.5" lengthAdjust="spacingAndGlyphs">nutrient channel/</text>
<text x="171.8" y="167.6" font-size="9.6" fill="#2a2a28" stroke="#2a2a28" stroke-width="0.22" textLength="53.6" lengthAdjust="spacingAndGlyphs">phage receptor</text>
<text x="304.8" y="139" font-size="9.6" fill="#2a2a28" stroke="#2a2a28" stroke-width="0.22" textLength="88.6" lengthAdjust="spacingAndGlyphs">phage resistant cause</text>
<text x="304.8" y="151.5" font-size="9.6" fill="#2a2a28" stroke="#2a2a28" stroke-width="0.22" textLength="88.6" lengthAdjust="spacingAndGlyphs">cell growth disorders</text>
<text x="17.1" y="197.8" font-size="10.2" fill="#2a2a28" stroke="#2a2a28" stroke-width="0.22" textLength="23" lengthAdjust="spacingAndGlyphs">Fe 2+</text>
<text x="145.1" y="195" font-size="9.6" fill="#2a2a28" stroke="#2a2a28" stroke-width="0.22" textLength="100.5" lengthAdjust="spacingAndGlyphs">Iron ion carrier receptor</text>
<text x="145.1" y="207.7" font-size="9.6" fill="#2a2a28" stroke="#2a2a28" stroke-width="0.22" textLength="65" lengthAdjust="spacingAndGlyphs">/phage receptor</text>
<text x="128.2" y="259.1" font-size="9.6" fill="#2a2a28" stroke="#2a2a28" stroke-width="0.22" textLength="37.2" lengthAdjust="spacingAndGlyphs">mutation</text>
<text x="21.4" y="332.5" font-size="10.2" fill="#2a2a28" stroke="#2a2a28" stroke-width="0.22" textLength="24" lengthAdjust="spacingAndGlyphs">Fe 2+</text>
<text x="145.2" y="315.8" font-size="9.6" fill="#2a2a28" stroke="#2a2a28" stroke-width="0.22" textLength="107.8" lengthAdjust="spacingAndGlyphs">phage resistant cause iron</text>
<text x="145.2" y="327.7" font-size="9.6" fill="#2a2a28" stroke="#2a2a28" stroke-width="0.22" textLength="82.6" lengthAdjust="spacingAndGlyphs">ion intake disorders</text>
<text x="297.9" y="312" font-size="9.6" fill="#2a2a28" stroke="#2a2a28" stroke-width="0.22" textLength="65" lengthAdjust="spacingAndGlyphs">phage receptor/</text>
<text x="297.9" y="324.2" font-size="9.6" fill="#2a2a28" stroke="#2a2a28" stroke-width="0.22" textLength="78.1" lengthAdjust="spacingAndGlyphs">drug efflux system</text>
<text x="385.1" y="306.1" font-size="9.6" fill="#2a2a28" stroke="#2a2a28" stroke-width="0.22" textLength="88.4" lengthAdjust="spacingAndGlyphs">phage resistant cause</text>
<text x="385.1" y="319" font-size="9.6" fill="#2a2a28" stroke="#2a2a28" stroke-width="0.22" textLength="81.6" lengthAdjust="spacingAndGlyphs">increased antibiotic</text>
<text x="385.1" y="330.9" font-size="9.6" fill="#2a2a28" stroke="#2a2a28" stroke-width="0.22" textLength="42.6" lengthAdjust="spacingAndGlyphs">sensitivity</text>
<text x="366.1" y="435.5" font-size="9.6" fill="#2a2a28" stroke="#2a2a28" stroke-width="0.22" textLength="36.8" lengthAdjust="spacingAndGlyphs">mutation</text>
<text x="467.6" y="166.3" font-size="9.8" fill="#2a2a28" stroke="#2a2a28" stroke-width="0.22" textLength="83.5" lengthAdjust="spacingAndGlyphs">LPS/phage receptor</text>
<text x="499" y="226.6" font-size="9.6" fill="#2a2a28" stroke="#2a2a28" stroke-width="0.22" textLength="37.1" lengthAdjust="spacingAndGlyphs">mutation</text>
<text x="481.5" y="279" font-size="10.8" fill="#2a2a28" stroke="#2a2a28" stroke-width="0.35" textLength="70.5" lengthAdjust="spacingAndGlyphs">phage resistant</text>
<text x="481.5" y="292.1" font-size="10.8" fill="#2a2a28" stroke="#2a2a28" stroke-width=".35" xml:space="preserve" textLength="72.8" lengthAdjust="spacingAndGlyphs">cause  bacterial</text>
<text x="481.5" y="305.1" font-size="10.8" fill="#2a2a28" stroke="#2a2a28" stroke-width="0.35" textLength="43.8" lengthAdjust="spacingAndGlyphs">virulence</text>
<text x="481.5" y="317.6" font-size="10.8" fill="#2a2a28" stroke="#2a2a28" stroke-width="0.35" textLength="40.7" lengthAdjust="spacingAndGlyphs">decrease</text>
</svg>
</body></html>
